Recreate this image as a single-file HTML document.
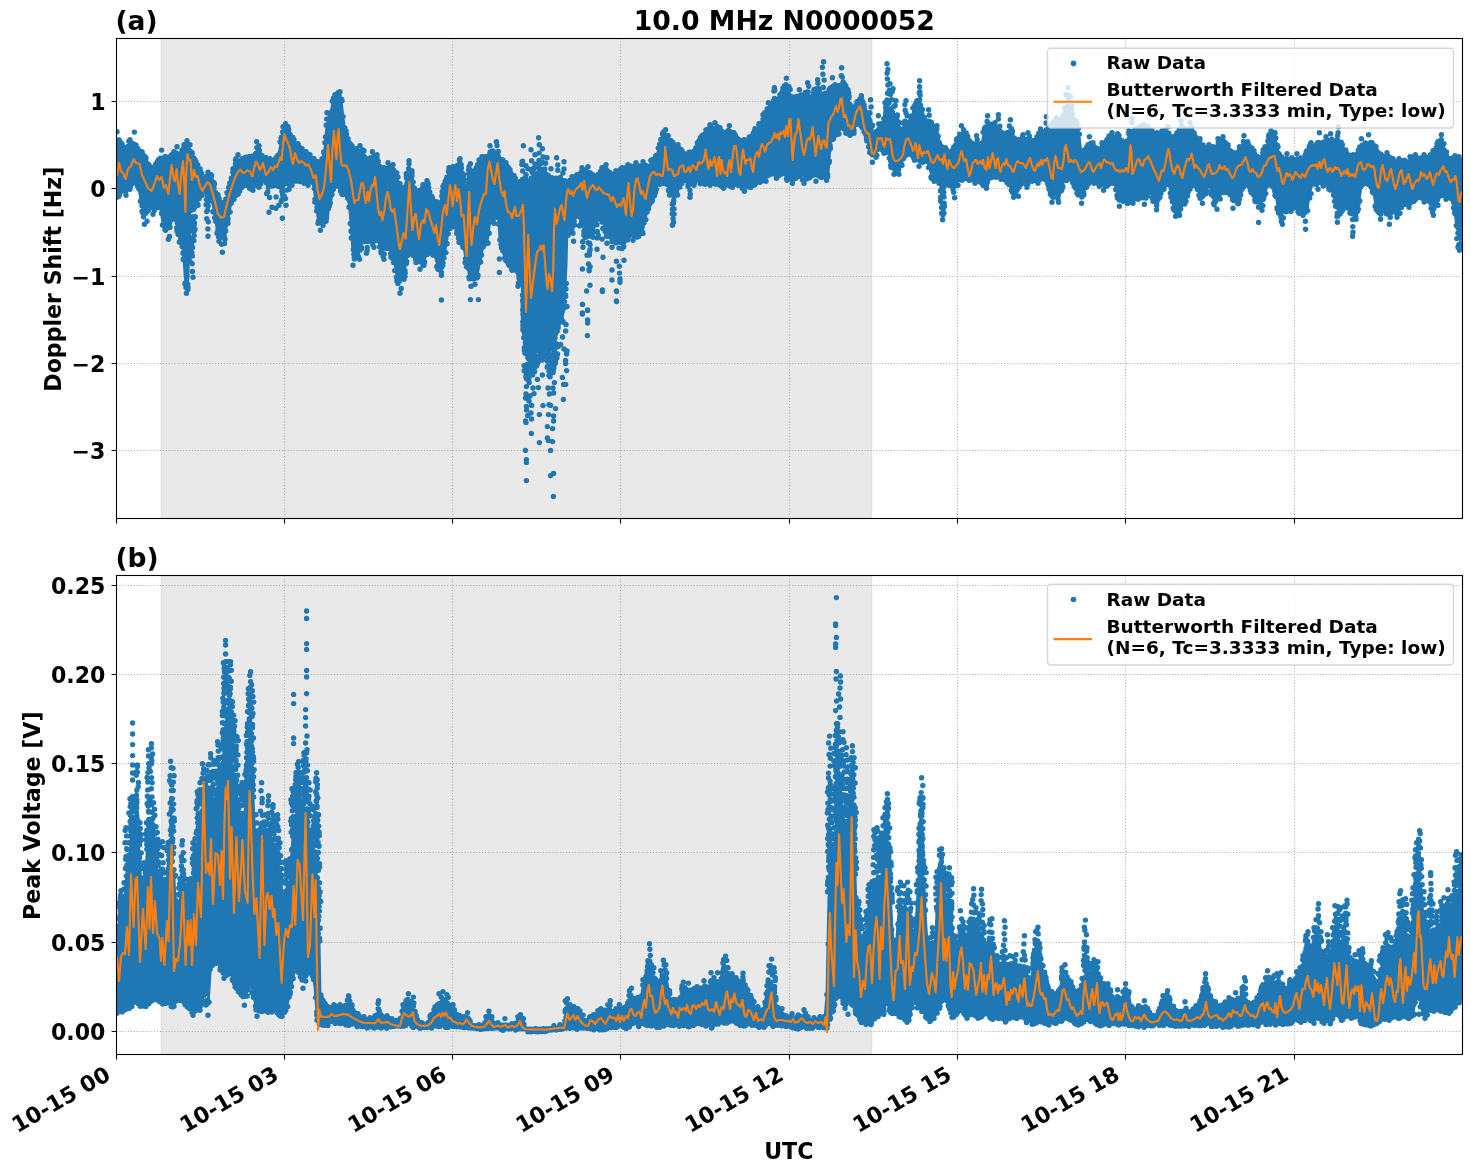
<!DOCTYPE html><html><head><meta charset="utf-8"><title>10.0 MHz N0000052</title>
<style>html,body{margin:0;padding:0;background:#fff}svg{display:block}text{font-family:"DejaVu Sans","Liberation Sans",sans-serif;font-weight:bold;fill:#000}</style></head><body>
<svg width="1471" height="1172" viewBox="0 0 1471 1172">
<rect width="1471" height="1172" fill="#fff"/>
<defs><clipPath id="ca"><rect x="116.5" y="38.5" width="1346" height="480"/></clipPath><clipPath id="cb"><rect x="116.5" y="575.5" width="1346" height="479"/></clipPath></defs>
<rect x="161.3" y="38.5" width="710.2" height="480.0" fill="#d3d3d3" fill-opacity="0.5"/>
<path d="M161.3 38.5V518.5M871.5 38.5V518.5" stroke="#d3d3d3" stroke-opacity="0.5" stroke-width="1.4" fill="none"/>
<path d="M284.50 38.5V518.5M452.50 38.5V518.5M620.50 38.5V518.5M789.50 38.5V518.5M957.50 38.5V518.5M1125.50 38.5V518.5M1294.50 38.5V518.5M116.5 101.50H1462.5M116.5 188.50H1462.5M116.5 276.50H1462.5M116.5 363.50H1462.5M116.5 450.50H1462.5" stroke="#b0b0b0" stroke-width="1.1" stroke-dasharray="1.1 1.8" fill="none"/>
<g clip-path="url(#ca)">
<path d="M116.5 141.9 117.5 141.9 118.5 141.9 119.5 141.9 120.5 143.9 121.5 145.2 122.5 146.8 123.5 148.5 124.5 149.2 125.5 149.0 126.5 148.5 127.5 147.7 128.5 146.0 129.5 143.3 130.5 143.3 131.5 143.3 132.5 143.3 133.5 143.3 134.5 143.3 135.5 143.3 136.5 145.3 137.5 149.1 138.5 151.8 139.5 153.5 140.5 154.2 141.5 154.2 142.5 155.1 143.5 157.6 144.5 159.1 145.5 159.6 146.5 161.5 147.5 164.7 148.5 167.0 149.5 168.3 150.5 169.3 151.5 170.0 152.5 169.7 153.5 168.5 154.5 167.6 155.5 167.1 156.5 165.6 157.5 163.1 158.5 161.1 159.5 159.3 160.5 159.3 161.5 159.3 162.5 159.3 163.5 159.3 164.5 159.3 165.5 159.3 166.5 160.2 167.5 160.4 168.5 159.8 169.5 158.5 170.5 157.9 171.5 157.9 172.5 156.9 173.5 154.9 174.5 154.4 175.5 154.4 176.5 154.4 177.5 154.4 178.5 154.4 179.5 154.4 180.5 154.4 181.5 153.4 182.5 151.4 183.5 148.4 184.5 148.4 185.5 148.4 186.5 148.4 187.5 148.4 188.5 148.4 189.5 148.4 190.5 149.0 191.5 153.0 192.5 155.7 193.5 158.5 194.5 161.5 195.5 163.2 196.5 165.3 197.5 168.0 198.5 169.7 199.5 170.5 200.5 172.3 201.5 175.0 202.5 176.7 203.5 177.5 204.5 178.0 205.5 178.1 206.5 178.1 207.5 178.1 208.5 178.1 209.5 178.1 210.5 178.1 211.5 178.7 212.5 182.0 213.5 184.0 214.5 186.9 215.5 190.9 216.5 193.9 217.5 195.9 218.5 198.9 219.5 202.5 220.5 204.9 221.5 206.0 222.5 206.0 223.5 204.7 224.5 202.9 225.5 200.5 226.5 196.9 227.5 193.0 228.5 189.0 229.5 183.7 230.5 179.7 231.5 177.0 232.5 173.0 233.5 169.7 234.5 167.0 235.5 163.0 236.5 161.3 237.5 161.3 238.5 161.3 239.5 161.3 240.5 161.3 241.5 161.3 242.5 161.3 243.5 162.0 244.5 161.7 245.5 161.0 246.5 161.0 247.5 161.0 248.5 160.7 249.5 159.5 250.5 158.9 251.5 158.9 252.5 157.9 253.5 155.9 254.5 154.0 255.5 154.0 256.5 154.0 257.5 154.0 258.5 154.0 259.5 154.0 260.5 154.0 261.5 156.7 262.5 158.6 263.5 160.1 264.5 160.6 265.5 160.6 266.5 160.6 267.5 161.7 268.5 162.0 269.5 162.0 270.5 162.0 271.5 162.4 272.5 162.4 273.5 161.4 274.5 160.6 275.5 160.1 276.5 158.6 277.5 156.1 278.5 153.0 279.5 149.0 280.5 143.7 281.5 138.3 282.5 132.3 283.5 132.3 284.5 132.3 285.5 132.3 286.5 132.3 287.5 132.3 288.5 132.3 289.5 134.0 290.5 136.0 291.5 138.2 292.5 140.5 293.5 141.5 294.5 142.9 295.5 144.9 296.5 145.9 297.5 145.9 298.5 147.0 299.5 149.2 300.5 150.5 301.5 150.8 302.5 151.8 303.5 153.5 304.5 154.2 305.5 154.2 306.5 154.8 307.5 156.5 308.5 157.2 309.5 157.2 310.5 157.9 311.5 159.9 312.5 160.9 313.5 160.9 314.5 161.8 315.5 163.5 316.5 164.2 317.5 164.2 318.5 164.3 319.5 165.0 320.5 164.7 321.5 163.5 322.5 160.4 323.5 155.0 324.5 148.4 325.5 137.8 326.5 125.5 327.5 122.2 328.5 115.8 329.5 114.5 330.5 112.1 331.5 107.8 332.5 102.6 333.5 101.3 334.5 98.5 335.5 98.5 336.5 98.5 337.5 98.5 338.5 98.5 339.5 98.5 340.5 98.5 341.5 101.1 342.5 109.2 343.5 118.4 344.5 125.0 345.5 130.4 346.5 135.3 347.5 139.3 348.5 142.3 349.5 145.0 350.5 146.7 351.5 147.5 352.5 148.8 353.5 150.5 354.5 151.2 355.5 151.2 356.5 151.2 357.5 151.2 358.5 151.2 359.5 151.2 360.5 151.2 361.5 151.2 362.5 152.5 363.5 152.8 364.5 154.1 365.5 156.6 366.5 158.1 367.5 158.6 368.5 158.8 369.5 158.7 370.5 157.8 371.5 157.8 372.5 157.8 373.5 157.8 374.5 157.8 375.5 157.8 376.5 157.8 377.5 159.4 378.5 164.0 379.5 167.4 380.5 169.4 381.5 170.4 382.5 170.4 383.5 169.4 384.5 168.9 385.5 168.9 386.5 167.9 387.5 167.9 388.5 167.9 389.5 167.9 390.5 167.9 391.5 167.9 392.5 167.9 393.5 168.4 394.5 171.4 395.5 173.4 396.5 174.4 397.5 177.2 398.5 181.5 399.5 184.5 400.5 188.5 401.5 193.5 402.5 197.2 403.5 196.0 404.5 190.0 405.5 182.7 406.5 178.0 407.5 178.0 408.5 178.0 409.5 178.0 410.5 178.0 411.5 178.0 412.5 178.0 413.5 184.0 414.5 188.7 415.5 191.6 416.5 193.1 417.5 193.6 418.5 193.1 419.5 192.6 420.5 192.1 421.5 190.6 422.5 188.9 423.5 188.9 424.5 188.9 425.5 188.9 426.5 188.9 427.5 188.9 428.5 188.9 429.5 191.9 430.5 193.9 431.5 196.4 432.5 199.4 433.5 201.4 434.5 202.4 435.5 203.4 436.5 204.5 437.5 204.9 438.5 204.5 439.5 203.4 440.5 201.0 441.5 197.0 442.5 191.7 443.5 188.0 444.5 186.0 445.5 182.7 446.5 179.5 447.5 176.5 448.5 172.2 449.5 171.0 450.5 171.0 451.5 170.7 452.5 170.0 453.5 170.0 454.5 170.0 455.5 169.7 456.5 169.7 457.5 169.7 458.5 169.7 459.5 169.7 460.5 169.7 461.5 169.7 462.5 173.0 463.5 178.0 464.5 184.0 465.5 188.7 466.5 187.7 467.5 181.0 468.5 179.6 469.5 179.5 470.5 177.1 471.5 173.2 472.5 172.4 473.5 173.6 474.5 174.9 475.5 172.4 476.5 168.1 477.5 164.6 478.5 162.9 479.5 162.9 480.5 161.9 481.5 160.0 482.5 160.0 483.5 160.0 484.5 159.7 485.5 158.5 486.5 157.1 487.5 155.6 488.5 153.1 489.5 152.5 490.5 152.5 491.5 152.5 492.5 152.5 493.5 152.5 494.5 152.5 495.5 152.5 496.5 152.5 497.5 152.5 498.5 152.5 499.5 154.9 500.5 158.5 501.5 160.9 502.5 162.8 503.5 164.5 504.5 165.2 505.5 165.2 506.5 166.3 507.5 169.0 508.5 170.7 509.5 171.5 510.5 173.0 511.5 175.3 512.5 176.9 513.5 177.7 514.5 177.8 515.5 179.3 516.5 182.0 517.5 183.7 518.5 184.5 519.5 181.2 520.5 184.6 521.5 184.3 522.5 184.1 523.5 183.8 524.5 183.6 525.5 183.3 526.5 183.1 527.5 182.8 528.5 182.2 529.5 181.2 530.5 180.2 531.5 179.2 532.5 178.2 533.5 177.2 534.5 176.2 535.5 175.2 536.5 174.7 537.5 174.7 538.5 174.7 539.5 174.7 540.5 174.7 541.5 174.7 542.5 174.7 543.5 174.7 544.5 174.9 545.5 175.4 546.5 175.9 547.5 176.4 548.5 176.9 549.5 177.4 550.5 177.9 551.5 178.4 552.5 178.8 553.5 179.1 554.5 179.3 555.5 179.6 556.5 179.8 557.5 180.1 558.5 180.3 559.5 180.6 560.5 180.9 561.5 181.2 562.5 181.5 563.5 181.9 564.5 182.2 565.5 182.5 566.5 180.2 567.5 183.0 568.5 183.3 569.5 182.9 570.5 181.7 571.5 179.9 572.5 179.9 573.5 179.9 574.5 179.9 575.5 179.1 576.5 177.6 577.5 176.7 578.5 176.4 579.5 175.4 580.5 173.6 581.5 171.9 582.5 171.9 583.5 171.9 584.5 171.9 585.5 171.9 586.5 171.9 587.5 171.9 588.5 171.9 589.5 172.9 590.5 174.9 591.5 176.1 592.5 176.6 593.5 177.2 594.5 177.9 595.5 177.9 596.5 177.1 597.5 175.6 598.5 174.8 599.5 174.5 600.5 173.2 601.5 171.4 602.5 171.4 603.5 171.4 604.5 171.4 605.5 171.4 606.5 171.4 607.5 171.4 608.5 173.4 609.5 174.4 610.5 175.2 611.5 176.1 612.5 176.5 613.5 176.1 614.5 175.1 615.5 174.1 616.5 174.1 617.5 174.1 618.5 174.1 619.5 173.6 620.5 172.4 621.5 171.1 622.5 171.1 623.5 171.1 624.5 171.1 625.5 170.6 626.5 169.4 627.5 169.3 628.5 169.3 629.5 169.3 630.5 169.3 631.5 169.3 632.5 169.0 633.5 168.2 634.5 167.3 635.5 167.3 636.5 167.3 637.5 167.3 638.5 167.3 639.5 167.3 640.5 167.3 641.5 167.3 642.5 167.3 643.5 167.3 644.5 167.3 645.5 168.4 646.5 169.0 647.5 168.9 648.5 168.4 649.5 167.4 650.5 165.4 651.5 162.4 652.5 160.6 653.5 160.1 654.5 158.6 655.5 156.1 656.5 154.0 657.5 152.2 658.5 149.5 659.5 145.8 660.5 142.9 661.5 140.5 662.5 137.5 663.5 137.5 664.5 137.5 665.5 137.5 666.5 137.5 667.5 137.5 668.5 137.5 669.5 139.0 670.5 141.2 671.5 142.5 672.5 142.8 673.5 143.8 674.5 145.7 675.5 146.9 676.5 147.3 677.5 147.3 678.5 148.1 679.5 150.6 680.5 152.1 681.5 152.6 682.5 153.7 683.5 155.6 684.5 157.0 685.5 157.6 686.5 157.6 687.5 157.1 688.5 156.6 689.5 155.1 690.5 153.8 691.5 153.5 692.5 152.2 693.5 150.0 694.5 148.6 695.5 148.1 696.5 146.6 697.5 144.1 698.5 142.6 699.5 142.1 700.5 140.6 701.5 138.1 702.5 136.8 703.5 136.5 704.5 135.2 705.5 133.0 706.5 131.8 707.5 131.5 708.5 130.2 709.5 128.0 710.5 128.0 711.5 128.0 712.5 128.0 713.5 128.0 714.5 128.0 715.5 128.0 716.5 128.0 717.5 129.4 718.5 130.0 719.5 130.0 720.5 130.7 721.5 132.4 722.5 133.4 723.5 133.6 724.5 133.1 725.5 132.9 726.5 132.9 727.5 132.9 728.5 132.9 729.5 132.9 730.5 132.9 731.5 132.9 732.5 134.2 733.5 134.6 734.5 136.0 735.5 138.3 736.5 139.9 737.5 140.7 738.5 140.8 739.5 141.5 740.5 142.8 741.5 143.4 742.5 143.2 743.5 143.1 744.5 143.1 745.5 143.1 746.5 143.1 747.5 142.6 748.5 141.4 749.5 139.6 750.5 138.6 751.5 138.1 752.5 136.9 753.5 134.9 754.5 132.2 755.5 130.8 756.5 130.5 757.5 129.2 758.5 127.0 759.5 125.3 760.5 124.0 761.5 121.7 762.5 118.5 763.5 116.4 764.5 115.0 765.5 112.4 766.5 110.1 767.5 108.6 768.5 108.6 769.5 108.6 770.5 108.6 771.5 106.6 772.5 101.8 773.5 100.3 774.5 100.3 775.5 100.3 776.5 100.3 777.5 100.3 778.5 100.3 779.5 99.0 780.5 96.7 781.5 93.5 782.5 91.1 783.5 91.1 784.5 91.1 785.5 91.1 786.5 91.1 787.5 91.1 788.5 91.1 789.5 91.2 790.5 95.5 791.5 98.5 792.5 100.3 793.5 101.0 794.5 100.7 795.5 99.5 796.5 99.5 797.5 99.5 798.5 99.5 799.5 99.5 800.5 99.5 801.5 99.5 802.5 101.0 803.5 100.5 804.5 97.9 805.5 97.9 806.5 97.9 807.5 97.9 808.5 97.9 809.5 97.9 810.5 97.9 811.5 98.2 812.5 96.5 813.5 94.4 814.5 94.4 815.5 94.4 816.5 94.4 817.5 94.4 818.5 94.4 819.5 94.4 820.5 99.4 821.5 95.1 822.5 95.1 823.5 95.1 824.5 95.1 825.5 95.1 826.5 95.1 827.5 95.1 828.5 95.5 829.5 92.6 830.5 89.0 831.5 89.0 832.5 89.0 833.5 89.0 834.5 89.0 835.5 89.0 836.5 89.0 837.5 89.0 838.5 88.3 839.5 88.3 840.5 88.3 841.5 88.3 842.5 88.3 843.5 88.3 844.5 88.3 845.5 89.0 846.5 91.0 847.5 92.1 848.5 96.1 849.5 103.6 850.5 108.0 851.5 110.0 852.5 110.7 853.5 110.5 854.5 109.7 855.5 108.0 856.5 105.3 857.5 105.3 858.5 105.3 859.5 105.3 860.5 105.3 861.5 105.3 862.5 105.3 863.5 105.6 864.5 109.7 865.5 115.0 866.5 119.0 867.5 119.0 868.5 119.0 869.5 119.0 870.5 120.3 871.5 122.3 872.5 127.2 873.5 139.1 874.5 142.3 875.5 137.2 876.5 131.3 877.5 129.6 878.5 129.6 879.5 129.6 880.5 129.6 881.5 129.6 882.5 127.0 883.5 119.0 884.5 109.7 885.5 107.9 886.5 108.4 887.5 109.0 888.5 110.0 889.5 110.2 890.5 110.3 891.5 112.2 892.5 113.7 893.5 115.9 894.5 118.2 895.5 118.5 896.5 113.6 897.5 114.0 898.5 120.0 899.5 125.4 900.5 130.0 901.5 133.4 902.5 131.4 903.5 124.4 904.5 122.9 905.5 122.9 906.5 122.9 907.5 122.9 908.5 122.9 909.5 122.9 910.5 122.9 911.5 118.9 912.5 113.9 913.5 107.9 914.5 105.0 915.5 105.0 916.5 105.0 917.5 105.0 918.5 105.0 919.5 105.8 920.5 107.0 921.5 107.9 922.5 107.6 923.5 113.7 924.5 119.0 925.5 123.0 926.5 123.0 927.5 123.0 928.5 123.0 929.5 123.0 930.5 123.0 931.5 125.2 932.5 127.5 933.5 128.8 934.5 129.4 935.5 129.4 936.5 129.4 937.5 130.5 938.5 135.7 939.5 140.0 940.5 143.3 941.5 146.0 942.5 148.3 943.5 149.9 944.5 150.7 945.5 150.8 946.5 151.4 947.5 152.6 948.5 153.3 949.5 153.3 950.5 152.6 951.5 151.4 952.5 150.4 953.5 149.5 954.5 147.9 955.5 145.5 956.5 142.4 957.5 139.9 958.5 138.0 959.5 135.2 960.5 134.8 961.5 134.8 962.5 134.8 963.5 134.8 964.5 134.8 965.5 134.8 966.5 134.8 967.5 136.4 968.5 139.5 969.5 141.9 970.5 143.5 971.5 144.4 972.5 144.6 973.5 144.6 974.5 144.6 975.5 144.6 976.5 144.6 977.5 144.6 978.5 145.4 979.5 147.8 980.5 147.1 981.5 143.6 982.5 139.1 983.5 133.6 984.5 129.6 985.5 127.1 986.5 127.1 987.5 127.1 988.5 127.1 989.5 127.1 990.5 127.1 991.5 127.1 992.5 127.6 993.5 127.1 994.5 127.1 995.5 127.1 996.5 127.1 997.5 127.1 998.5 127.1 999.5 127.1 1000.5 128.8 1001.5 132.9 1002.5 135.6 1003.5 137.1 1004.5 137.6 1005.5 137.1 1006.5 135.7 1007.5 135.7 1008.5 135.7 1009.5 135.7 1010.5 135.7 1011.5 135.7 1012.5 135.7 1013.5 138.7 1014.5 141.6 1015.5 143.1 1016.5 143.6 1017.5 143.1 1018.5 142.8 1019.5 142.7 1020.5 141.9 1021.5 140.3 1022.5 138.0 1023.5 138.0 1024.5 138.0 1025.5 138.0 1026.5 138.0 1027.5 138.0 1028.5 138.0 1029.5 138.9 1030.5 140.9 1031.5 142.1 1032.5 142.6 1033.5 142.9 1034.5 142.9 1035.5 141.9 1036.5 139.9 1037.5 138.4 1038.5 137.1 1039.5 134.7 1040.5 133.8 1041.5 133.8 1042.5 133.8 1043.5 133.2 1044.5 130.4 1045.5 128.7 1046.5 128.7 1047.5 128.7 1048.5 128.7 1049.5 128.7 1050.5 128.7 1051.5 128.0 1052.5 126.0 1053.5 124.7 1054.5 124.7 1055.5 124.7 1056.5 124.7 1057.5 124.7 1058.5 124.7 1059.5 124.7 1060.5 123.6 1061.5 121.1 1062.5 117.6 1063.5 113.1 1064.5 107.8 1065.5 107.8 1066.5 107.8 1067.5 107.8 1068.5 107.8 1069.5 107.8 1070.5 107.8 1071.5 108.3 1072.5 115.5 1073.5 120.0 1074.5 122.0 1075.5 122.7 1076.5 124.7 1077.5 128.0 1078.5 130.0 1079.5 135.7 1080.5 145.0 1081.5 153.0 1082.5 156.4 1083.5 155.4 1084.5 153.4 1085.5 150.4 1086.5 147.9 1087.5 146.1 1088.5 146.1 1089.5 146.1 1090.5 146.1 1091.5 146.1 1092.5 146.1 1093.5 146.1 1094.5 148.6 1095.5 150.1 1096.5 150.6 1097.5 150.8 1098.5 150.7 1099.5 149.9 1100.5 148.3 1101.5 146.0 1102.5 145.1 1103.5 145.1 1104.5 144.8 1105.5 143.8 1106.5 142.1 1107.5 139.9 1108.5 138.9 1109.5 138.9 1110.5 137.9 1111.5 137.7 1112.5 137.7 1113.5 137.7 1114.5 137.7 1115.5 137.7 1116.5 137.7 1117.5 137.7 1118.5 138.3 1119.5 140.7 1120.5 142.1 1121.5 142.6 1122.5 143.6 1123.5 145.1 1124.5 145.6 1125.5 145.1 1126.5 143.4 1127.5 140.0 1128.5 135.4 1129.5 131.4 1130.5 131.4 1131.5 131.4 1132.5 131.4 1133.5 131.4 1134.5 131.4 1135.5 131.4 1136.5 131.9 1137.5 131.9 1138.5 131.1 1139.5 129.6 1140.5 129.6 1141.5 129.6 1142.5 129.6 1143.5 129.6 1144.5 129.6 1145.5 129.6 1146.5 129.6 1147.5 129.6 1148.5 129.9 1149.5 131.9 1150.5 132.9 1151.5 132.9 1152.5 133.6 1153.5 135.1 1154.5 135.9 1155.5 135.9 1156.5 135.9 1157.5 135.9 1158.5 135.9 1159.5 135.9 1160.5 135.1 1161.5 133.6 1162.5 133.6 1163.5 133.6 1164.5 133.6 1165.5 133.6 1166.5 133.6 1167.5 133.6 1168.5 133.6 1169.5 134.1 1170.5 136.6 1171.5 138.1 1172.5 140.4 1173.5 143.0 1174.5 144.4 1175.5 142.8 1176.5 137.8 1177.5 133.9 1178.5 131.9 1179.5 130.8 1180.5 130.8 1181.5 130.8 1182.5 130.8 1183.5 130.8 1184.5 130.8 1185.5 130.8 1186.5 130.8 1187.5 130.8 1188.5 130.8 1189.5 130.8 1190.5 130.8 1191.5 130.8 1192.5 132.6 1193.5 134.1 1194.5 135.9 1195.5 138.1 1196.5 139.8 1197.5 140.8 1198.5 141.1 1199.5 141.1 1200.5 142.2 1201.5 144.9 1202.5 146.9 1203.5 148.1 1204.5 148.6 1205.5 149.1 1206.5 149.6 1207.5 149.6 1208.5 149.6 1209.5 149.6 1210.5 149.6 1211.5 149.6 1212.5 149.1 1213.5 148.6 1214.5 148.1 1215.5 146.9 1216.5 144.9 1217.5 142.2 1218.5 142.2 1219.5 142.2 1220.5 142.2 1221.5 142.2 1222.5 142.2 1223.5 142.2 1224.5 142.9 1225.5 144.9 1226.5 146.1 1227.5 146.6 1228.5 148.2 1229.5 150.9 1230.5 152.9 1231.5 154.1 1232.5 154.6 1233.5 154.8 1234.5 154.7 1235.5 153.9 1236.5 152.3 1237.5 150.0 1238.5 148.5 1239.5 147.9 1240.5 146.7 1241.5 144.9 1242.5 144.7 1243.5 144.7 1244.5 144.7 1245.5 144.7 1246.5 144.7 1247.5 144.7 1248.5 144.7 1249.5 146.2 1250.5 148.9 1251.5 150.9 1252.5 152.1 1253.5 152.6 1254.5 153.7 1255.5 155.6 1256.5 157.0 1257.5 157.6 1258.5 157.6 1259.5 157.1 1260.5 156.6 1261.5 156.1 1262.5 154.9 1263.5 152.9 1264.5 150.2 1265.5 147.9 1266.5 145.9 1267.5 142.9 1268.5 138.9 1269.5 137.7 1270.5 137.7 1271.5 137.7 1272.5 137.7 1273.5 137.7 1274.5 137.7 1275.5 137.7 1276.5 143.0 1277.5 147.0 1278.5 150.6 1279.5 154.1 1280.5 156.6 1281.5 158.1 1282.5 159.1 1283.5 159.6 1284.5 159.6 1285.5 159.6 1286.5 159.6 1287.5 159.6 1288.5 159.6 1289.5 159.9 1290.5 160.3 1291.5 160.3 1292.5 160.3 1293.5 160.3 1294.5 160.3 1295.5 160.3 1296.5 160.3 1297.5 160.3 1298.5 160.3 1299.5 160.4 1300.5 161.0 1301.5 160.9 1302.5 160.6 1303.5 160.1 1304.5 158.9 1305.5 156.9 1306.5 154.2 1307.5 152.4 1308.5 151.4 1309.5 149.4 1310.5 148.9 1311.5 148.9 1312.5 148.9 1313.5 148.9 1314.5 148.9 1315.5 147.8 1316.5 145.7 1317.5 144.4 1318.5 144.4 1319.5 144.4 1320.5 144.4 1321.5 144.4 1322.5 144.4 1323.5 144.4 1324.5 143.0 1325.5 140.4 1326.5 140.4 1327.5 140.4 1328.5 140.4 1329.5 140.4 1330.5 140.4 1331.5 140.4 1332.5 141.5 1333.5 143.4 1334.5 144.4 1335.5 143.2 1336.5 143.2 1337.5 143.2 1338.5 143.2 1339.5 143.2 1340.5 143.2 1341.5 143.2 1342.5 144.5 1343.5 147.5 1344.5 150.7 1345.5 153.0 1346.5 154.3 1347.5 155.6 1348.5 157.1 1349.5 158.1 1350.5 158.5 1351.5 158.1 1352.5 157.9 1353.5 157.9 1354.5 157.9 1355.5 157.9 1356.5 157.1 1357.5 155.6 1358.5 153.3 1359.5 150.0 1360.5 146.6 1361.5 146.6 1362.5 146.6 1363.5 146.6 1364.5 146.6 1365.5 146.0 1366.5 145.9 1367.5 145.9 1368.5 145.9 1369.5 145.9 1370.5 145.9 1371.5 145.9 1372.5 145.9 1373.5 147.9 1374.5 148.9 1375.5 148.9 1376.5 150.0 1377.5 152.3 1378.5 153.9 1379.5 154.7 1380.5 154.8 1381.5 155.4 1382.5 156.6 1383.5 157.3 1384.5 157.3 1385.5 157.3 1386.5 157.3 1387.5 157.3 1388.5 158.1 1389.5 159.8 1390.5 160.8 1391.5 161.1 1392.5 161.1 1393.5 161.4 1394.5 162.6 1395.5 163.3 1396.5 163.3 1397.5 163.3 1398.5 163.3 1399.5 163.3 1400.5 163.3 1401.5 164.1 1402.5 164.5 1403.5 164.1 1404.5 163.3 1405.5 163.3 1406.5 163.3 1407.5 162.9 1408.5 161.7 1409.5 160.2 1410.5 160.2 1411.5 160.2 1412.5 160.2 1413.5 160.2 1414.5 160.2 1415.5 160.2 1416.5 160.2 1417.5 160.6 1418.5 161.2 1419.5 161.0 1420.5 160.9 1421.5 160.9 1422.5 159.9 1423.5 159.9 1424.5 159.9 1425.5 159.9 1426.5 159.9 1427.5 159.9 1428.5 159.2 1429.5 158.6 1430.5 158.1 1431.5 156.6 1432.5 154.1 1433.5 152.5 1434.5 151.7 1435.5 150.0 1436.5 147.3 1437.5 145.4 1438.5 145.4 1439.5 145.4 1440.5 145.4 1441.5 145.4 1442.5 145.4 1443.5 145.4 1444.5 147.7 1445.5 150.6 1446.5 154.1 1447.5 156.6 1448.5 158.1 1449.5 159.3 1450.5 160.4 1451.5 160.9 1452.5 160.7 1453.5 160.2 1454.5 160.2 1455.5 160.2 1456.5 160.2 1457.5 160.2 1458.5 160.2 1459.5 160.2 1460.5 162.8 1461.5 164.2 1462.5 164.7 L1462.5 231.5 1461.5 231.1 1460.5 229.7 1459.5 227.7 1458.5 226.4 1457.5 226.4 1456.5 226.0 1455.5 220.2 1454.5 211.2 1453.5 205.1 1452.5 201.1 1451.5 198.1 1450.5 196.1 1449.5 194.9 1448.5 194.4 1447.5 194.4 1446.5 194.4 1445.5 194.4 1444.5 194.1 1443.5 193.1 1442.5 193.1 1441.5 193.9 1440.5 195.4 1439.5 197.9 1438.5 201.4 1437.5 203.7 1436.5 203.7 1435.5 203.7 1434.5 203.7 1433.5 203.7 1432.5 203.7 1431.5 203.7 1430.5 202.3 1429.5 200.2 1428.5 198.6 1427.5 197.6 1426.5 197.4 1425.5 197.4 1424.5 197.4 1423.5 197.1 1422.5 195.5 1421.5 194.6 1420.5 194.5 1419.5 194.7 1418.5 194.7 1417.5 194.7 1416.5 195.1 1415.5 196.3 1414.5 198.2 1413.5 199.2 1412.5 199.3 1411.5 200.1 1410.5 201.7 1409.5 201.8 1408.5 201.8 1407.5 201.8 1406.5 201.8 1405.5 201.8 1404.5 202.4 1403.5 203.4 1402.5 204.4 1401.5 206.4 1400.5 209.5 1399.5 209.5 1398.5 209.5 1397.5 209.5 1396.5 209.5 1395.5 209.5 1394.5 209.5 1393.5 209.4 1392.5 210.4 1391.5 210.4 1390.5 210.4 1389.5 210.4 1388.5 210.4 1387.5 210.4 1386.5 210.4 1385.5 208.3 1384.5 207.7 1383.5 209.0 1382.5 209.5 1381.5 209.5 1380.5 209.5 1379.5 209.5 1378.5 209.5 1377.5 209.5 1376.5 209.5 1375.5 205.9 1374.5 199.4 1373.5 193.9 1372.5 189.4 1371.5 186.0 1370.5 183.7 1369.5 182.1 1368.5 181.3 1367.5 181.2 1366.5 180.8 1365.5 180.1 1364.5 180.1 1363.5 180.9 1362.5 182.4 1361.5 186.3 1360.5 193.0 1359.5 201.0 1358.5 206.6 1357.5 210.0 1356.5 214.6 1355.5 214.6 1354.5 214.6 1353.5 214.6 1352.5 214.6 1351.5 214.6 1350.5 214.6 1349.5 211.4 1348.5 207.9 1347.5 205.4 1346.5 203.9 1345.5 203.4 1344.5 203.9 1343.5 205.4 1342.5 207.9 1341.5 207.9 1340.5 207.9 1339.5 207.9 1338.5 207.9 1337.5 207.9 1336.5 207.9 1335.5 204.8 1334.5 198.3 1333.5 193.8 1332.5 191.1 1331.5 189.1 1330.5 187.9 1329.5 187.4 1328.5 186.3 1327.5 184.4 1326.5 183.0 1325.5 182.4 1324.5 182.4 1323.5 182.7 1322.5 182.7 1321.5 182.7 1320.5 182.7 1319.5 182.7 1318.5 182.7 1317.5 182.7 1316.5 182.7 1315.5 182.7 1314.5 182.7 1313.5 183.0 1312.5 184.6 1311.5 187.6 1310.5 191.6 1309.5 196.6 1308.5 202.7 1307.5 210.1 1306.5 210.4 1305.5 210.4 1304.5 210.4 1303.5 210.4 1302.5 210.4 1301.5 210.4 1300.5 210.4 1299.5 210.4 1298.5 209.6 1297.5 206.6 1296.5 204.6 1295.5 203.6 1294.5 203.4 1293.5 203.9 1292.5 205.4 1291.5 207.1 1290.5 207.1 1289.5 207.1 1288.5 207.1 1287.5 207.5 1286.5 208.6 1285.5 210.4 1284.5 210.4 1283.5 210.4 1282.5 210.4 1281.5 210.4 1280.5 210.4 1279.5 210.4 1278.5 210.1 1277.5 206.0 1276.5 200.0 1275.5 195.3 1274.5 191.4 1273.5 187.9 1272.5 185.4 1271.5 183.9 1270.5 182.7 1269.5 182.7 1268.5 184.1 1267.5 186.1 1266.5 189.1 1265.5 193.1 1264.5 196.8 1263.5 200.5 1262.5 200.5 1261.5 200.5 1260.5 200.5 1259.5 200.5 1258.5 200.5 1257.5 200.5 1256.5 200.2 1255.5 199.4 1254.5 197.5 1253.5 194.3 1252.5 192.0 1251.5 190.7 1250.5 188.7 1249.5 186.0 1248.5 184.3 1247.5 183.5 1246.5 183.0 1245.5 182.7 1244.5 183.1 1243.5 184.3 1242.5 186.2 1241.5 188.7 1240.5 192.0 1239.5 196.5 1238.5 200.8 1237.5 200.8 1236.5 200.8 1235.5 200.8 1234.5 200.8 1233.5 200.8 1232.5 200.8 1231.5 198.5 1230.5 194.8 1229.5 192.1 1228.5 190.1 1227.5 189.1 1226.5 189.1 1225.5 189.2 1224.5 189.3 1223.5 190.1 1222.5 191.7 1221.5 194.0 1220.5 196.1 1219.5 198.1 1218.5 198.1 1217.5 198.1 1216.5 198.1 1215.5 198.1 1214.5 198.1 1213.5 198.1 1212.5 195.7 1211.5 191.6 1210.5 188.6 1209.5 187.1 1208.5 187.1 1207.5 188.1 1206.5 190.1 1205.5 192.0 1204.5 192.0 1203.5 192.0 1202.5 192.0 1201.5 192.0 1200.5 192.0 1199.5 192.0 1198.5 191.4 1197.5 187.9 1196.5 185.4 1195.5 183.9 1194.5 183.0 1193.5 182.7 1192.5 183.1 1191.5 184.3 1190.5 186.2 1189.5 188.1 1188.5 190.1 1187.5 193.1 1186.5 197.1 1185.5 199.6 1184.5 201.0 1183.5 203.6 1182.5 205.8 1181.5 207.3 1180.5 207.6 1179.5 207.8 1178.5 207.9 1177.5 207.5 1176.5 208.7 1175.5 208.7 1174.5 208.6 1173.5 206.7 1172.5 201.1 1171.5 196.9 1170.5 192.6 1169.5 188.0 1168.5 184.6 1167.5 183.1 1166.5 183.1 1165.5 184.1 1164.5 186.1 1163.5 187.6 1162.5 188.6 1161.5 190.6 1160.5 193.6 1159.5 196.4 1158.5 197.6 1157.5 197.6 1156.5 197.6 1155.5 197.6 1154.5 197.6 1153.5 197.6 1152.5 197.6 1151.5 194.6 1150.5 192.6 1149.5 191.6 1148.5 191.8 1147.5 193.1 1146.5 195.2 1145.5 196.5 1144.5 196.5 1143.5 196.5 1142.5 196.5 1141.5 196.5 1140.5 196.5 1139.5 196.5 1138.5 196.7 1137.5 196.7 1136.5 196.7 1135.5 197.1 1134.5 198.3 1133.5 199.1 1132.5 199.1 1131.5 199.1 1130.5 199.1 1129.5 199.1 1128.5 199.1 1127.5 199.1 1126.5 198.9 1125.5 198.1 1124.5 198.1 1123.5 198.1 1122.5 198.1 1121.5 198.1 1120.5 198.1 1119.5 198.1 1118.5 198.1 1117.5 194.9 1116.5 191.1 1115.5 187.1 1114.5 184.1 1113.5 182.1 1112.5 180.8 1111.5 180.1 1110.5 180.1 1109.5 180.9 1108.5 182.4 1107.5 183.2 1106.5 183.2 1105.5 183.2 1104.5 183.2 1103.5 183.2 1102.5 183.2 1101.5 183.2 1100.5 183.2 1099.5 183.2 1098.5 182.4 1097.5 180.9 1096.5 180.1 1095.5 180.1 1094.5 180.1 1093.5 180.1 1092.5 180.1 1091.5 180.1 1090.5 180.9 1089.5 182.4 1088.5 183.1 1087.5 183.1 1086.5 184.1 1085.5 186.1 1084.5 188.7 1083.5 191.7 1082.5 191.7 1081.5 191.7 1080.5 191.7 1079.5 191.7 1078.5 191.7 1077.5 191.7 1076.5 189.4 1075.5 185.9 1074.5 183.1 1073.5 181.1 1072.5 179.8 1071.5 178.6 1070.5 177.5 1069.5 177.1 1068.5 177.5 1067.5 178.6 1066.5 179.4 1065.5 179.9 1064.5 181.1 1063.5 183.1 1062.5 185.8 1061.5 188.5 1060.5 191.5 1059.5 193.4 1058.5 193.4 1057.5 193.4 1056.5 193.4 1055.5 193.4 1054.5 193.4 1053.5 193.4 1052.5 193.4 1051.5 193.4 1050.5 192.5 1049.5 188.8 1048.5 185.6 1047.5 182.5 1046.5 180.1 1045.5 178.5 1044.5 177.6 1043.5 176.9 1042.5 176.4 1041.5 176.4 1040.5 177.0 1039.5 177.5 1038.5 177.5 1037.5 177.5 1036.5 177.5 1035.5 177.5 1034.5 177.5 1033.5 177.9 1032.5 178.8 1031.5 179.2 1030.5 179.3 1029.5 179.3 1028.5 179.3 1027.5 179.3 1026.5 179.3 1025.5 179.3 1024.5 179.3 1023.5 179.3 1022.5 179.2 1021.5 180.7 1020.5 184.0 1019.5 187.1 1018.5 187.6 1017.5 188.5 1016.5 189.4 1015.5 190.0 1014.5 190.5 1013.5 190.9 1012.5 191.4 1011.5 189.1 1010.5 187.7 1009.5 185.7 1008.5 182.8 1007.5 180.8 1006.5 179.7 1005.5 179.1 1004.5 177.4 1003.5 176.3 1002.5 176.2 1001.5 176.2 1000.5 176.2 999.5 174.9 998.5 174.1 997.5 174.1 996.5 174.1 995.5 174.1 994.5 173.5 993.5 173.1 992.5 173.5 991.5 174.6 990.5 175.8 989.5 177.1 988.5 179.2 987.5 180.0 986.5 180.0 985.5 180.0 984.5 180.0 983.5 180.0 982.5 180.0 981.5 180.0 980.5 179.3 979.5 178.8 978.5 178.1 977.5 178.1 976.5 178.1 975.5 178.1 974.5 178.1 973.5 178.1 972.5 177.4 971.5 176.9 970.5 176.9 969.5 176.9 968.5 176.9 967.5 176.1 966.5 175.3 965.5 175.1 964.5 175.6 963.5 176.7 962.5 177.2 961.5 177.3 960.5 178.1 959.5 179.7 958.5 182.0 957.5 184.1 956.5 184.1 955.5 184.1 954.5 184.1 953.5 184.1 952.5 184.1 951.5 184.1 950.5 183.1 949.5 183.1 948.5 182.6 947.5 181.6 946.5 181.6 945.5 182.6 944.5 182.6 943.5 182.6 942.5 182.6 941.5 182.6 940.5 182.6 939.5 182.6 938.5 180.4 937.5 178.9 936.5 178.1 935.5 178.1 934.5 178.1 933.5 178.0 932.5 176.0 931.5 175.3 930.5 172.6 929.5 168.0 928.5 164.6 927.5 162.2 926.5 160.3 925.5 159.1 924.5 158.7 923.5 159.0 922.5 159.0 921.5 159.0 920.5 159.0 919.5 159.0 918.5 159.0 917.5 159.0 916.5 158.6 915.5 157.6 914.5 157.3 913.5 155.9 912.5 153.4 911.5 151.9 910.5 151.4 909.5 150.9 908.5 150.4 907.5 150.9 906.5 152.4 905.5 153.9 904.5 155.4 903.5 157.9 902.5 161.4 901.5 164.1 900.5 166.5 899.5 170.1 898.5 170.1 897.5 170.1 896.5 170.1 895.5 170.1 894.5 170.1 893.5 168.8 892.5 166.4 891.5 164.1 890.5 161.5 889.5 157.0 888.5 153.0 887.5 150.6 886.5 149.6 885.5 149.6 884.5 149.6 883.5 149.6 882.5 148.1 881.5 147.1 880.5 147.1 879.5 147.6 878.5 148.6 877.5 150.6 876.5 153.6 875.5 153.6 874.5 153.6 873.5 153.6 872.5 153.6 871.5 153.6 870.5 153.6 869.5 150.2 868.5 145.2 867.5 141.4 866.5 137.9 865.5 135.4 864.5 133.9 863.5 131.0 862.5 127.0 861.5 124.3 860.5 122.3 859.5 121.0 858.5 121.0 857.5 121.9 856.5 123.4 855.5 125.9 854.5 129.4 853.5 130.4 852.5 130.4 851.5 130.4 850.5 130.4 849.5 130.4 848.5 130.4 847.5 130.4 846.5 130.4 845.5 130.1 844.5 128.1 843.5 127.1 842.5 127.1 841.5 127.2 840.5 127.5 839.5 128.8 838.5 131.0 837.5 132.0 836.5 132.0 835.5 132.6 834.5 134.0 833.5 136.1 832.5 138.3 831.5 141.0 830.5 145.0 829.5 159.9 828.5 173.7 827.5 174.2 826.5 174.2 825.5 174.2 824.5 174.2 823.5 174.2 822.5 174.2 821.5 174.7 820.5 174.7 819.5 174.7 818.5 174.7 817.5 174.7 816.5 174.7 815.5 174.7 814.5 174.7 813.5 174.7 812.5 174.4 811.5 174.4 810.5 174.9 809.5 174.9 808.5 174.9 807.5 175.2 806.5 175.2 805.5 175.2 804.5 175.2 803.5 175.2 802.5 175.2 801.5 175.2 800.5 175.2 799.5 174.9 798.5 175.0 797.5 175.0 796.5 175.0 795.5 175.5 794.5 176.7 793.5 177.3 792.5 177.3 791.5 177.3 790.5 177.3 789.5 177.3 788.5 177.3 787.5 177.3 786.5 177.1 785.5 175.0 784.5 173.6 783.5 173.0 782.5 173.0 781.5 172.9 780.5 172.2 779.5 172.2 778.5 172.3 777.5 172.3 776.5 172.3 775.5 172.3 774.5 172.3 773.5 172.3 772.5 172.3 771.5 172.9 770.5 173.2 769.5 173.3 768.5 174.1 767.5 175.7 766.5 177.1 765.5 177.1 764.5 177.1 763.5 177.1 762.5 177.3 761.5 178.1 760.5 178.9 759.5 178.9 758.5 178.9 757.5 178.9 756.5 179.4 755.5 180.6 754.5 182.4 753.5 182.4 752.5 182.4 751.5 182.9 750.5 184.4 749.5 184.5 748.5 184.5 747.5 184.5 746.5 184.5 745.5 184.5 744.5 184.5 743.5 184.5 742.5 184.5 741.5 183.7 740.5 182.9 739.5 182.8 738.5 182.8 737.5 182.8 736.5 182.0 735.5 181.7 734.5 182.2 733.5 182.2 732.5 182.2 731.5 182.2 730.5 182.2 729.5 182.2 728.5 182.6 727.5 182.6 726.5 182.6 725.5 182.6 724.5 182.6 723.5 182.6 722.5 182.6 721.5 182.6 720.5 182.6 719.5 182.5 718.5 181.3 717.5 181.0 716.5 181.0 715.5 181.0 714.5 180.6 713.5 180.1 712.5 180.3 711.5 180.6 710.5 180.6 709.5 180.6 708.5 180.6 707.5 180.6 706.5 180.6 705.5 180.6 704.5 180.6 703.5 180.2 702.5 179.6 701.5 179.6 700.5 179.6 699.5 179.6 698.5 179.6 697.5 179.5 696.5 179.9 695.5 180.9 694.5 182.4 693.5 183.4 692.5 183.4 691.5 183.4 690.5 183.4 689.5 183.4 688.5 183.4 687.5 183.4 686.5 181.6 685.5 180.4 684.5 179.9 683.5 180.1 682.5 180.9 681.5 182.0 680.5 183.7 679.5 186.1 678.5 189.3 677.5 193.2 676.5 196.0 675.5 196.8 674.5 197.0 673.5 197.0 672.5 196.6 671.5 195.6 670.5 193.7 669.5 191.8 668.5 188.9 667.5 184.3 666.5 182.4 665.5 181.0 664.5 180.4 663.5 180.4 662.5 180.9 661.5 181.2 660.5 181.3 659.5 182.1 658.5 183.7 657.5 186.0 656.5 188.1 655.5 190.1 654.5 193.1 653.5 197.1 652.5 199.0 651.5 199.0 650.5 200.3 649.5 202.6 648.5 206.0 647.5 210.6 646.5 214.9 645.5 218.4 644.5 222.9 643.5 228.4 642.5 230.9 641.5 230.4 640.5 230.6 639.5 231.6 638.5 233.3 637.5 234.0 636.5 233.7 635.5 234.1 634.5 235.3 633.5 237.2 632.5 237.3 631.5 235.6 630.5 234.6 629.5 234.4 628.5 234.9 627.5 237.5 626.5 239.2 625.5 239.3 624.5 239.3 623.5 239.3 622.5 239.3 621.5 239.3 620.5 239.3 619.5 239.1 618.5 238.6 617.5 238.1 616.5 237.6 615.5 237.1 614.5 236.6 613.5 236.1 612.5 235.6 611.5 235.1 610.5 234.6 609.5 234.1 608.5 233.6 607.5 232.2 606.5 229.9 605.5 227.7 604.5 225.4 603.5 223.2 602.5 220.9 601.5 218.7 600.5 216.4 599.5 216.4 598.5 218.7 597.5 220.9 596.5 223.2 595.5 225.4 594.5 227.7 593.5 229.9 592.5 232.2 591.5 233.6 590.5 234.3 589.5 235.0 588.5 235.6 587.5 236.3 586.5 237.0 585.5 235.5 584.5 231.8 583.5 228.1 582.5 224.5 581.5 220.8 580.5 217.1 579.5 215.0 578.5 214.3 577.5 213.6 576.5 214.5 575.5 216.9 574.5 219.3 573.5 221.7 572.5 224.1 571.5 225.3 570.5 225.3 569.5 225.3 568.5 225.3 567.5 225.3 566.5 264.8 565.5 286.5 564.5 298.6 563.5 312.3 562.5 317.8 561.5 317.8 560.5 317.8 559.5 317.8 558.5 317.8 557.5 317.8 556.5 317.8 555.5 317.5 554.5 317.3 553.5 317.1 552.5 316.9 551.5 316.7 550.5 316.5 549.5 316.4 548.5 316.3 547.5 316.2 546.5 316.1 545.5 316.0 544.5 316.0 543.5 316.0 542.5 316.0 541.5 316.0 540.5 316.1 539.5 316.2 538.5 316.3 537.5 316.4 536.5 316.5 535.5 316.7 534.5 316.9 533.5 317.1 532.5 317.3 531.5 317.5 530.5 317.8 529.5 317.8 528.5 317.8 527.5 317.8 526.5 317.8 525.5 317.8 524.5 317.8 523.5 310.3 522.5 293.2 521.5 284.5 520.5 283.3 519.5 283.0 518.5 283.0 517.5 278.9 516.5 269.4 515.5 265.0 514.5 264.8 513.5 264.8 512.5 264.8 511.5 264.8 510.5 264.4 509.5 263.5 508.5 262.0 507.5 259.7 506.5 258.1 505.5 257.3 504.5 257.2 503.5 254.7 502.5 249.7 501.5 245.5 500.5 242.2 499.5 239.6 498.5 222.0 497.5 213.6 496.5 214.6 495.5 215.6 494.5 215.6 493.5 215.6 492.5 215.6 491.5 215.6 490.5 219.0 489.5 227.0 488.5 236.3 487.5 240.4 486.5 240.4 485.5 240.9 484.5 242.4 483.5 245.3 482.5 250.0 481.5 256.0 480.5 261.0 479.5 264.9 478.5 270.3 477.5 274.1 476.5 276.4 475.5 276.9 474.5 276.9 473.5 276.9 472.5 276.9 471.5 276.9 470.5 276.9 469.5 276.9 468.5 272.6 467.5 267.9 466.5 264.6 465.5 259.6 464.5 252.9 463.5 247.6 462.5 244.0 461.5 241.8 460.5 240.5 459.5 240.2 458.5 238.1 457.5 234.0 456.5 230.6 455.5 228.0 454.5 226.1 453.5 225.0 452.5 224.7 451.5 225.1 450.5 226.3 449.5 228.2 448.5 231.9 447.5 237.4 446.5 243.9 445.5 251.4 444.5 257.1 443.5 261.2 442.5 261.2 441.5 261.2 440.5 261.2 439.5 261.2 438.5 261.2 437.5 261.2 436.5 261.1 435.5 258.1 434.5 256.1 433.5 254.1 432.5 252.1 431.5 251.1 430.5 251.1 429.5 251.0 428.5 251.0 427.5 252.3 426.5 254.3 425.5 256.9 424.5 261.0 423.5 261.0 422.5 261.0 421.5 261.0 420.5 261.0 419.5 261.0 418.5 261.0 417.5 260.6 416.5 259.6 415.5 257.5 414.5 254.4 413.5 252.4 412.5 251.4 411.5 250.5 410.5 250.2 409.5 250.9 408.5 252.4 407.5 255.6 406.5 260.6 405.5 266.6 404.5 273.6 403.5 278.4 402.5 278.4 401.5 278.4 400.5 278.4 399.5 278.4 398.5 278.4 397.5 278.4 396.5 275.6 395.5 268.9 394.5 263.6 393.5 259.6 392.5 256.9 391.5 255.6 390.5 253.0 389.5 249.0 388.5 246.3 387.5 246.1 386.5 247.3 385.5 247.3 384.5 247.3 383.5 247.3 382.5 247.3 381.5 247.3 380.5 247.3 379.5 244.0 378.5 242.0 377.5 241.1 376.5 241.1 375.5 241.1 374.5 241.1 373.5 241.1 372.5 241.1 371.5 239.9 370.5 239.4 369.5 240.3 368.5 240.4 367.5 240.4 366.5 240.4 365.5 240.4 364.5 240.4 363.5 240.4 362.5 241.3 361.5 245.7 360.5 251.4 359.5 251.4 358.5 251.4 357.5 251.4 356.5 251.4 355.5 251.4 354.5 251.4 353.5 251.4 352.5 251.4 351.5 237.2 350.5 222.7 349.5 210.7 348.5 202.8 347.5 198.5 346.5 195.5 345.5 193.4 344.5 191.9 343.5 191.4 342.5 191.4 341.5 190.7 340.5 188.0 339.5 186.3 338.5 185.5 337.5 184.6 336.5 183.6 335.5 183.6 334.5 184.6 333.5 187.6 332.5 193.0 331.5 199.6 330.5 203.0 329.5 203.0 328.5 204.3 327.5 208.2 326.5 215.2 325.5 217.4 324.5 220.0 323.5 220.0 322.5 220.0 321.5 220.0 320.5 220.0 319.5 220.0 318.5 220.0 317.5 216.6 316.5 208.0 315.5 200.6 314.5 194.0 313.5 188.0 312.5 183.3 311.5 180.9 310.5 180.4 309.5 180.4 308.5 180.4 307.5 180.4 306.5 180.4 305.5 180.4 304.5 180.4 303.5 180.4 302.5 178.9 301.5 178.4 300.5 178.4 299.5 178.4 298.5 177.6 297.5 177.6 296.5 178.6 295.5 179.1 294.5 179.1 293.5 180.1 292.5 182.1 291.5 183.3 290.5 184.0 289.5 183.4 288.5 183.6 287.5 183.8 286.5 184.0 285.5 184.2 284.5 184.4 283.5 184.6 282.5 184.8 281.5 185.0 280.5 185.2 279.5 185.2 278.5 185.0 277.5 184.8 276.5 184.6 275.5 184.4 274.5 184.2 273.5 184.0 272.5 183.8 271.5 183.6 270.5 183.4 269.5 183.1 268.5 182.8 267.5 182.5 266.5 182.1 265.5 180.4 264.5 178.9 263.5 178.4 262.5 178.9 261.5 179.6 260.5 181.0 259.5 183.0 258.5 183.0 257.5 183.0 256.5 183.0 255.5 183.5 254.5 183.5 253.5 183.5 252.5 183.5 251.5 183.5 250.5 183.5 249.5 183.5 248.5 183.5 247.5 182.8 246.5 182.8 245.5 182.8 244.5 182.4 243.5 182.9 242.5 184.4 241.5 185.5 240.5 186.3 239.5 188.0 238.5 190.7 237.5 192.2 236.5 192.5 235.5 193.8 234.5 196.0 233.5 198.0 232.5 200.0 231.5 203.3 230.5 207.3 229.5 212.0 228.5 218.0 227.5 223.3 226.5 228.0 225.5 232.9 224.5 235.4 223.5 236.7 222.5 236.7 221.5 236.7 220.5 236.7 219.5 236.7 218.5 236.7 217.5 232.7 216.5 227.6 215.5 221.0 214.5 215.6 213.5 210.0 212.5 204.0 211.5 199.3 210.5 199.3 209.5 199.3 208.5 199.3 207.5 199.3 206.5 199.3 205.5 193.5 204.5 192.3 203.5 192.0 202.5 192.7 201.5 193.9 200.5 195.4 199.5 197.9 198.5 201.4 197.5 203.9 196.5 205.1 195.5 206.3 194.5 207.5 193.5 208.7 192.5 209.8 191.5 211.0 190.5 212.2 189.5 219.1 188.5 277.5 187.5 286.0 186.5 289.0 185.5 284.3 184.5 273.2 183.5 258.2 182.5 249.3 181.5 246.0 180.5 244.0 179.5 240.3 178.5 235.0 177.5 231.0 176.5 225.3 175.5 218.0 174.5 212.0 173.5 211.3 172.5 216.0 171.5 222.0 170.5 225.9 169.5 225.9 168.5 225.9 167.5 225.9 166.5 225.9 165.5 225.9 164.5 225.9 163.5 223.9 162.5 223.3 161.5 216.3 160.5 210.0 159.5 206.4 158.5 204.9 157.5 204.4 156.5 204.9 155.5 205.8 154.5 207.5 153.5 207.5 152.5 207.5 151.5 207.5 150.5 207.5 149.5 208.6 148.5 211.4 147.5 211.4 146.5 211.4 145.5 211.4 144.5 211.4 143.5 211.1 142.5 207.8 141.5 204.5 140.5 199.7 139.5 194.0 138.5 188.0 137.5 183.3 136.5 180.3 135.5 179.0 134.5 179.0 133.5 179.6 132.5 180.6 131.5 182.6 130.5 185.6 129.5 186.6 128.5 186.6 127.5 186.6 126.5 186.6 125.5 186.6 124.5 186.6 123.5 186.6 122.5 185.6 121.5 186.1 120.5 188.5 119.5 192.1 118.5 192.1 117.5 192.1 116.5 192.1Z" fill="#1f77b4" stroke="#1f77b4" stroke-width="2" stroke-linejoin="round"/>
<path d="M523.6 290.0 523.2 310.0 524.0 330.0 526.0 341.0 534.0 340.0 544.0 337.0 553.0 338.0 557.0 330.0 560.0 316.0 557.4 302.0 559.0 290.0Z" fill="#1f77b4" stroke="#1f77b4" stroke-width="5.4" stroke-linejoin="round"/>
<path d="M116.8 140.3h0M116.5 193.5h0M118.2 142.3h0M117.9 139.9h0M117.8 190.2h0M119.2 140.0h0M119.7 193.6h0M120.2 142.0h0M120.6 185.5h0M120.7 191.5h0M121.8 144.8h0M121.8 186.1h0M123.5 147.0h0M123.8 188.6h0M124.6 149.5h0M124.5 184.3h0M126.5 149.3h0M126.6 187.4h0M127.8 146.5h0M127.7 184.5h0M128.8 141.3h0M128.8 187.5h0M130.7 143.9h0M130.5 186.3h0M131.8 142.9h0M131.4 184.6h0M133.4 146.3h0M133.3 181.2h0M134.7 144.5h0M134.7 180.4h0M136.1 145.2h0M136.6 180.5h0M136.1 183.3h0M136.7 178.5h0M137.8 150.0h0M137.4 183.5h0M137.5 186.3h0M137.6 182.9h0M138.9 151.3h0M138.9 189.0h0M140.3 154.3h0M140.3 151.5h0M140.4 201.2h0M142.0 155.8h0M142.0 205.8h0M142.6 155.8h0M143.1 154.6h0M142.7 212.5h0M144.1 158.0h0M144.5 156.1h0M144.3 212.9h0M145.7 159.0h0M145.8 213.3h0M146.9 163.2h0M147.0 211.8h0M148.2 168.7h0M148.7 164.5h0M148.4 210.6h0M150.1 169.8h0M150.4 204.5h0M151.6 168.5h0M151.3 207.6h0M152.7 167.9h0M152.7 204.9h0M154.7 166.5h0M154.1 208.3h0M154.3 210.5h0M153.4 205.8h0M155.8 170.1h0M155.7 164.1h0M156.6 168.5h0M155.6 206.2h0M157.3 161.6h0M156.7 205.9h0M158.5 159.8h0M158.9 202.4h0M158.5 207.6h0M160.4 158.2h0M159.6 207.5h0M161.7 161.3h0M161.5 213.6h0M162.4 162.3h0M162.4 225.1h0M164.4 157.8h0M164.0 223.8h0M165.9 158.1h0M165.9 222.9h0M165.5 230.3h0M166.4 158.5h0M166.9 157.2h0M167.5 161.9h0M167.0 226.9h0M168.4 158.9h0M168.1 227.7h0M170.1 158.3h0M170.0 227.2h0M171.3 155.9h0M171.1 155.5h0M170.6 219.2h0M172.4 159.9h0M172.5 154.3h0M172.7 217.3h0M172.5 219.0h0M172.3 214.0h0M173.7 157.9h0M173.5 211.9h0M174.8 152.5h0M175.4 219.2h0M176.3 153.2h0M177.2 222.3h0M176.7 228.0h0M178.6 154.5h0M178.3 234.4h0M179.3 154.1h0M179.3 242.1h0M181.1 153.7h0M180.8 241.0h0M182.1 150.2h0M182.1 246.4h0M183.8 148.1h0M183.2 259.5h0M185.2 146.6h0M185.1 146.2h0M184.9 284.1h0M186.9 147.9h0M186.5 144.3h0M186.1 287.5h0M188.2 146.8h0M187.7 284.2h0M187.9 289.6h0M189.1 151.4h0M189.7 220.8h0M189.3 222.3h0M191.0 152.0h0M190.9 210.2h0M192.0 154.1h0M192.1 152.7h0M191.9 209.4h0M192.1 220.8h0M192.7 216.7h0M193.9 158.3h0M193.3 209.5h0M195.0 159.6h0M194.5 207.6h0M195.9 163.6h0M196.2 203.2h0M197.4 168.1h0M197.7 165.0h0M197.8 204.4h0M199.3 171.1h0M199.1 198.4h0M200.6 171.4h0M200.3 192.4h0M201.5 173.1h0M201.6 191.5h0M203.1 180.1h0M203.2 191.0h0M204.8 178.7h0M205.2 190.5h0M205.9 176.5h0M206.4 199.4h0M206.1 204.7h0M207.3 178.5h0M207.7 200.9h0M207.5 210.3h0M208.1 206.0h0M209.3 176.7h0M209.2 201.0h0M210.5 178.5h0M210.8 196.3h0M211.6 180.3h0M211.7 175.7h0M212.1 201.0h0M213.2 182.3h0M212.9 211.7h0M214.0 187.9h0M214.5 183.9h0M214.6 217.6h0M215.6 192.8h0M215.7 221.2h0M217.5 194.5h0M217.8 231.0h0M219.1 198.4h0M218.6 236.8h0M220.4 203.1h0M220.1 201.9h0M220.6 236.9h0M221.1 209.0h0M221.3 236.8h0M222.9 205.0h0M222.9 203.0h0M222.7 237.4h0M224.5 204.0h0M224.2 235.1h0M224.3 237.4h0M225.8 199.2h0M225.7 231.0h0M227.4 192.4h0M227.6 222.3h0M228.6 187.5h0M228.0 219.0h0M229.8 182.9h0M230.1 212.0h0M231.3 178.1h0M231.4 203.0h0M232.8 172.2h0M233.0 197.0h0M234.4 168.3h0M233.9 197.0h0M235.5 165.6h0M235.5 160.0h0M235.5 164.0h0M235.5 195.7h0M236.8 160.5h0M236.9 194.5h0M238.2 161.8h0M238.0 190.7h0M238.3 193.7h0M237.8 190.6h0M239.7 163.2h0M239.9 188.4h0M239.7 191.0h0M241.4 162.0h0M240.8 185.4h0M242.8 159.7h0M242.2 185.5h0M244.2 162.7h0M243.9 159.0h0M244.1 162.6h0M244.2 183.6h0M245.4 159.5h0M245.3 157.5h0M245.2 162.3h0M245.4 181.9h0M246.3 160.6h0M246.7 157.3h0M247.0 183.8h0M248.3 161.5h0M248.0 185.3h0M249.2 157.7h0M249.5 156.5h0M249.2 180.7h0M249.5 188.2h0M251.4 160.6h0M251.2 184.6h0M250.9 189.0h0M252.2 156.1h0M252.0 184.5h0M253.7 157.7h0M253.9 185.0h0M255.5 154.0h0M255.4 185.4h0M256.4 152.9h0M256.4 180.0h0M257.6 155.2h0M257.5 184.9h0M259.2 152.2h0M259.3 150.2h0M259.7 180.9h0M259.3 185.1h0M260.2 156.1h0M260.3 182.7h0M260.7 184.0h0M262.3 159.6h0M262.0 178.5h0M263.6 163.1h0M263.9 180.3h0M265.0 159.5h0M264.5 179.3h0M266.0 159.8h0M266.5 182.9h0M267.9 162.6h0M268.2 183.8h0M267.7 192.0h0M268.4 187.3h0M268.7 160.1h0M269.0 183.7h0M270.5 160.1h0M270.4 185.1h0M271.4 164.2h0M272.2 185.4h0M271.9 185.7h0M273.5 160.2h0M273.6 185.7h0M274.5 162.0h0M274.8 185.6h0M276.4 157.3h0M275.7 184.7h0M278.0 155.3h0M277.7 182.8h0M279.2 155.8h0M278.8 186.6h0M280.1 141.9h0M280.6 187.1h0M281.5 137.2h0M281.9 186.1h0M282.7 132.0h0M282.9 185.7h0M283.1 195.6h0M283.1 190.8h0M285.0 135.3h0M284.9 181.4h0M285.9 130.7h0M286.2 181.2h0M287.2 133.4h0M287.2 183.5h0M288.7 135.3h0M288.7 129.9h0M288.8 183.0h0M290.0 134.5h0M289.7 185.8h0M291.1 136.9h0M291.5 183.1h0M291.5 185.5h0M293.0 142.7h0M292.9 137.5h0M291.9 141.3h0M293.1 180.0h0M294.4 145.8h0M294.2 176.2h0M296.1 144.6h0M296.0 178.3h0M296.8 144.5h0M297.1 176.4h0M298.9 146.2h0M298.0 177.7h0M299.6 148.6h0M299.4 177.8h0M299.9 181.5h0M301.5 153.6h0M301.4 178.7h0M302.7 151.4h0M302.6 175.9h0M303.9 153.0h0M304.1 180.4h0M305.6 152.6h0M305.6 179.5h0M307.3 153.9h0M307.3 180.0h0M308.2 159.4h0M308.2 178.9h0M309.5 156.7h0M309.6 182.1h0M310.8 157.9h0M311.2 178.6h0M312.3 163.9h0M312.7 182.3h0M313.9 162.2h0M314.4 188.5h0M314.9 161.7h0M314.8 202.1h0M317.2 163.7h0M317.0 207.1h0M316.7 211.0h0M318.1 167.3h0M318.5 221.0h0M319.6 163.2h0M319.1 219.5h0M320.9 163.5h0M321.2 217.7h0M322.2 158.6h0M322.3 221.2h0M324.1 153.3h0M323.7 152.0h0M323.4 217.0h0M325.5 137.0h0M325.1 218.6h0M326.2 125.2h0M326.5 216.3h0M326.5 218.2h0M326.8 213.3h0M327.7 125.2h0M328.2 208.9h0M329.1 113.1h0M328.9 203.8h0M329.3 206.0h0M331.2 112.1h0M330.3 202.9h0M332.3 101.3h0M332.0 194.4h0M333.6 100.2h0M333.5 98.3h0M333.9 102.4h0M333.3 189.5h0M335.2 98.8h0M334.9 185.8h0M335.9 96.8h0M336.3 185.4h0M337.9 98.3h0M337.8 186.1h0M338.6 97.7h0M339.1 95.4h0M338.7 186.2h0M341.0 99.0h0M340.5 188.0h0M340.5 191.0h0M341.7 99.4h0M341.4 190.2h0M341.9 193.7h0M343.1 116.6h0M342.8 193.3h0M343.3 194.4h0M344.8 128.0h0M344.5 191.4h0M346.5 134.2h0M346.2 193.9h0M347.9 139.4h0M347.6 198.0h0M348.9 142.1h0M349.0 199.8h0M350.3 144.9h0M350.3 144.0h0M350.3 223.4h0M351.7 146.2h0M351.3 238.0h0M353.1 150.8h0M353.3 249.4h0M354.3 149.3h0M354.9 253.1h0M354.5 258.9h0M353.9 254.3h0M355.7 153.4h0M356.2 253.1h0M356.9 150.5h0M357.5 252.8h0M358.2 151.3h0M358.8 248.4h0M360.5 151.1h0M360.2 250.1h0M361.4 154.2h0M361.5 247.6h0M361.5 248.7h0M362.4 150.5h0M362.9 150.0h0M362.8 241.7h0M364.7 157.1h0M364.6 238.8h0M365.4 158.2h0M365.4 241.4h0M366.9 161.6h0M367.3 241.4h0M368.1 160.1h0M368.3 241.3h0M370.1 158.0h0M369.5 240.7h0M371.0 160.7h0M371.1 240.4h0M372.2 160.8h0M373.0 242.0h0M372.7 244.4h0M373.9 156.0h0M374.4 240.8h0M375.5 157.2h0M375.2 240.3h0M377.0 157.5h0M376.5 239.1h0M377.8 162.3h0M378.3 161.4h0M378.5 240.8h0M379.4 166.1h0M380.1 242.1h0M379.7 247.0h0M381.3 170.6h0M381.0 247.6h0M381.1 253.0h0M382.1 248.1h0M382.3 170.8h0M382.9 246.0h0M384.0 167.8h0M384.2 248.1h0M385.5 169.7h0M385.3 247.0h0M386.3 169.3h0M386.8 248.2h0M388.6 167.4h0M388.6 248.3h0M389.4 166.7h0M389.7 246.0h0M390.8 167.6h0M390.6 253.8h0M392.0 167.0h0M392.0 258.0h0M394.0 170.5h0M393.5 258.7h0M393.7 262.5h0M394.9 172.3h0M394.7 270.6h0M396.8 172.9h0M396.4 277.1h0M398.0 177.1h0M398.0 279.9h0M397.9 283.6h0M397.0 279.1h0M399.5 183.6h0M399.3 280.1h0M399.3 281.2h0M400.5 187.6h0M400.6 275.4h0M402.3 195.8h0M401.7 278.7h0M403.5 194.6h0M403.6 276.7h0M404.7 191.1h0M404.9 187.0h0M404.5 191.7h0M405.0 270.6h0M404.9 276.6h0M405.2 273.1h0M406.3 176.6h0M406.3 173.7h0M406.7 178.3h0M406.7 261.6h0M406.3 263.6h0M407.2 176.7h0M407.7 175.4h0M407.6 254.4h0M408.9 178.1h0M409.5 250.4h0M411.0 180.3h0M410.3 251.0h0M410.5 253.2h0M409.8 249.1h0M411.4 177.4h0M411.9 170.8h0M412.0 175.7h0M411.5 247.5h0M413.2 182.1h0M413.4 249.4h0M413.3 255.4h0M414.4 188.3h0M415.2 251.8h0M416.5 191.3h0M415.8 257.7h0M416.1 262.6h0M415.7 259.5h0M418.0 193.1h0M418.0 261.5h0M419.0 195.2h0M418.9 258.0h0M420.7 191.9h0M420.4 261.7h0M421.8 189.0h0M422.1 262.2h0M423.0 190.2h0M423.2 259.5h0M423.1 265.5h0M424.9 186.9h0M424.6 261.9h0M425.9 188.8h0M425.8 254.8h0M426.8 190.5h0M427.3 185.7h0M427.7 253.8h0M427.3 254.6h0M428.7 187.7h0M429.1 248.0h0M429.7 192.0h0M429.9 249.3h0M431.6 196.1h0M431.2 253.0h0M432.5 198.0h0M432.7 251.3h0M432.9 255.1h0M434.5 201.8h0M434.8 253.6h0M435.5 201.6h0M435.3 255.8h0M437.3 203.9h0M437.1 201.9h0M437.5 260.2h0M437.1 265.9h0M438.9 204.9h0M438.2 258.2h0M438.5 263.7h0M439.5 203.3h0M439.5 262.8h0M441.8 195.9h0M441.7 262.7h0M441.3 272.2h0M440.4 268.7h0M442.2 191.5h0M443.0 263.0h0M442.7 265.5h0M443.9 184.6h0M444.0 258.1h0M445.2 181.2h0M445.9 252.6h0M446.4 179.0h0M446.9 177.2h0M447.1 243.7h0M448.5 171.5h0M448.2 233.7h0M450.2 172.6h0M449.8 228.4h0M451.3 170.2h0M451.1 222.8h0M452.7 171.9h0M452.8 224.9h0M453.7 168.6h0M453.9 226.9h0M455.2 168.3h0M455.5 225.0h0M456.6 168.8h0M457.0 231.6h0M456.7 233.6h0M457.9 170.7h0M458.1 166.5h0M458.4 238.1h0M459.1 168.3h0M459.5 159.5h0M459.8 162.8h0M460.0 239.7h0M461.4 168.3h0M461.2 242.1h0M462.2 172.9h0M462.3 244.8h0M463.3 180.5h0M463.7 175.0h0M463.9 179.3h0M463.4 247.4h0M464.8 187.2h0M465.5 258.6h0M465.1 262.6h0M466.5 186.5h0M466.4 266.6h0M467.9 183.6h0M468.0 267.9h0M469.1 179.2h0M469.3 176.3h0M469.3 278.7h0M470.9 179.6h0M470.5 273.9h0M471.7 171.0h0M471.7 277.3h0M473.1 176.6h0M473.5 171.4h0M473.9 276.0h0M473.5 278.9h0M474.7 174.6h0M474.9 172.9h0M474.6 278.4h0M476.1 167.9h0M476.7 277.9h0M477.7 164.4h0M477.2 275.0h0M477.7 277.1h0M478.8 164.0h0M479.1 159.9h0M478.3 164.5h0M478.7 262.3h0M480.0 160.2h0M480.6 262.0h0M482.1 161.5h0M481.9 157.3h0M481.5 254.9h0M483.0 161.7h0M483.2 246.7h0M484.5 157.8h0M484.7 156.7h0M485.1 243.0h0M486.5 157.2h0M485.8 241.2h0M487.9 158.2h0M487.1 242.1h0M488.9 155.9h0M489.2 233.3h0M490.2 151.9h0M489.8 219.6h0M490.3 221.5h0M492.1 152.4h0M491.7 217.3h0M492.7 150.9h0M493.2 217.0h0M493.1 222.6h0M492.7 218.8h0M494.9 152.3h0M494.7 213.5h0M494.5 218.2h0M496.4 152.2h0M495.8 217.2h0M497.7 152.1h0M497.4 212.3h0M498.3 151.5h0M498.5 223.9h0M499.8 161.5h0M499.9 240.0h0M501.0 159.9h0M501.0 244.8h0M501.5 247.9h0M503.3 161.8h0M502.9 160.0h0M502.9 250.8h0M504.7 164.9h0M504.7 258.0h0M505.7 164.7h0M505.3 258.0h0M505.7 260.3h0M506.8 167.3h0M507.1 166.0h0M507.0 261.6h0M508.9 171.2h0M508.5 167.7h0M508.3 263.5h0M510.1 173.5h0M509.7 265.4h0M510.9 173.4h0M510.9 265.0h0M511.3 267.9h0M512.8 177.9h0M513.1 264.7h0M514.0 177.2h0M514.1 175.6h0M514.5 264.4h0M514.1 267.4h0M515.3 178.1h0M515.3 266.3h0M516.7 185.0h0M516.8 271.3h0M518.2 183.1h0M518.4 283.2h0M519.5 181.7h0M519.7 283.9h0M521.0 186.9h0M521.6 282.6h0M522.2 185.0h0M522.5 295.1h0M524.3 184.5h0M523.9 310.5h0M523.9 313.3h0M525.5 183.1h0M525.3 178.7h0M525.5 319.6h0M526.9 182.3h0M526.3 319.0h0M527.8 181.2h0M528.6 315.8h0M529.2 184.2h0M529.2 319.7h0M531.1 178.3h0M531.4 314.8h0M530.9 320.7h0M532.1 181.2h0M532.3 168.9h0M532.5 172.5h0M532.2 317.5h0M533.4 177.0h0M533.8 314.1h0M534.8 173.9h0M535.1 164.2h0M534.3 168.0h0M535.3 316.4h0M536.8 174.0h0M536.1 314.6h0M537.8 172.9h0M537.8 318.0h0M539.0 172.8h0M539.2 316.9h0M540.4 176.0h0M541.0 317.7h0M541.7 176.2h0M542.4 317.4h0M543.1 177.5h0M543.5 170.8h0M543.5 313.0h0M544.9 173.3h0M545.1 313.2h0M545.9 174.3h0M546.0 316.0h0M547.7 175.0h0M547.3 317.9h0M547.7 318.7h0M548.9 176.5h0M549.1 318.4h0M550.3 178.9h0M550.8 317.7h0M550.5 319.5h0M551.9 177.7h0M551.7 317.0h0M553.4 182.1h0M553.1 316.2h0M554.7 178.7h0M554.4 317.6h0M556.2 178.3h0M556.5 316.4h0M557.9 179.0h0M557.6 318.8h0M559.2 179.5h0M558.6 319.0h0M560.5 181.5h0M560.3 177.4h0M560.8 314.8h0M562.0 182.5h0M561.8 319.6h0M562.9 182.6h0M562.7 310.6h0M564.5 180.6h0M564.8 295.6h0M564.5 301.6h0M566.0 182.3h0M566.3 283.5h0M565.9 289.0h0M567.0 186.0h0M567.4 227.0h0M567.3 227.7h0M569.0 182.2h0M568.3 226.5h0M569.8 180.1h0M570.5 225.8h0M570.1 229.6h0M571.1 179.8h0M571.9 227.0h0M572.9 178.1h0M573.1 221.3h0M572.9 233.3h0M571.9 228.9h0M574.6 178.0h0M574.3 176.9h0M574.9 181.5h0M574.2 221.0h0M574.3 225.1h0M575.7 182.1h0M575.3 216.5h0M577.4 175.6h0M577.1 214.6h0M577.1 215.8h0M578.0 175.0h0M578.6 215.0h0M580.2 173.6h0M579.8 216.9h0M581.7 171.1h0M581.7 220.4h0M582.2 171.8h0M582.7 223.9h0M584.4 170.8h0M584.0 231.6h0M584.1 233.9h0M585.3 170.2h0M585.1 237.4h0M586.8 174.9h0M586.5 236.9h0M588.7 172.4h0M588.2 235.9h0M589.7 172.6h0M589.3 235.7h0M591.0 178.5h0M591.1 173.8h0M590.7 230.6h0M592.5 174.8h0M592.3 233.6h0M594.0 177.1h0M594.0 231.8h0M595.2 178.1h0M595.1 222.4h0M596.7 176.5h0M596.9 224.8h0M597.8 174.7h0M598.4 218.3h0M599.7 173.7h0M599.6 217.0h0M600.5 171.4h0M601.2 213.5h0M602.6 173.4h0M601.9 222.1h0M604.1 174.4h0M604.1 222.3h0M605.6 169.7h0M605.2 226.4h0M605.1 231.5h0M606.3 169.4h0M606.6 229.3h0M606.5 235.4h0M608.0 171.4h0M607.8 229.2h0M609.4 174.0h0M608.9 235.6h0M609.3 236.2h0M610.5 175.0h0M610.4 236.2h0M612.0 174.7h0M611.9 235.7h0M612.1 240.1h0M613.9 174.8h0M613.0 233.1h0M614.9 173.8h0M614.6 234.9h0M616.4 172.1h0M616.6 238.3h0M618.1 173.0h0M617.4 236.6h0M619.5 172.6h0M618.9 240.5h0M620.5 175.4h0M620.5 169.4h0M620.8 236.3h0M620.5 242.4h0M622.1 172.4h0M622.2 236.3h0M622.8 170.1h0M623.7 240.0h0M623.3 247.1h0M623.6 242.4h0M624.6 171.7h0M624.4 241.1h0M626.0 167.8h0M626.5 239.2h0M627.4 169.0h0M627.9 237.3h0M627.5 239.9h0M629.0 168.0h0M628.7 236.4h0M630.6 167.9h0M630.3 166.0h0M629.6 170.4h0M630.7 233.2h0M631.9 167.3h0M631.7 234.3h0M633.4 167.0h0M632.6 234.2h0M634.8 165.7h0M634.8 235.8h0M636.2 165.4h0M636.1 235.9h0M637.4 165.5h0M636.9 235.9h0M637.3 237.0h0M638.7 166.2h0M639.1 231.1h0M638.7 236.3h0M639.8 170.0h0M640.2 227.6h0M642.0 166.2h0M641.3 231.5h0M641.5 233.4h0M643.2 169.9h0M642.9 164.5h0M642.7 232.5h0M642.9 233.4h0M644.7 167.1h0M644.1 222.8h0M645.2 167.0h0M645.7 165.4h0M646.1 169.1h0M645.8 219.8h0M647.0 170.4h0M647.1 166.7h0M647.1 212.0h0M648.0 168.2h0M648.5 206.6h0M648.5 208.8h0M650.0 165.9h0M649.7 204.0h0M650.8 160.5h0M650.8 196.0h0M651.3 202.0h0M652.4 159.4h0M652.4 200.5h0M654.3 158.8h0M654.6 195.1h0M654.1 195.9h0M655.8 155.6h0M655.1 192.1h0M655.5 192.6h0M656.5 157.0h0M656.4 189.6h0M658.3 148.1h0M658.3 184.0h0M659.7 144.2h0M659.4 179.6h0M659.7 184.2h0M660.8 139.4h0M661.3 178.5h0M662.9 139.4h0M662.5 133.9h0M662.4 182.6h0M663.4 136.2h0M663.9 131.8h0M664.3 177.4h0M663.9 183.4h0M665.3 136.0h0M664.9 182.6h0M667.0 135.6h0M667.0 184.4h0M668.2 135.6h0M668.4 190.5h0M669.9 140.7h0M669.9 191.4h0M669.5 195.1h0M670.9 140.7h0M671.0 192.0h0M672.7 142.1h0M672.4 193.6h0M673.3 143.9h0M674.0 197.0h0M673.7 200.7h0M674.7 146.9h0M675.2 193.8h0M676.5 150.3h0M676.7 193.2h0M678.2 147.3h0M677.6 194.9h0M679.5 151.4h0M679.8 187.0h0M680.2 150.9h0M680.7 149.1h0M680.4 183.3h0M682.0 152.1h0M682.1 179.5h0M683.7 155.0h0M683.6 180.3h0M684.4 155.1h0M684.9 154.0h0M685.0 180.2h0M686.7 155.6h0M686.1 178.6h0M687.2 157.8h0M688.2 184.3h0M688.8 154.2h0M689.1 152.1h0M688.8 183.2h0M690.9 152.3h0M690.4 180.4h0M692.1 153.5h0M691.7 183.8h0M692.9 153.0h0M693.0 182.3h0M694.7 150.6h0M694.4 182.9h0M695.9 147.6h0M696.5 179.2h0M697.4 142.9h0M697.7 176.7h0M699.1 140.7h0M698.6 176.9h0M700.1 142.2h0M700.3 137.6h0M699.5 140.9h0M700.0 180.5h0M700.3 183.7h0M702.0 138.5h0M701.7 136.0h0M701.9 180.1h0M701.7 182.8h0M703.5 134.7h0M703.0 177.2h0M703.1 183.2h0M703.0 179.5h0M704.7 134.5h0M704.3 181.3h0M704.5 182.7h0M706.4 136.0h0M705.9 130.0h0M706.0 177.6h0M707.5 129.8h0M707.0 182.3h0M708.8 128.8h0M709.0 179.8h0M709.7 130.2h0M710.3 181.1h0M710.1 182.8h0M711.2 127.0h0M711.6 181.3h0M713.3 130.3h0M713.0 182.1h0M714.4 131.0h0M713.8 182.2h0M714.3 183.6h0M715.6 128.8h0M716.2 182.3h0M717.0 128.1h0M717.1 126.5h0M717.3 182.4h0M718.0 130.6h0M718.3 181.0h0M720.3 132.4h0M720.0 183.2h0M721.7 131.3h0M721.6 182.0h0M721.3 186.0h0M721.2 181.6h0M722.6 133.8h0M723.2 180.3h0M722.7 187.1h0M723.3 182.9h0M723.9 134.3h0M724.5 184.5h0M725.6 132.5h0M725.6 184.2h0M727.4 132.9h0M727.2 182.1h0M728.2 135.9h0M728.3 130.4h0M728.8 183.5h0M729.9 135.9h0M729.8 182.0h0M731.0 132.0h0M731.3 180.7h0M731.1 186.7h0M732.3 132.9h0M732.1 184.2h0M733.5 136.1h0M734.2 182.9h0M733.9 184.5h0M734.9 140.0h0M735.3 135.3h0M735.2 183.6h0M737.0 138.2h0M736.8 179.0h0M738.2 139.2h0M737.8 180.4h0M739.5 140.6h0M739.3 182.3h0M741.2 145.8h0M740.9 140.8h0M740.5 183.0h0M740.9 185.9h0M740.0 182.4h0M742.7 142.0h0M742.3 183.1h0M742.3 188.2h0M741.7 183.9h0M743.7 144.4h0M743.6 181.5h0M745.0 141.3h0M745.0 185.8h0M746.9 141.6h0M746.5 140.3h0M746.2 184.4h0M747.5 141.5h0M748.0 185.3h0M747.9 186.7h0M749.3 138.4h0M749.3 136.9h0M749.0 182.5h0M751.2 141.1h0M751.0 186.0h0M750.7 187.4h0M750.3 183.9h0M751.7 136.2h0M752.3 180.6h0M753.3 133.3h0M753.7 183.5h0M754.6 130.6h0M755.0 179.4h0M754.9 184.4h0M756.6 133.5h0M756.7 180.8h0M756.3 182.4h0M757.6 129.8h0M758.2 180.5h0M758.9 124.2h0M759.2 180.0h0M760.8 127.0h0M760.1 180.0h0M761.6 123.8h0M761.7 179.2h0M761.9 181.1h0M763.0 119.4h0M763.3 175.8h0M764.8 114.3h0M764.7 112.6h0M765.0 177.2h0M766.1 113.1h0M766.5 175.7h0M767.2 109.0h0M767.0 175.9h0M768.7 110.0h0M768.5 175.3h0M770.1 107.4h0M770.4 170.2h0M771.5 105.3h0M771.3 174.0h0M773.5 100.7h0M772.8 172.8h0M774.6 98.4h0M774.5 173.4h0M775.5 99.4h0M775.5 171.6h0M775.9 175.1h0M777.2 99.2h0M776.8 172.7h0M777.3 176.0h0M779.0 98.7h0M778.8 170.7h0M778.7 175.8h0M778.3 172.5h0M780.0 94.8h0M780.3 171.7h0M781.9 92.8h0M781.6 174.0h0M782.9 89.6h0M782.9 88.1h0M782.7 92.4h0M782.6 171.6h0M784.3 94.1h0M784.3 86.0h0M784.0 173.1h0M785.5 89.8h0M785.7 86.2h0M785.9 173.9h0M786.7 89.9h0M787.1 88.2h0M786.6 178.8h0M788.5 89.1h0M788.5 87.7h0M788.2 179.0h0M790.2 89.4h0M789.9 177.0h0M791.2 97.1h0M791.3 96.5h0M791.4 178.1h0M792.3 102.3h0M792.6 178.2h0M792.7 179.6h0M794.1 100.1h0M793.8 176.3h0M795.2 101.3h0M796.0 176.8h0M795.5 178.5h0M797.1 98.5h0M797.3 176.5h0M798.0 97.6h0M798.3 96.3h0M798.4 176.6h0M799.5 98.6h0M800.0 175.9h0M801.5 100.3h0M801.0 173.0h0M802.3 101.1h0M802.5 172.9h0M802.5 179.8h0M803.5 98.9h0M803.6 173.9h0M805.1 96.0h0M805.3 92.4h0M805.6 175.1h0M806.6 100.9h0M806.7 175.1h0M806.7 178.9h0M808.5 97.0h0M808.1 92.0h0M808.5 174.2h0M809.1 98.6h0M809.6 176.8h0M809.5 177.7h0M810.8 98.5h0M810.5 176.3h0M812.6 96.1h0M812.7 175.3h0M813.7 92.8h0M813.3 173.5h0M814.6 94.2h0M814.7 172.8h0M816.1 94.9h0M816.3 174.7h0M817.6 92.5h0M817.6 174.7h0M819.0 96.5h0M819.3 91.4h0M819.5 176.2h0M820.8 97.9h0M821.2 174.9h0M822.2 96.1h0M822.1 176.0h0M822.1 177.2h0M823.6 94.3h0M823.9 174.3h0M825.3 93.3h0M824.8 175.1h0M826.5 94.2h0M826.7 176.0h0M827.7 97.4h0M827.6 174.8h0M827.7 176.8h0M828.9 92.1h0M829.1 89.6h0M829.4 161.1h0M829.1 162.6h0M830.2 88.2h0M830.1 145.5h0M830.5 148.0h0M831.7 87.8h0M831.9 86.9h0M831.7 139.8h0M833.3 87.2h0M833.7 133.1h0M833.3 139.1h0M834.7 88.4h0M834.8 131.0h0M836.1 92.0h0M836.1 85.7h0M836.3 129.0h0M836.1 135.0h0M835.2 130.3h0M837.8 87.3h0M837.5 86.5h0M837.5 133.3h0M838.5 87.8h0M838.8 129.0h0M838.9 134.0h0M840.8 91.3h0M840.3 85.6h0M840.1 124.5h0M842.0 91.3h0M842.0 127.1h0M842.8 91.3h0M843.1 81.9h0M843.4 124.1h0M844.5 86.5h0M844.5 83.9h0M844.1 129.0h0M846.1 90.5h0M845.9 86.0h0M846.8 89.8h0M845.6 127.1h0M846.9 94.1h0M847.0 132.4h0M848.8 98.0h0M848.7 93.1h0M849.2 96.7h0M848.9 132.0h0M849.9 106.6h0M849.7 128.6h0M850.1 132.8h0M852.0 109.4h0M851.5 107.0h0M851.6 111.8h0M851.7 128.5h0M852.4 113.7h0M852.7 131.4h0M854.2 109.3h0M854.0 130.2h0M855.5 107.2h0M855.7 105.5h0M855.9 124.6h0M857.5 103.6h0M857.6 122.9h0M858.6 106.7h0M858.1 122.6h0M858.5 124.0h0M859.6 107.5h0M859.9 99.2h0M860.7 102.5h0M859.7 122.9h0M860.9 103.3h0M861.3 126.2h0M862.5 106.0h0M862.7 101.6h0M862.6 128.0h0M864.6 109.1h0M864.1 106.9h0M864.1 131.7h0M866.0 113.2h0M865.5 112.0h0M865.0 116.5h0M865.7 134.2h0M867.3 117.6h0M866.6 139.5h0M866.9 140.9h0M866.6 137.2h0M868.6 117.3h0M868.6 146.7h0M869.9 120.5h0M870.1 151.2h0M869.7 152.5h0M871.3 124.6h0M871.6 153.7h0M872.7 125.4h0M872.4 154.7h0M874.0 138.5h0M873.9 136.1h0M873.6 140.5h0M873.5 154.9h0M875.1 135.8h0M875.0 153.6h0M876.4 131.4h0M876.9 155.5h0M878.5 129.5h0M878.2 149.3h0M879.1 129.0h0M879.5 145.8h0M881.0 132.6h0M880.9 123.8h0M880.9 127.7h0M881.1 149.0h0M882.0 126.7h0M882.1 149.7h0M883.8 118.7h0M883.4 151.3h0M885.6 107.5h0M884.7 147.5h0M885.1 152.6h0M886.3 106.9h0M886.9 151.4h0M887.4 109.0h0M887.9 103.6h0M888.0 152.5h0M889.8 109.0h0M889.2 158.1h0M891.2 108.6h0M890.6 160.8h0M890.7 165.3h0M892.5 112.3h0M891.8 163.4h0M893.5 118.2h0M893.2 168.0h0M894.4 116.4h0M895.0 169.2h0M894.9 173.1h0M896.8 116.6h0M896.2 167.1h0M897.4 114.9h0M897.5 172.0h0M899.0 128.4h0M899.1 122.4h0M898.7 169.6h0M900.4 129.1h0M901.0 164.5h0M901.8 132.4h0M901.9 131.2h0M901.6 164.5h0M903.3 122.9h0M903.7 158.6h0M904.9 121.2h0M904.8 155.2h0M905.8 121.9h0M906.1 153.9h0M908.0 124.6h0M907.9 152.2h0M907.5 153.9h0M907.4 149.5h0M908.9 125.8h0M908.9 148.8h0M910.0 121.5h0M910.2 150.0h0M910.3 154.4h0M911.3 117.4h0M911.7 115.9h0M912.0 153.0h0M912.9 107.9h0M913.3 157.5h0M914.7 105.5h0M914.7 157.0h0M914.5 160.3h0M916.2 104.7h0M915.9 102.9h0M915.7 157.4h0M917.3 103.9h0M917.0 159.2h0M919.1 103.8h0M919.0 160.1h0M920.6 105.1h0M920.4 160.2h0M920.1 161.1h0M921.0 110.9h0M921.4 159.5h0M922.4 109.4h0M922.8 157.4h0M922.9 162.2h0M924.2 117.1h0M924.4 160.3h0M925.7 122.4h0M925.7 121.0h0M925.5 160.0h0M927.1 121.3h0M926.7 161.2h0M928.9 121.4h0M928.9 161.9h0M928.5 167.6h0M929.7 123.0h0M929.6 165.5h0M931.1 127.7h0M931.3 122.2h0M931.4 176.5h0M931.3 178.3h0M932.6 129.2h0M932.7 174.7h0M934.3 127.9h0M933.9 180.0h0M935.9 127.8h0M935.5 126.6h0M935.1 178.7h0M936.8 129.0h0M936.9 177.0h0M938.2 136.3h0M938.5 182.1h0M939.5 143.0h0M939.4 183.3h0M941.3 146.2h0M940.8 184.0h0M942.9 148.8h0M942.8 183.7h0M943.5 150.8h0M944.1 183.5h0M943.9 184.6h0M944.9 148.9h0M945.3 147.8h0M945.4 150.9h0M945.2 179.6h0M946.6 151.8h0M946.6 178.6h0M948.4 152.5h0M947.6 184.4h0M949.8 151.7h0M949.1 184.6h0M951.4 151.0h0M951.2 184.3h0M952.6 150.8h0M952.0 186.0h0M953.2 149.7h0M953.7 147.2h0M953.9 185.5h0M955.1 145.4h0M955.5 185.8h0M956.8 141.0h0M956.5 139.4h0M956.1 184.8h0M957.8 138.4h0M957.5 185.4h0M959.6 134.3h0M958.9 176.7h0M961.2 137.8h0M961.0 179.8h0M961.7 135.0h0M962.6 178.1h0M962.1 180.2h0M963.4 134.2h0M963.5 129.7h0M963.6 134.5h0M963.8 177.1h0M965.1 133.1h0M964.9 174.9h0M964.9 178.6h0M965.8 175.5h0M966.2 132.9h0M966.6 176.0h0M967.8 136.4h0M967.4 177.1h0M969.4 140.6h0M969.4 176.0h0M970.3 145.5h0M970.6 174.5h0M970.5 180.1h0M971.1 176.4h0M972.2 143.2h0M972.3 177.9h0M973.6 145.1h0M973.6 179.2h0M974.5 147.3h0M975.0 177.4h0M976.4 144.0h0M976.2 175.1h0M976.1 180.9h0M977.1 143.1h0M978.0 178.1h0M977.5 181.1h0M977.6 176.4h0M978.8 147.2h0M978.7 177.1h0M979.8 149.8h0M980.8 180.2h0M980.3 182.3h0M980.3 178.7h0M982.0 143.1h0M982.1 180.6h0M983.1 132.2h0M982.8 181.5h0M983.1 182.5h0M984.3 128.8h0M984.2 181.7h0M985.6 127.0h0M985.7 181.9h0M985.9 183.5h0M987.7 126.5h0M987.8 177.0h0M987.3 182.3h0M988.5 128.8h0M988.6 178.9h0M989.9 125.2h0M990.1 124.2h0M989.6 172.8h0M991.7 125.7h0M991.5 124.1h0M992.0 175.0h0M991.5 177.6h0M992.9 130.6h0M993.2 170.5h0M994.1 126.3h0M993.9 170.5h0M994.3 176.5h0M996.2 129.8h0M995.6 171.7h0M996.8 128.3h0M996.6 174.8h0M998.8 128.1h0M998.4 173.3h0M999.8 126.2h0M1000.1 172.1h0M999.9 177.3h0M1001.4 132.3h0M1001.4 177.0h0M1003.0 134.4h0M1002.3 177.9h0M1004.4 137.0h0M1004.4 178.8h0M1006.0 137.0h0M1005.5 134.1h0M1005.3 180.0h0M1006.9 137.9h0M1006.9 132.8h0M1006.9 179.0h0M1006.9 182.6h0M1008.1 135.3h0M1008.3 132.2h0M1008.7 184.6h0M1009.7 135.1h0M1009.4 182.7h0M1010.7 134.1h0M1011.3 190.2h0M1012.1 133.8h0M1012.5 131.3h0M1012.3 192.2h0M1014.3 138.0h0M1014.1 189.1h0M1013.9 194.3h0M1015.0 144.9h0M1015.6 191.8h0M1017.2 142.3h0M1016.7 140.6h0M1016.3 144.2h0M1016.3 191.0h0M1017.9 142.1h0M1018.1 139.8h0M1018.8 144.1h0M1017.7 189.3h0M1019.3 141.1h0M1019.5 139.7h0M1019.2 186.7h0M1021.2 142.0h0M1020.9 184.6h0M1022.7 136.2h0M1021.9 181.1h0M1023.7 138.8h0M1023.3 176.3h0M1025.1 140.7h0M1025.2 181.1h0M1026.1 140.0h0M1026.9 177.6h0M1026.5 181.7h0M1027.8 141.0h0M1027.6 178.4h0M1027.9 183.7h0M1029.7 139.0h0M1029.3 135.9h0M1029.4 181.0h0M1030.6 140.1h0M1031.0 177.5h0M1032.0 143.6h0M1032.2 178.6h0M1033.9 142.3h0M1033.1 177.7h0M1035.2 141.0h0M1034.9 139.9h0M1034.7 179.5h0M1034.9 180.5h0M1035.8 140.0h0M1036.7 178.4h0M1037.4 136.4h0M1037.6 178.1h0M1038.7 133.4h0M1038.7 179.2h0M1039.1 180.3h0M1040.2 136.8h0M1040.5 128.9h0M1040.5 133.8h0M1040.5 175.6h0M1041.8 131.8h0M1042.3 177.3h0M1043.6 136.2h0M1043.3 178.7h0M1045.0 131.7h0M1044.7 179.3h0M1046.0 129.9h0M1046.3 177.4h0M1047.1 131.7h0M1047.4 183.2h0M1048.8 128.0h0M1048.9 126.6h0M1048.7 186.1h0M1049.9 126.8h0M1050.3 125.7h0M1050.3 193.9h0M1051.8 126.2h0M1052.2 190.4h0M1051.7 195.5h0M1053.1 125.0h0M1053.4 193.4h0M1053.1 197.3h0M1054.2 123.2h0M1054.5 121.0h0M1054.3 125.6h0M1054.8 192.1h0M1055.9 125.9h0M1056.3 192.8h0M1057.2 123.7h0M1057.3 119.6h0M1057.5 122.9h0M1057.7 193.2h0M1058.5 127.7h0M1058.3 195.3h0M1059.6 123.8h0M1060.5 191.2h0M1061.9 120.7h0M1061.5 118.9h0M1061.2 190.2h0M1061.5 190.6h0M1062.8 116.0h0M1062.9 186.5h0M1064.8 107.7h0M1064.3 178.1h0M1065.7 107.2h0M1065.9 176.9h0M1067.2 106.2h0M1066.6 180.6h0M1068.3 106.3h0M1068.5 105.7h0M1068.7 178.9h0M1070.3 108.7h0M1069.6 177.1h0M1071.6 109.3h0M1071.3 105.7h0M1071.2 179.2h0M1072.4 117.9h0M1072.7 113.2h0M1072.6 181.0h0M1072.7 182.8h0M1072.4 179.3h0M1074.5 120.8h0M1073.7 181.4h0M1074.1 186.1h0M1075.1 122.1h0M1075.5 120.5h0M1075.2 187.7h0M1077.0 123.5h0M1076.9 189.5h0M1078.5 128.3h0M1078.2 191.3h0M1078.3 194.9h0M1079.5 134.1h0M1079.8 193.2h0M1080.9 152.2h0M1081.1 150.6h0M1081.1 188.7h0M1082.7 154.5h0M1082.5 153.4h0M1082.8 190.6h0M1083.6 154.0h0M1083.9 152.4h0M1083.6 192.8h0M1083.9 195.0h0M1084.9 149.6h0M1085.2 187.9h0M1086.8 147.0h0M1086.9 184.1h0M1086.7 187.1h0M1086.7 182.6h0M1088.1 144.6h0M1088.2 184.3h0M1089.5 145.8h0M1089.3 179.4h0M1090.8 147.1h0M1090.9 143.2h0M1091.1 181.7h0M1091.9 144.3h0M1092.7 181.9h0M1093.9 146.2h0M1093.9 178.1h0M1094.8 153.1h0M1095.3 179.0h0M1096.0 153.6h0M1096.5 148.2h0M1096.9 181.1h0M1097.8 152.0h0M1097.9 182.0h0M1099.5 148.9h0M1099.6 184.2h0M1099.3 186.2h0M1099.2 182.4h0M1100.3 151.3h0M1100.6 180.2h0M1102.3 144.5h0M1102.5 180.2h0M1103.4 144.8h0M1103.5 184.2h0M1104.4 144.4h0M1105.2 182.0h0M1104.9 186.1h0M1106.4 140.7h0M1106.6 184.2h0M1106.3 186.3h0M1107.6 139.0h0M1108.1 181.1h0M1109.1 138.4h0M1109.1 135.9h0M1109.5 179.9h0M1109.1 183.9h0M1110.2 139.4h0M1110.7 180.9h0M1112.0 136.4h0M1112.2 177.1h0M1113.3 138.3h0M1113.8 183.1h0M1114.2 137.4h0M1114.3 181.8h0M1115.7 136.9h0M1115.6 189.6h0M1117.4 138.2h0M1117.5 194.9h0M1117.5 197.9h0M1118.2 193.9h0M1119.0 141.3h0M1118.9 135.3h0M1119.2 138.6h0M1119.2 200.0h0M1120.5 140.4h0M1120.4 196.2h0M1122.2 141.5h0M1122.2 199.9h0M1123.4 143.8h0M1123.5 197.9h0M1124.6 147.3h0M1124.1 195.1h0M1125.5 147.2h0M1126.0 198.4h0M1126.9 141.3h0M1127.3 200.0h0M1127.3 203.4h0M1128.8 133.4h0M1128.5 200.7h0M1130.6 133.3h0M1130.0 197.7h0M1132.0 134.4h0M1131.2 200.9h0M1132.7 131.4h0M1132.5 197.9h0M1132.9 201.8h0M1134.0 131.7h0M1134.3 198.6h0M1135.8 129.5h0M1135.5 196.3h0M1137.4 131.2h0M1137.1 128.9h0M1136.8 193.7h0M1137.1 198.7h0M1138.8 130.1h0M1138.5 128.1h0M1138.2 195.1h0M1139.8 129.6h0M1140.2 198.1h0M1140.9 128.1h0M1141.3 126.6h0M1141.7 197.6h0M1143.1 128.0h0M1142.7 193.5h0M1143.8 132.6h0M1143.9 197.8h0M1145.7 130.3h0M1146.0 198.0h0M1147.2 128.3h0M1147.3 196.0h0M1148.7 128.6h0M1148.3 190.4h0M1149.7 130.4h0M1149.4 192.8h0M1151.1 132.1h0M1151.1 191.6h0M1152.2 131.8h0M1152.2 197.9h0M1154.1 136.1h0M1154.2 197.6h0M1155.4 134.2h0M1155.6 198.8h0M1157.1 138.2h0M1156.4 196.1h0M1156.7 205.4h0M1155.9 201.0h0M1158.1 136.9h0M1158.0 199.5h0M1159.2 135.3h0M1159.1 197.9h0M1161.3 137.7h0M1161.0 193.1h0M1162.5 133.0h0M1162.0 189.8h0M1163.2 134.6h0M1163.9 186.1h0M1165.0 132.0h0M1165.1 130.0h0M1165.0 184.8h0M1166.9 132.8h0M1166.4 184.6h0M1167.5 133.2h0M1167.5 180.1h0M1168.9 133.2h0M1169.5 185.0h0M1171.0 138.7h0M1170.3 193.2h0M1172.6 143.4h0M1172.4 201.7h0M1173.2 145.2h0M1173.5 140.4h0M1173.2 208.0h0M1174.9 145.4h0M1174.4 210.2h0M1176.0 138.4h0M1176.3 134.8h0M1176.1 205.7h0M1176.3 211.8h0M1178.0 133.5h0M1177.6 205.1h0M1177.7 210.1h0M1179.2 128.9h0M1179.0 208.8h0M1179.1 211.3h0M1180.2 129.2h0M1180.7 209.1h0M1182.4 129.7h0M1181.6 204.3h0M1183.6 129.4h0M1183.3 128.0h0M1183.3 200.6h0M1185.2 129.7h0M1184.7 201.5h0M1184.7 204.0h0M1186.2 129.3h0M1186.3 194.6h0M1187.2 131.4h0M1187.4 194.2h0M1187.5 196.1h0M1188.4 191.3h0M1188.5 129.2h0M1189.0 187.9h0M1189.8 128.9h0M1190.3 186.8h0M1191.6 130.0h0M1191.7 127.8h0M1191.3 185.7h0M1193.5 134.5h0M1192.9 181.2h0M1194.3 134.2h0M1195.0 183.1h0M1194.5 185.7h0M1196.1 137.5h0M1195.4 185.3h0M1197.2 139.1h0M1197.5 189.6h0M1198.5 140.1h0M1198.3 189.0h0M1199.8 140.6h0M1200.1 191.9h0M1200.1 198.3h0M1200.6 194.1h0M1202.0 147.9h0M1201.6 192.7h0M1203.1 145.0h0M1202.5 192.0h0M1202.9 196.3h0M1204.6 147.4h0M1204.7 192.1h0M1205.5 148.1h0M1205.6 193.9h0M1207.0 152.6h0M1207.4 185.1h0M1207.1 191.0h0M1208.8 148.4h0M1208.7 184.1h0M1210.1 151.7h0M1209.6 184.1h0M1211.1 149.2h0M1211.5 193.0h0M1211.3 194.6h0M1213.2 149.3h0M1212.8 195.0h0M1214.6 148.5h0M1213.7 197.0h0M1214.1 204.7h0M1214.9 201.4h0M1215.0 149.0h0M1215.9 199.5h0M1215.5 201.5h0M1217.0 147.0h0M1216.5 198.5h0M1218.3 142.4h0M1218.2 198.3h0M1219.5 141.2h0M1220.2 199.0h0M1221.0 144.3h0M1221.3 191.0h0M1222.9 140.5h0M1222.9 190.4h0M1223.5 141.2h0M1224.0 191.7h0M1223.9 192.5h0M1225.1 145.9h0M1225.3 142.5h0M1225.8 190.6h0M1225.3 191.7h0M1226.6 144.6h0M1226.7 189.1h0M1228.2 149.1h0M1228.1 145.7h0M1228.1 189.8h0M1228.1 193.1h0M1228.3 189.1h0M1229.9 150.5h0M1229.7 191.2h0M1231.0 152.3h0M1230.5 195.0h0M1232.0 155.9h0M1232.3 152.0h0M1232.6 199.8h0M1234.0 155.0h0M1233.7 200.6h0M1234.8 156.9h0M1234.7 200.6h0M1237.0 152.8h0M1236.8 200.6h0M1237.6 153.0h0M1238.3 202.7h0M1237.9 203.8h0M1238.3 199.8h0M1239.5 146.7h0M1239.1 196.2h0M1239.3 199.5h0M1240.4 147.4h0M1240.2 191.9h0M1240.7 195.0h0M1241.6 147.7h0M1242.1 185.9h0M1244.0 144.5h0M1243.5 141.4h0M1243.1 186.1h0M1243.5 187.3h0M1244.6 144.6h0M1244.9 180.1h0M1246.7 147.0h0M1246.7 184.8h0M1248.1 143.1h0M1247.7 141.6h0M1247.8 180.5h0M1249.2 145.9h0M1249.4 186.7h0M1250.5 150.3h0M1250.3 189.9h0M1252.4 152.8h0M1251.9 147.9h0M1252.3 151.9h0M1252.2 187.7h0M1253.5 153.4h0M1253.2 194.4h0M1254.3 153.4h0M1254.9 198.8h0M1256.5 155.9h0M1256.6 201.9h0M1257.1 156.8h0M1257.4 197.5h0M1259.2 157.5h0M1258.5 199.3h0M1259.8 159.6h0M1260.2 202.3h0M1261.5 157.9h0M1262.2 199.8h0M1262.8 153.1h0M1263.1 149.9h0M1263.3 199.2h0M1264.7 148.6h0M1264.1 196.7h0M1265.9 147.7h0M1265.8 193.6h0M1267.8 141.1h0M1267.2 185.4h0M1268.7 137.1h0M1268.7 135.9h0M1268.5 181.1h0M1269.6 136.5h0M1270.0 182.1h0M1271.4 137.2h0M1271.7 185.2h0M1272.5 137.6h0M1272.9 134.3h0M1272.7 187.1h0M1274.1 135.9h0M1274.7 190.9h0M1275.8 138.0h0M1275.9 196.6h0M1277.3 145.1h0M1277.0 207.8h0M1277.1 209.0h0M1279.0 153.6h0M1278.4 210.9h0M1278.5 213.1h0M1279.9 155.4h0M1279.6 209.1h0M1279.9 213.8h0M1281.7 156.9h0M1281.2 210.7h0M1281.3 221.4h0M1280.9 217.1h0M1282.2 159.0h0M1282.7 211.7h0M1284.4 160.6h0M1284.3 211.4h0M1285.8 161.3h0M1285.9 211.7h0M1286.6 158.5h0M1286.5 206.6h0M1286.9 211.6h0M1288.8 159.6h0M1288.3 208.0h0M1289.8 159.6h0M1289.6 207.9h0M1291.5 158.3h0M1290.9 207.2h0M1292.9 163.0h0M1292.4 206.8h0M1292.5 208.4h0M1293.7 161.1h0M1294.2 204.5h0M1295.7 163.0h0M1294.9 205.0h0M1296.9 159.2h0M1297.0 206.1h0M1296.7 207.6h0M1295.8 203.9h0M1298.2 162.7h0M1298.0 211.5h0M1299.2 161.5h0M1299.7 208.7h0M1300.7 161.8h0M1300.9 158.0h0M1301.1 210.7h0M1302.2 161.7h0M1302.2 207.4h0M1303.9 159.1h0M1303.9 209.9h0M1305.2 155.0h0M1305.0 210.8h0M1305.1 212.4h0M1306.2 152.2h0M1306.5 151.2h0M1306.4 210.8h0M1307.9 152.4h0M1307.6 210.7h0M1309.4 152.4h0M1309.3 146.4h0M1308.6 149.8h0M1309.7 197.9h0M1310.8 147.0h0M1310.7 143.4h0M1311.1 193.6h0M1312.0 147.4h0M1312.1 145.6h0M1311.7 184.5h0M1313.3 149.0h0M1313.2 182.2h0M1315.3 148.3h0M1314.9 146.2h0M1314.5 182.7h0M1316.7 144.3h0M1316.4 183.1h0M1316.3 184.8h0M1317.6 142.6h0M1317.7 181.0h0M1318.8 142.5h0M1319.0 182.3h0M1320.8 143.1h0M1320.5 181.3h0M1321.9 143.0h0M1322.1 182.9h0M1323.4 144.1h0M1323.3 181.4h0M1323.3 185.9h0M1324.3 141.6h0M1325.1 182.2h0M1326.4 140.1h0M1325.8 182.5h0M1327.6 140.7h0M1327.0 181.8h0M1328.8 140.8h0M1328.7 186.7h0M1330.4 141.6h0M1330.2 188.8h0M1330.3 190.1h0M1331.9 139.3h0M1331.2 189.7h0M1332.9 141.8h0M1333.5 195.0h0M1334.7 143.0h0M1334.5 141.4h0M1334.7 145.7h0M1334.4 195.8h0M1334.5 201.3h0M1335.8 142.4h0M1335.6 206.3h0M1337.3 143.3h0M1337.3 139.6h0M1337.6 205.4h0M1337.3 213.3h0M1339.1 143.0h0M1338.7 207.9h0M1339.8 143.1h0M1339.9 207.8h0M1340.1 214.1h0M1340.7 210.7h0M1341.2 142.1h0M1341.1 209.1h0M1342.4 144.8h0M1343.0 209.5h0M1343.9 150.5h0M1344.4 205.4h0M1345.8 153.8h0M1345.7 150.0h0M1346.2 204.9h0M1347.2 153.8h0M1346.6 206.7h0M1348.9 157.9h0M1348.4 208.2h0M1350.3 156.5h0M1349.9 213.0h0M1351.2 156.3h0M1351.3 155.5h0M1351.7 211.6h0M1352.5 158.9h0M1352.9 214.0h0M1354.1 159.0h0M1354.0 212.8h0M1355.9 157.6h0M1355.7 216.0h0M1357.2 157.5h0M1356.9 154.1h0M1357.3 211.6h0M1358.5 151.5h0M1358.3 150.3h0M1357.4 154.0h0M1358.0 204.4h0M1358.3 209.2h0M1359.8 151.7h0M1359.7 147.0h0M1359.8 200.9h0M1361.1 147.1h0M1360.8 186.6h0M1362.1 145.2h0M1362.9 184.0h0M1363.8 145.6h0M1363.8 182.0h0M1365.0 146.8h0M1365.3 143.0h0M1365.4 181.2h0M1365.3 182.6h0M1367.0 144.4h0M1366.4 181.4h0M1366.7 183.8h0M1368.1 144.3h0M1367.6 178.4h0M1368.1 184.3h0M1369.7 144.1h0M1369.8 179.2h0M1370.7 147.7h0M1370.9 142.4h0M1371.0 184.8h0M1370.9 186.7h0M1371.9 182.3h0M1372.4 146.2h0M1372.3 190.6h0M1372.3 191.9h0M1373.8 150.9h0M1373.8 193.3h0M1375.6 150.4h0M1375.1 145.9h0M1375.1 206.1h0M1376.7 151.0h0M1376.2 209.6h0M1378.3 153.0h0M1377.5 206.5h0M1377.9 211.6h0M1379.2 154.5h0M1379.7 211.2h0M1379.3 212.7h0M1381.0 154.1h0M1380.7 211.2h0M1380.7 214.2h0M1381.7 159.6h0M1381.7 209.9h0M1383.2 160.3h0M1383.6 209.4h0M1385.2 156.9h0M1384.9 206.7h0M1384.9 210.7h0M1384.3 207.6h0M1385.8 156.0h0M1386.5 211.1h0M1386.3 213.7h0M1385.9 210.5h0M1387.7 159.1h0M1387.4 212.0h0M1387.7 214.1h0M1389.4 158.4h0M1389.1 156.8h0M1388.9 207.4h0M1390.8 163.8h0M1390.6 211.8h0M1390.5 213.2h0M1391.8 161.6h0M1391.9 159.0h0M1392.0 209.9h0M1393.5 160.7h0M1393.2 211.0h0M1394.8 163.7h0M1394.8 206.5h0M1395.9 162.8h0M1395.7 209.9h0M1396.1 212.9h0M1397.5 161.6h0M1397.1 208.8h0M1398.7 162.2h0M1398.9 206.5h0M1400.2 161.5h0M1400.2 207.6h0M1401.7 163.5h0M1401.7 161.1h0M1401.4 207.4h0M1402.7 162.2h0M1403.4 204.4h0M1404.8 165.6h0M1404.5 160.2h0M1404.0 165.2h0M1404.7 204.4h0M1405.7 162.0h0M1406.1 203.6h0M1407.7 162.2h0M1407.6 200.0h0M1409.0 161.8h0M1408.4 201.1h0M1410.6 163.2h0M1410.2 203.2h0M1411.7 159.4h0M1411.5 157.0h0M1411.8 200.7h0M1413.3 162.4h0M1412.5 198.5h0M1412.9 201.5h0M1414.0 160.1h0M1414.0 199.1h0M1416.1 158.9h0M1416.1 198.0h0M1415.7 199.3h0M1415.4 195.1h0M1417.5 160.5h0M1417.0 196.5h0M1418.5 160.8h0M1418.3 195.1h0M1419.5 159.8h0M1419.9 158.0h0M1419.6 196.3h0M1421.7 160.1h0M1421.4 194.4h0M1423.1 160.2h0M1422.8 197.3h0M1422.7 198.5h0M1422.3 194.5h0M1423.7 160.2h0M1424.6 198.4h0M1424.1 202.1h0M1424.4 197.6h0M1425.5 161.6h0M1425.4 197.6h0M1425.5 199.7h0M1427.1 159.5h0M1426.9 157.8h0M1426.5 196.5h0M1426.9 200.4h0M1428.4 162.2h0M1428.5 200.0h0M1429.8 157.8h0M1429.9 201.8h0M1430.6 154.7h0M1431.1 203.3h0M1431.1 208.3h0M1432.4 155.6h0M1432.0 202.5h0M1434.0 151.0h0M1434.0 205.4h0M1433.9 208.4h0M1435.6 149.4h0M1435.4 201.1h0M1436.3 147.8h0M1436.6 204.8h0M1438.3 146.6h0M1438.1 141.4h0M1438.6 145.5h0M1437.6 199.3h0M1439.9 146.4h0M1439.6 194.9h0M1441.3 145.1h0M1441.3 195.8h0M1442.3 145.1h0M1442.2 194.2h0M1444.0 143.6h0M1443.9 194.6h0M1444.7 150.6h0M1445.5 195.8h0M1446.4 155.5h0M1446.5 152.0h0M1446.9 193.2h0M1447.7 157.7h0M1448.1 194.5h0M1447.9 197.9h0M1447.6 194.0h0M1449.2 160.2h0M1449.7 191.9h0M1449.3 197.9h0M1451.1 163.4h0M1450.3 197.7h0M1452.2 161.7h0M1452.1 158.1h0M1451.7 198.9h0M1453.4 158.9h0M1453.5 202.3h0M1453.5 207.8h0M1454.8 158.3h0M1454.6 211.9h0M1454.9 213.5h0M1456.2 160.8h0M1456.3 225.5h0M1457.5 158.2h0M1458.2 228.3h0M1459.3 159.2h0M1459.3 228.3h0M1460.7 161.0h0M1460.2 227.0h0M1462.1 163.4h0M1461.5 233.0h0M117.0 131.7h0M122.0 143.7h0M130.0 139.7h0M134.4 132.1h0M138.0 148.7h0M142.0 151.7h0M146.0 157.7h0M150.0 166.7h0M161.6 150.1h0M165.0 156.7h0M174.0 151.7h0M177.0 146.7h0M184.0 144.7h0M187.0 140.7h0M190.0 144.7h0M196.0 161.7h0M200.0 168.7h0M208.0 172.3h0M211.0 174.7h0M214.0 182.7h0M218.0 194.7h0M227.0 192.7h0M233.0 168.7h0M236.0 158.7h0M238.0 154.7h0M242.0 158.7h0M246.0 157.7h0M256.6 141.7h0M256.7 147.6h0M259.0 145.7h0M262.0 155.7h0M266.0 157.7h0M270.0 158.7h0M281.0 138.7h0M283.0 126.7h0M285.6 123.7h0M288.0 126.7h0M294.0 139.7h0M298.0 143.7h0M302.0 148.7h0M306.0 151.7h0M310.0 154.7h0M314.0 158.7h0M318.0 161.7h0M325.0 142.7h0M327.0 112.7h0M326.7 119.1h0M335.0 94.7h0M338.0 92.7h0M340.0 91.7h0M342.0 100.7h0M346.0 130.7h0M348.0 138.7h0M352.0 145.7h0M356.0 148.7h0M360.0 145.7h0M364.0 150.7h0M372.4 151.7h0M377.0 154.7h0M380.0 166.7h0M388.0 162.7h0M393.0 164.7h0M400.0 183.7h0M409.0 160.7h0M409.0 163.8h0M408.7 168.4h0M412.0 172.7h0M419.0 190.7h0M423.0 184.7h0M427.0 180.7h0M428.2 183.7h0M443.0 186.7h0M449.0 167.7h0M453.0 166.7h0M457.0 165.7h0M460.0 158.7h0M461.2 164.7h0M469.0 166.7h0M468.7 169.6h0M468.7 173.3h0M470.4 163.7h0M469.6 169.7h0M474.0 170.7h0M482.0 156.7h0M490.0 145.7h0M496.4 141.7h0M497.0 145.6h0M502.0 159.7h0M506.0 162.7h0M510.0 169.7h0M523.4 145.7h0M522.1 161.7h0M528.0 168.7h0M531.0 149.7h0M531.7 160.7h0M532.1 171.4h0M535.0 154.7h0M538.6 137.7h0M539.3 144.8h0M539.1 153.1h0M539.0 160.4h0M542.4 148.7h0M542.7 162.8h0M547.0 157.7h0M551.0 168.7h0M556.6 157.7h0M557.8 165.0h0M564.0 161.7h0M564.0 168.9h0M572.0 176.7h0M577.0 174.7h0M582.0 167.7h0M588.0 166.7h0M602.0 167.7h0M606.0 164.7h0M610.0 172.7h0M616.0 170.7h0M622.0 167.7h0M628.0 164.7h0M636.0 162.7h0M643.0 161.7h0M663.0 132.7h0M665.6 129.7h0M678.0 144.7h0M682.0 150.7h0M710.0 124.7h0M715.0 122.7h0M720.0 127.7h0M729.4 125.7h0M734.0 132.7h0M744.0 139.7h0M755.0 128.7h0M759.0 123.7h0M763.0 114.7h0M768.4 102.7h0M774.4 87.7h0M773.9 91.1h0M786.4 78.3h0M785.9 84.6h0M789.0 86.7h0M792.0 97.7h0M796.0 96.7h0M799.4 89.7h0M807.6 82.7h0M808.7 86.2h0M807.6 93.0h0M814.0 89.7h0M817.6 79.7h0M817.9 83.3h0M818.5 88.3h0M823.6 61.7h0M822.4 67.3h0M822.9 74.3h0M824.1 80.1h0M823.4 87.5h0M832.4 77.7h0M835.0 84.7h0M839.0 85.7h0M841.6 67.7h0M841.3 75.7h0M842.7 83.5h0M845.0 85.7h0M848.0 89.7h0M850.0 104.7h0M857.0 101.7h0M861.4 95.7h0M861.3 98.3h0M864.0 104.7h0M870.6 99.7h0M871.1 107.0h0M869.4 112.8h0M878.4 115.7h0M878.8 123.9h0M885.0 102.7h0M887.0 63.7h0M887.9 69.5h0M887.1 73.3h0M887.4 78.9h0M887.9 85.0h0M887.5 93.3h0M887.0 100.0h0M890.0 83.7h0M889.3 90.5h0M890.4 94.5h0M889.1 102.4h0M893.0 88.7h0M892.2 91.7h0M891.9 99.8h0M893.7 106.8h0M896.0 100.7h0M895.1 105.4h0M906.0 100.7h0M904.9 104.6h0M905.2 110.3h0M906.1 113.2h0M907.3 115.9h0M917.0 100.7h0M919.6 80.7h0M919.5 86.7h0M919.8 91.7h0M920.1 94.9h0M928.6 109.7h0M929.2 115.2h0M932.0 124.7h0M937.0 125.7h0M946.0 148.7h0M957.0 138.7h0M961.4 125.7h0M976.6 135.7h0M977.2 139.8h0M987.6 115.7h0M991.0 124.7h0M995.0 122.7h0M998.4 114.7h0M998.4 119.0h0M1002.0 132.7h0M1010.4 119.7h0M1009.4 125.9h0M1011.4 128.8h0M1014.0 138.7h0M1023.0 134.7h0M1028.0 132.7h0M1037.0 136.7h0M1040.4 129.7h0M1046.4 116.7h0M1046.1 123.0h0M1053.0 122.7h0M1056.4 117.7h0M1066.0 94.7h0M1068.0 87.7h0M1069.0 95.4h0M1070.4 96.7h0M1076.0 120.7h0M1089.4 136.7h0M1093.0 142.7h0M1102.0 142.7h0M1112.0 132.7h0M1117.6 133.7h0M1122.0 140.7h0M1129.0 130.7h0M1132.0 118.7h0M1131.8 122.7h0M1135.0 128.7h0M1140.0 126.7h0M1144.0 124.7h0M1148.0 126.7h0M1152.0 130.7h0M1157.0 132.7h0M1162.0 130.7h0M1168.0 126.7h0M1172.0 136.7h0M1177.0 132.7h0M1181.0 120.7h0M1181.6 125.8h0M1190.0 122.7h0M1194.0 132.7h0M1200.0 138.7h0M1209.0 144.7h0M1213.0 146.7h0M1218.0 138.7h0M1223.0 136.7h0M1228.0 144.7h0M1244.0 135.7h0M1254.0 150.7h0M1265.0 146.7h0M1269.0 134.7h0M1271.0 130.7h0M1275.0 132.7h0M1278.0 146.7h0M1287.0 153.7h0M1292.0 157.7h0M1297.0 153.7h0M1307.0 150.7h0M1311.0 142.7h0M1319.4 132.7h0M1326.0 136.7h0M1330.6 133.7h0M1338.6 126.7h0M1338.1 132.6h0M1337.6 135.7h0M1353.0 154.7h0M1361.4 138.7h0M1368.6 134.7h0M1372.0 142.7h0M1376.0 146.7h0M1387.0 152.7h0M1393.0 158.7h0M1399.0 158.7h0M1405.0 160.7h0M1410.0 156.7h0M1415.4 154.7h0M1424.0 154.7h0M1429.0 156.7h0M1433.0 150.7h0M1437.0 143.7h0M1441.4 134.7h0M1455.0 155.7h0M1459.0 156.7h0M117.0 197.3h0M119.0 196.3h0M126.0 195.3h0M130.0 189.3h0M137.0 183.3h0M142.0 211.3h0M144.4 224.3h0M143.5 216.8h0M147.0 221.3h0M153.0 214.3h0M156.0 207.3h0M165.0 229.3h0M168.4 239.3h0M169.5 236.4h0M177.0 231.3h0M183.0 253.3h0M185.0 283.3h0M186.4 293.3h0M188.0 287.3h0M190.0 261.3h0M190.5 256.2h0M189.1 252.1h0M190.9 247.2h0M189.3 243.6h0M190.3 238.3h0M190.3 230.2h0M189.5 226.0h0M191.1 219.5h0M193.0 277.3h0M192.4 271.4h0M192.2 263.8h0M192.4 255.9h0M191.8 252.5h0M192.6 247.4h0M193.9 240.6h0M194.1 235.6h0M192.6 227.1h0M191.9 223.5h0M192.6 219.5h0M195.0 229.3h0M194.1 225.0h0M195.3 216.8h0M198.0 205.3h0M202.0 195.3h0M208.0 236.3h0M207.9 228.9h0M208.3 221.8h0M206.7 218.8h0M206.7 211.6h0M207.7 204.5h0M217.0 233.3h0M219.0 241.3h0M222.4 252.3h0M221.6 244.3h0M225.0 239.3h0M228.0 223.3h0M234.0 199.3h0M238.0 194.3h0M242.0 187.3h0M246.0 185.3h0M250.0 188.3h0M253.0 190.3h0M259.0 187.3h0M262.0 181.3h0M269.0 212.3h0M269.6 197.5h0M272.0 207.3h0M276.0 208.3h0M276.1 196.9h0M279.0 205.3h0M282.4 218.3h0M281.2 201.5h0M286.0 205.3h0M285.5 198.6h0M289.0 189.3h0M292.0 185.3h0M296.0 181.3h0M300.0 181.3h0M304.0 183.3h0M308.0 185.3h0M315.0 199.3h0M318.0 223.3h0M320.4 230.3h0M323.0 225.3h0M326.0 221.3h0M328.0 207.3h0M334.0 187.3h0M342.0 194.3h0M349.0 207.3h0M351.0 231.3h0M353.0 265.3h0M354.3 257.8h0M359.6 259.3h0M358.4 256.4h0M366.4 253.3h0M367.1 250.8h0M367.2 247.5h0M374.0 247.3h0M381.0 251.3h0M384.0 259.3h0M383.1 256.4h0M384.2 253.9h0M391.0 257.3h0M397.0 281.3h0M400.0 293.3h0M401.2 288.5h0M404.0 279.3h0M408.0 255.3h0M420.0 269.3h0M424.0 265.3h0M438.0 269.3h0M436.8 266.8h0M441.4 275.3h0M441.8 266.9h0M459.0 242.3h0M463.0 247.3h0M469.0 277.3h0M471.0 286.3h0M475.0 284.3h0M478.0 275.3h0M484.0 245.3h0M488.0 243.3h0M494.0 223.3h0M509.0 265.3h0M512.0 270.3h0M518.0 286.3h0M524.0 321.5h0M563.0 321.5h0M568.0 235.3h0M571.0 231.3h0M573.6 241.3h0M580.0 225.3h0M583.0 247.3h0M584.1 230.8h0M587.0 255.3h0M588.2 242.6h0M590.0 285.3h0M589.1 269.5h0M589.4 252.0h0M590.1 244.6h0M593.0 237.3h0M597.0 249.3h0M600.0 219.3h0M603.0 257.3h0M602.1 239.1h0M607.0 243.3h0M612.0 247.3h0M616.4 261.3h0M615.9 242.9h0M620.0 282.3h0M619.5 273.1h0M619.3 266.2h0M618.9 248.1h0M624.0 260.3h0M633.0 240.3h0M638.0 236.3h0M650.0 203.3h0M672.4 225.3h0M673.5 222.2h0M673.1 218.4h0M672.3 213.7h0M672.5 209.3h0M672.2 204.1h0M682.0 183.3h0M688.0 186.3h0M690.0 197.3h0M690.3 194.1h0M689.9 190.1h0M694.0 185.3h0M700.0 183.3h0M705.0 184.3h0M710.0 185.3h0M716.0 184.3h0M720.0 185.3h0M723.6 188.3h0M728.0 185.3h0M732.4 187.3h0M738.0 185.3h0M744.4 191.3h0M750.0 187.3h0M754.0 185.3h0M760.0 182.3h0M766.0 181.3h0M776.4 178.3h0M787.0 180.3h0M792.4 183.3h0M804.0 183.3h0M810.0 177.3h0M816.0 181.3h0M821.0 177.3h0M826.6 180.3h0M830.0 149.3h0M838.0 134.3h0M846.0 133.3h0M850.0 135.3h0M854.0 133.3h0M861.0 125.3h0M872.4 162.3h0M876.0 157.3h0M884.0 153.3h0M891.0 167.3h0M894.0 174.3h0M899.0 174.3h0M902.0 165.3h0M906.0 155.3h0M919.0 166.3h0M931.0 177.3h0M934.0 181.3h0M939.0 183.3h0M940.6 197.3h0M940.5 190.9h0M941.6 213.3h0M941.5 207.6h0M940.5 200.8h0M942.7 194.0h0M941.6 188.9h0M942.6 219.7h0M942.9 214.9h0M943.2 208.9h0M941.6 202.6h0M942.7 195.5h0M943.7 192.1h0M943.2 188.3h0M944.0 213.3h0M944.4 206.4h0M944.2 203.3h0M944.0 196.9h0M942.8 188.8h0M945.0 185.3h0M949.0 185.3h0M953.0 189.3h0M954.6 197.7h0M953.7 192.2h0M958.0 185.3h0M969.0 180.3h0M975.0 183.3h0M983.0 185.3h0M986.4 188.3h0M986.6 184.7h0M996.0 177.3h0M1001.0 179.3h0M1013.6 197.3h0M1018.4 196.3h0M1027.0 187.3h0M1026.1 184.1h0M1032.0 181.3h0M1038.0 183.3h0M1049.0 189.3h0M1052.0 202.3h0M1058.6 202.3h0M1062.0 189.3h0M1077.0 193.3h0M1081.6 203.3h0M1081.8 197.0h0M1094.0 183.3h0M1099.0 185.3h0M1103.6 190.3h0M1108.0 185.3h0M1113.0 183.3h0M1117.0 195.3h0M1119.4 206.3h0M1123.0 201.3h0M1128.0 203.3h0M1133.0 203.3h0M1138.0 199.3h0M1144.4 204.3h0M1153.0 201.3h0M1156.6 209.7h0M1156.7 202.8h0M1160.0 197.3h0M1164.0 189.3h0M1171.0 197.3h0M1173.6 209.3h0M1175.6 216.3h0M1179.6 215.3h0M1186.0 201.3h0M1190.0 189.3h0M1199.0 195.3h0M1202.4 203.3h0M1201.5 197.2h0M1206.0 193.3h0M1213.6 203.3h0M1217.0 209.3h0M1233.0 208.3h0M1238.6 203.3h0M1242.0 189.3h0M1251.0 192.3h0M1255.0 201.3h0M1258.6 207.3h0M1262.0 210.3h0M1262.9 205.6h0M1271.0 185.3h0M1275.0 195.3h0M1282.4 224.3h0M1283.4 217.8h0M1286.0 211.3h0M1291.0 211.3h0M1299.0 213.3h0M1303.0 215.3h0M1305.6 229.3h0M1305.4 221.2h0M1318.0 189.3h0M1323.0 185.3h0M1329.0 189.3h0M1337.4 222.3h0M1337.7 216.3h0M1342.0 211.3h0M1352.6 236.3h0M1353.0 232.2h0M1352.8 226.6h0M1352.6 219.6h0M1356.0 219.3h0M1362.0 185.3h0M1367.0 183.3h0M1380.6 219.3h0M1389.4 224.3h0M1390.3 217.3h0M1397.0 217.3h0M1400.0 213.3h0M1409.0 207.3h0M1414.0 201.3h0M1419.0 197.3h0M1424.6 201.3h0M1429.0 201.3h0M1433.4 215.3h0M1432.5 212.0h0M1438.0 205.3h0M1446.0 199.3h0M1458.0 247.3h0M1459.1 244.5h0M1456.8 238.6h0M1457.9 233.1h0M1459.4 250.3h0M1458.8 244.8h0M1459.3 238.0h0M1461.0 247.3h0M1461.3 242.9h0M1462.2 235.3h0M1462.6 237.3h0M125.7 191.8h0M189.0 223.8h0M188.0 227.2h0M188.5 235.5h0M190.0 243.2h0M189.5 250.5h0M191.7 222.3h0M191.9 231.1h0M191.3 240.5h0M191.5 244.5h0M194.3 217.6h0M194.4 222.8h0M194.2 231.1h0M224.5 243.6h0M258.5 149.1h0M266.6 193.6h0M281.9 191.4h0M282.6 194.4h0M281.9 199.6h0M284.1 195.7h0M286.9 190.1h0M408.9 169.5h0M522.3 179.4h0M522.7 171.0h0M521.9 164.4h0M522.6 161.3h0M525.4 177.4h0M526.0 174.8h0M525.9 165.8h0M531.6 170.5h0M534.1 168.4h0M536.5 165.4h0M539.5 168.6h0M540.7 163.5h0M542.9 169.1h0M542.8 162.4h0M543.2 157.0h0M544.8 168.9h0M545.6 163.3h0M557.8 170.3h0M562.9 173.1h0M574.8 225.1h0M581.5 222.9h0M579.7 225.9h0M583.9 235.2h0M582.7 241.8h0M589.5 243.2h0M590.1 249.4h0M589.4 255.0h0M588.5 263.9h0M590.1 266.8h0M589.2 270.7h0M597.3 231.4h0M598.2 235.2h0M597.2 237.9h0M602.8 228.5h0M606.6 236.2h0M612.2 241.4h0M622.1 248.5h0M623.7 246.8h0M673.4 203.5h0M674.0 209.0h0M674.1 214.1h0M774.7 90.6h0M801.5 95.0h0M807.4 92.0h0M815.3 88.9h0M817.9 89.4h0M842.3 77.1h0M870.0 113.0h0M888.3 103.4h0M888.5 100.4h0M919.7 99.7h0M919.3 92.7h0M943.8 192.8h0M943.1 196.2h0M987.1 121.4h0M985.9 186.2h0M1058.0 199.3h0M1068.5 98.5h0M1082.0 196.6h0M1282.7 217.5h0M1281.5 221.5h0M1337.0 216.6h0M1441.3 139.8h0M1458.8 237.4h0M523.7 326.8h0M526.6 369.7h0M554.4 330.5h0M524.8 307.1h0M530.7 307.5h0M552.7 310.7h0M549.2 323.4h0M553.4 314.1h0M553.2 371.2h0M539.0 297.9h0M559.5 312.2h0M553.7 305.7h0M523.5 313.9h0M526.4 374.3h0M540.3 311.1h0M552.5 368.7h0M539.8 350.2h0M537.7 299.8h0M552.0 323.2h0M547.2 367.3h0M530.4 359.1h0M525.9 309.7h0M532.2 356.9h0M543.8 304.6h0M531.2 319.4h0M551.1 302.1h0M536.6 294.0h0M550.4 332.8h0M543.4 328.0h0M532.2 297.5h0M552.6 319.7h0M524.5 349.9h0M530.7 330.3h0M533.3 290.5h0M538.0 318.3h0M553.1 310.5h0M547.7 366.1h0M546.4 292.2h0M551.2 325.1h0M549.7 296.1h0M525.9 376.8h0M525.9 302.1h0M532.7 337.9h0M533.2 300.9h0M541.2 340.5h0M530.1 358.2h0M558.3 309.0h0M536.4 341.3h0M551.1 305.0h0M530.2 342.6h0M551.6 302.2h0M526.1 326.6h0M551.2 346.8h0M542.1 317.9h0M549.9 344.4h0M554.5 299.8h0M554.0 292.2h0M529.1 376.3h0M534.3 346.1h0M524.3 312.0h0M531.4 303.3h0M528.1 373.5h0M552.5 355.3h0M545.8 352.4h0M551.2 325.1h0M526.3 321.5h0M529.6 354.0h0M545.2 293.7h0M534.5 335.4h0M549.5 318.0h0M533.1 337.1h0M531.8 369.2h0M534.3 343.7h0M532.5 346.3h0M536.8 341.7h0M534.7 367.0h0M536.1 340.8h0M551.8 345.1h0M529.7 333.2h0M554.9 319.7h0M531.3 329.3h0M542.1 301.7h0M527.8 291.2h0M553.8 316.1h0M557.1 331.2h0M541.3 333.6h0M546.8 343.8h0M535.5 332.9h0M537.4 327.1h0M527.7 351.2h0M558.1 328.0h0M535.8 339.7h0M526.8 347.8h0M522.9 310.0h0M525.4 343.6h0M526.9 347.7h0M540.2 335.5h0M523.1 301.6h0M555.3 329.3h0M547.0 315.6h0M533.3 317.3h0M544.0 341.4h0M541.1 341.6h0M529.5 343.4h0M551.1 308.4h0M531.0 350.7h0M544.2 325.6h0M529.2 326.1h0M557.9 300.8h0M543.3 352.4h0M531.3 296.2h0M524.7 301.8h0M555.4 362.3h0M528.8 308.4h0M532.7 325.8h0M555.8 309.9h0M531.6 357.4h0M540.6 315.1h0M551.0 316.0h0M536.9 296.8h0M539.1 290.1h0M530.0 301.6h0M547.8 348.0h0M536.9 294.3h0M543.3 304.5h0M539.7 313.1h0M528.9 377.9h0M529.8 373.0h0M539.3 297.0h0M528.4 368.7h0M529.7 326.7h0M551.6 344.4h0M529.7 294.1h0M532.1 336.7h0M554.1 364.2h0M525.6 307.2h0M538.7 293.9h0M530.2 305.7h0M555.6 326.5h0M549.4 347.6h0M557.5 353.9h0M532.6 295.4h0M530.7 348.7h0M523.8 318.9h0M528.0 304.8h0M524.2 370.8h0M530.0 292.9h0M531.2 303.7h0M543.6 330.9h0M536.6 317.4h0M552.9 339.3h0M546.6 300.5h0M524.1 365.6h0M531.5 301.7h0M549.4 294.4h0M558.4 293.0h0M529.3 293.7h0M539.8 315.4h0M552.9 342.8h0M531.0 361.8h0M550.0 331.2h0M537.6 303.9h0M529.2 319.9h0M549.2 299.2h0M557.7 292.8h0M527.4 347.9h0M550.6 370.2h0M538.4 331.5h0M536.4 362.8h0M536.1 323.4h0M528.8 344.2h0M529.1 339.6h0M531.8 349.4h0M548.2 319.6h0M536.6 290.4h0M525.6 344.1h0M526.4 306.9h0M556.5 310.7h0M538.4 341.5h0M549.6 360.8h0M544.5 326.3h0M556.9 300.0h0M541.0 333.2h0M554.2 325.2h0M537.8 338.7h0M542.7 297.2h0M557.7 291.4h0M529.1 321.1h0M548.4 332.0h0M534.5 320.3h0M552.3 342.4h0M555.9 319.8h0M529.2 382.6h0M553.4 291.6h0M543.1 332.6h0M535.3 299.8h0M547.0 330.7h0M522.7 300.8h0M533.7 330.8h0M539.4 331.0h0M545.2 317.9h0M525.0 353.3h0M548.6 358.2h0M542.6 291.6h0M542.5 298.6h0M530.7 324.6h0M528.8 381.0h0M532.4 294.4h0M541.0 331.8h0M540.4 324.0h0M530.0 366.4h0M555.3 328.6h0M548.6 352.7h0M531.1 359.4h0M527.7 342.7h0M536.0 316.6h0M530.7 294.4h0M535.3 307.3h0M545.9 325.7h0M549.4 323.6h0M532.3 331.7h0M552.3 309.3h0M553.2 342.4h0M537.4 362.2h0M525.0 293.2h0M554.4 317.9h0M532.3 351.6h0M537.4 293.3h0M533.1 293.6h0M548.7 321.9h0M537.1 299.0h0M523.0 330.0h0M559.7 320.0h0M553.5 361.9h0M552.3 357.1h0M545.1 353.4h0M555.5 321.0h0M527.1 301.1h0M546.4 303.2h0M555.2 363.4h0M536.8 341.4h0M525.5 342.5h0M527.4 335.7h0M535.9 295.7h0M530.3 294.8h0M533.7 339.5h0M559.0 294.0h0M550.0 345.8h0M546.3 322.6h0M536.6 366.1h0M525.0 295.1h0M545.0 312.9h0M539.8 331.3h0M552.2 363.7h0M549.0 371.1h0M531.0 291.0h0M525.0 330.9h0M527.0 336.7h0M557.2 306.4h0M555.7 314.7h0M557.5 354.3h0M558.8 316.6h0M537.9 341.3h0M554.2 342.2h0M554.3 308.3h0M552.8 297.0h0M532.5 309.7h0M540.0 295.9h0M530.5 334.6h0M557.4 295.1h0M527.5 364.2h0M554.5 344.9h0M530.1 326.6h0M536.1 356.2h0M540.7 314.4h0M556.4 323.9h0M530.7 343.2h0M535.9 290.8h0M549.9 342.0h0M535.3 331.9h0M540.0 355.8h0M547.2 361.1h0M526.2 365.5h0M555.8 303.6h0M555.4 325.6h0M548.3 345.3h0M530.8 295.8h0M550.7 345.3h0M524.6 329.1h0M533.1 306.4h0M555.5 301.7h0M551.1 306.5h0M525.4 325.0h0M543.5 329.5h0M556.4 355.3h0M549.9 341.1h0M552.7 327.8h0M547.5 329.8h0M528.9 343.7h0M532.0 348.0h0M556.5 331.5h0M529.7 309.6h0M557.6 291.4h0M548.2 338.9h0M556.9 357.8h0M534.8 314.3h0M555.5 305.6h0M555.3 317.4h0M522.8 322.0h0M551.1 319.5h0M541.5 338.8h0M527.9 295.0h0M536.8 363.8h0M532.2 358.8h0M541.6 321.1h0M538.4 316.1h0M544.0 298.2h0M536.3 297.9h0M541.3 336.5h0M538.8 324.0h0M531.6 338.6h0M555.3 333.8h0M558.3 294.4h0M524.0 310.0h0M544.9 308.8h0M527.9 326.7h0M532.6 366.7h0M528.0 312.9h0M536.0 346.4h0M527.9 322.8h0M540.1 337.9h0M531.1 294.6h0M532.6 374.9h0M544.7 299.0h0M530.2 366.5h0M530.6 369.9h0M526.1 313.4h0M557.5 322.6h0M529.1 334.4h0M533.7 313.7h0M545.4 311.5h0M546.6 332.2h0M551.8 300.1h0M546.1 294.9h0M530.7 332.4h0M539.1 307.8h0M544.9 303.6h0M547.6 359.6h0M535.4 308.0h0M538.9 295.2h0M555.3 316.6h0M533.0 326.6h0M554.7 299.3h0M534.5 310.5h0M544.2 295.8h0M559.1 321.9h0M553.0 372.5h0M536.0 361.4h0M539.1 358.7h0M549.1 355.8h0M555.3 314.6h0M532.3 295.7h0M542.8 323.5h0M524.8 348.7h0M528.1 292.6h0M525.5 291.1h0M554.0 338.4h0M528.7 313.2h0M541.8 304.3h0M525.6 316.9h0M555.0 306.6h0M557.3 325.6h0M550.5 304.8h0M551.4 348.6h0M534.3 290.4h0M532.9 364.3h0M538.1 335.6h0M539.3 295.6h0M539.1 350.9h0M535.3 350.3h0M544.6 294.5h0M553.3 297.4h0M542.6 326.2h0M525.3 294.6h0M524.2 317.7h0M525.4 350.2h0M557.1 321.3h0M530.5 305.6h0M525.8 370.6h0M530.5 373.9h0M548.1 338.4h0M540.8 342.7h0M551.1 323.8h0M529.7 344.4h0M536.6 317.8h0M531.9 363.6h0M530.1 353.3h0M554.2 351.2h0M531.7 334.2h0M554.7 334.9h0M525.1 299.9h0M523.7 337.8h0M526.5 318.4h0M528.3 296.8h0M552.5 298.3h0M537.2 360.3h0M523.1 327.0h0M537.2 343.6h0M556.9 290.2h0M550.8 295.6h0M526.1 321.2h0M543.4 308.1h0M548.1 325.5h0M526.0 350.6h0M550.0 328.3h0M531.5 308.8h0M553.8 367.5h0M533.9 292.2h0M555.2 318.4h0M553.6 324.5h0M532.7 302.0h0M554.4 323.9h0M547.7 366.6h0M530.5 366.4h0M525.9 328.2h0M543.9 352.7h0M556.2 343.7h0M558.8 318.4h0M536.8 322.6h0M534.7 347.7h0M537.8 362.6h0M536.0 348.9h0M537.1 325.2h0M529.5 297.7h0M543.1 327.5h0M530.8 291.5h0M548.0 294.7h0M536.9 364.9h0M552.7 343.1h0M560.3 315.1h0M523.0 328.2h0M544.8 291.8h0M531.6 337.2h0M523.7 302.3h0M541.1 349.3h0M543.6 293.3h0M532.8 296.3h0M558.6 308.8h0M554.2 352.3h0M528.6 327.1h0M533.9 346.1h0M557.7 313.9h0M529.5 306.5h0M551.2 305.8h0M547.9 292.2h0M543.0 351.4h0M536.0 360.4h0M523.3 296.1h0M544.6 290.8h0M539.0 346.7h0M529.2 290.9h0M525.6 295.1h0M532.3 343.7h0M529.8 374.7h0M541.5 337.7h0M553.0 325.8h0M528.9 353.7h0M556.1 293.0h0M534.1 332.9h0M554.4 357.1h0M530.2 316.1h0M529.8 342.6h0M524.9 370.3h0M550.3 371.9h0M535.1 305.8h0M540.0 304.5h0M556.9 302.4h0M552.4 361.4h0M537.8 322.8h0M531.0 360.1h0M533.2 341.8h0M549.0 320.3h0M538.5 296.7h0M539.6 318.9h0M558.1 292.7h0M526.8 320.3h0M549.9 295.5h0M554.0 299.3h0M526.6 294.0h0M555.5 359.4h0M536.8 311.3h0M558.2 293.2h0M527.6 343.5h0M550.0 376.8h0M529.8 323.7h0M552.8 304.8h0M553.7 309.6h0M543.6 326.3h0M539.9 317.0h0M549.0 326.6h0M534.2 335.2h0M534.7 371.5h0M556.0 347.2h0M556.6 346.7h0M551.1 335.8h0M550.1 318.7h0M537.2 348.0h0M535.6 347.4h0M552.4 330.2h0M543.0 328.9h0M546.8 308.3h0M552.8 294.6h0M529.1 351.7h0M540.0 330.4h0M536.5 363.0h0M531.7 297.5h0M545.2 342.9h0M542.2 330.9h0M530.8 299.6h0M541.6 305.1h0M537.1 300.5h0M533.5 301.8h0M546.8 319.9h0M549.6 300.9h0M540.2 312.8h0M557.5 317.3h0M544.0 340.4h0M524.2 297.6h0M524.8 300.8h0M528.0 332.5h0M528.7 358.7h0M551.7 292.2h0M553.0 367.4h0M555.7 303.6h0M536.9 318.7h0M540.6 297.7h0M525.8 310.1h0M526.8 291.5h0M532.3 299.5h0M528.6 325.0h0M535.5 304.3h0M525.9 316.2h0M554.5 299.2h0M524.3 296.7h0M554.0 329.1h0M530.8 350.6h0M552.0 347.7h0M546.2 356.7h0M528.2 305.6h0M522.9 325.5h0M540.7 346.7h0M550.5 290.2h0M541.2 308.7h0M533.0 308.0h0M556.4 302.8h0M527.3 377.7h0M549.9 334.9h0M553.3 332.8h0M555.5 354.9h0M530.4 324.6h0M551.1 306.1h0M545.2 292.7h0M538.1 329.3h0M529.8 297.0h0M548.6 343.8h0M549.9 326.5h0M546.0 342.3h0M531.6 299.3h0M542.9 312.5h0M527.0 335.3h0M534.8 318.3h0M543.3 328.1h0M525.5 369.7h0M555.2 360.7h0M526.6 326.2h0M536.6 315.2h0M534.7 292.6h0M554.4 300.0h0M524.3 347.7h0M541.3 358.7h0M545.1 309.4h0M555.6 302.0h0M557.6 314.3h0M547.5 316.5h0M528.8 323.8h0M556.9 298.9h0M530.7 303.2h0M547.9 293.3h0M542.2 355.4h0M556.5 293.5h0M547.0 328.2h0M554.9 325.1h0M526.9 302.8h0M538.5 343.7h0M539.3 320.3h0M545.1 325.3h0M545.5 304.1h0M544.8 309.1h0M537.0 290.3h0M554.6 317.2h0M548.8 310.2h0M532.4 359.2h0M541.8 312.6h0M550.2 338.5h0M554.1 339.7h0M531.7 337.7h0M534.9 354.9h0M544.1 347.3h0M550.4 305.2h0M541.7 326.9h0M543.7 291.3h0M550.3 348.9h0M527.8 357.5h0M537.3 330.5h0M546.5 347.8h0M548.3 292.4h0M532.9 329.1h0M528.9 312.1h0M527.3 304.7h0M535.4 364.2h0M531.2 328.7h0M528.0 304.2h0M527.3 328.6h0M540.5 352.0h0M552.1 336.9h0M554.4 349.1h0M540.3 294.7h0M549.0 375.4h0M539.4 318.7h0M536.3 335.4h0M541.0 342.7h0M535.1 357.7h0M537.4 300.7h0M532.5 293.8h0M549.4 331.1h0M534.7 337.4h0M541.9 353.0h0M530.6 302.5h0M544.2 293.5h0M559.3 290.5h0M548.9 338.2h0M538.7 311.4h0M539.2 313.7h0M553.3 357.6h0M526.5 378.8h0M542.5 357.3h0M526.3 340.7h0M552.1 342.0h0M534.0 334.5h0M540.3 314.7h0M542.6 342.3h0M526.8 294.3h0M535.3 326.2h0M541.3 296.2h0M526.7 304.6h0M523.4 298.9h0M532.5 291.6h0M554.0 337.0h0M540.2 307.4h0M548.6 296.5h0M523.7 307.8h0M529.2 342.8h0M528.1 377.6h0M533.6 353.4h0M529.1 331.8h0M542.3 310.5h0M540.4 299.7h0M542.5 293.1h0M548.5 346.7h0M530.1 353.9h0M547.4 324.4h0M554.6 333.6h0M526.9 342.1h0M523.2 314.3h0M547.1 298.2h0M558.3 346.6h0M533.8 349.2h0M523.6 318.3h0M547.0 312.2h0M548.9 321.7h0M524.5 350.7h0M531.2 345.1h0M531.9 338.6h0M555.0 338.0h0M527.3 342.4h0M539.0 300.3h0M539.0 290.3h0M533.3 320.1h0M553.4 369.4h0M552.4 304.0h0M441.4 300.0h0M470.4 299.6h0M478.4 299.6h0M499.4 259.0h0M499.4 272.4h0M582.4 269.0h0M582.4 304.4h0M582.4 313.0h0M587.6 310.0h0M587.6 320.0h0M602.4 290.0h0M612.0 270.0h0M612.0 280.0h0M616.4 291.0h0M616.4 301.0h0M620.0 279.0h0M566.0 307.0h0M565.6 295.0h0M526.4 386.6h0M533.0 388.0h0M538.4 387.6h0M526.0 394.0h0M530.0 396.0h0M534.0 393.6h0M525.6 398.0h0M529.0 401.0h0M531.6 405.4h0M526.4 406.4h0M526.6 410.0h0M531.0 413.0h0M527.6 415.6h0M531.6 419.0h0M526.0 422.4h0M525.6 421.0h0M531.4 433.4h0M525.4 450.4h0M526.4 459.6h0M526.4 462.4h0M526.4 480.6h0M537.4 379.4h0M542.4 375.0h0M542.0 360.0h0M543.0 405.6h0M539.4 414.6h0M539.4 442.6h0M548.0 388.0h0M553.0 388.0h0M554.4 382.6h0M549.4 394.0h0M553.6 393.0h0M549.0 404.6h0M550.6 405.4h0M555.6 408.6h0M548.6 414.6h0M553.6 416.0h0M553.6 421.0h0M547.4 426.6h0M552.6 428.6h0M547.4 438.0h0M548.4 440.4h0M552.6 441.6h0M550.6 450.4h0M553.6 473.4h0M550.6 475.6h0M553.4 496.4h0M565.6 296.4h0M567.0 306.4h0M564.0 307.6h0M563.0 322.0h0M566.0 324.4h0M565.6 331.0h0M562.6 337.0h0M560.6 344.4h0M564.0 349.0h0M567.0 351.0h0M566.6 354.0h0M565.6 360.4h0M565.6 363.6h0M566.6 370.6h0M562.4 377.4h0M563.6 384.4h0M565.6 384.4h0M563.4 399.4h0M582.6 304.4h0M587.6 310.4h0M582.4 314.0h0M587.6 320.0h0M587.6 323.0h0M587.4 335.6h0M586.6 291.0h0M602.4 291.6h0M616.6 291.6h0M616.6 301.6h0M1258.6 222.4h0" stroke="#1f77b4" stroke-width="5.4" stroke-linecap="round" fill="none"/>
<path d="M117.0 176.0 119.0 163.0 121.0 171.0 123.0 173.0 125.6 179.0 128.0 169.0 131.0 166.0 133.6 159.0 136.0 163.0 139.6 164.0 142.0 175.0 144.4 180.0 148.0 188.0 151.6 191.0 154.4 184.0 157.0 176.0 159.0 180.0 161.6 177.0 164.0 188.0 166.0 185.0 168.4 194.0 170.0 178.0 171.6 165.0 173.6 178.0 175.0 181.0 176.6 169.0 178.0 184.0 179.6 194.0 181.2 176.0 183.0 161.0 184.4 186.0 185.4 212.0 186.2 174.0 187.4 154.0 189.0 160.0 190.4 160.0 192.0 180.0 194.0 170.0 195.6 177.0 197.6 176.0 200.0 186.0 202.4 191.0 205.0 186.0 207.4 182.4 210.0 184.4 212.4 192.0 215.0 202.0 218.0 214.0 221.0 217.6 224.0 217.0 226.4 206.0 229.0 196.0 232.0 186.0 235.0 178.0 238.0 172.0 240.4 169.6 243.0 173.0 245.0 172.4 247.6 170.0 250.0 171.6 252.4 176.4 254.4 167.0 256.0 161.6 258.0 165.0 260.0 170.0 261.6 167.0 263.0 163.0 264.4 169.0 266.0 175.0 268.4 172.0 271.0 167.0 273.0 170.0 275.0 166.0 277.0 167.0 279.0 161.0 280.4 157.0 281.6 160.0 283.0 145.0 284.4 134.4 286.0 139.0 288.0 143.0 290.0 149.0 291.6 158.0 293.0 164.0 295.0 153.0 297.0 159.0 299.0 163.0 301.6 161.0 304.0 163.0 306.0 165.6 308.4 164.4 311.0 170.0 313.6 178.0 315.6 175.0 317.6 190.0 319.6 199.0 322.0 194.0 324.0 188.0 326.0 170.0 328.0 145.0 329.6 164.0 331.0 182.0 332.4 150.0 334.0 131.0 335.6 150.0 336.4 159.0 337.6 136.0 338.6 129.0 340.0 150.0 341.6 165.0 344.0 166.0 346.0 165.0 348.4 170.0 351.0 180.0 353.0 194.0 354.4 203.0 356.4 200.0 358.4 200.0 360.0 190.0 361.6 183.0 363.2 184.0 364.8 198.0 366.0 203.0 367.6 192.0 369.0 201.0 370.6 190.0 372.0 185.0 373.6 186.0 375.0 177.0 376.4 190.0 378.0 208.0 379.4 215.0 380.8 212.0 382.4 220.0 384.4 210.0 386.0 198.0 387.6 192.0 389.2 199.0 391.0 210.0 392.4 212.0 394.0 209.0 396.0 222.0 397.6 234.0 399.0 246.0 400.0 249.0 401.6 242.0 403.6 233.0 405.6 239.0 407.6 210.0 409.4 182.0 411.0 210.0 412.4 230.0 414.0 218.0 415.6 214.0 417.4 228.0 419.0 239.0 421.0 224.0 423.0 220.0 424.4 223.0 426.4 209.0 428.4 212.0 431.0 222.0 433.0 228.0 434.4 233.0 436.0 225.0 437.6 238.0 439.2 245.0 441.0 230.0 443.0 212.0 445.0 205.0 446.6 215.0 448.0 202.0 450.0 185.0 451.6 196.0 452.6 206.0 454.0 194.0 455.4 185.0 457.0 201.0 458.6 189.0 460.0 198.0 461.6 216.0 463.6 215.0 465.0 234.0 466.6 256.0 468.0 218.0 469.2 192.0 470.4 230.0 471.6 245.0 473.2 228.0 475.0 217.0 477.0 224.0 479.0 210.0 481.6 201.0 484.0 194.0 486.0 194.0 487.6 170.0 489.4 161.6 491.0 170.0 492.6 178.0 494.4 184.0 496.0 174.0 497.6 163.0 499.2 178.0 501.0 190.0 503.0 196.0 504.6 191.0 506.0 204.0 508.0 212.0 510.4 213.0 512.0 218.0 513.6 212.0 515.0 207.0 516.4 216.0 519.0 215.6 521.6 210.0 523.0 204.6 524.0 230.0 525.0 270.0 526.0 312.0 527.2 270.0 528.2 235.0 529.6 270.0 531.0 298.0 533.0 282.0 535.0 266.0 537.0 252.0 539.0 250.0 540.6 246.0 542.0 250.0 543.6 245.0 545.0 262.0 546.4 280.0 547.6 289.0 549.0 274.0 550.4 278.0 552.0 291.0 553.2 270.0 554.0 230.0 555.0 209.0 556.4 224.0 558.0 218.0 559.6 210.0 561.6 205.0 563.0 212.0 564.4 220.0 565.6 206.0 567.0 192.0 568.4 189.0 570.0 194.0 571.6 191.0 573.2 196.0 575.0 191.0 577.0 188.0 579.0 187.0 581.0 183.0 582.4 190.0 584.0 181.0 585.6 190.0 587.0 198.0 589.0 191.0 591.0 187.0 593.0 185.0 595.0 189.0 597.0 190.0 599.0 187.0 601.0 190.0 603.6 193.0 606.0 194.0 609.0 195.0 611.0 201.0 613.0 197.0 615.0 202.0 617.0 207.0 619.0 204.0 621.0 206.0 623.6 198.0 626.0 215.0 627.6 190.0 628.6 183.0 630.0 202.0 631.6 216.0 633.0 210.0 634.4 190.0 636.0 180.0 637.6 178.0 639.4 186.0 641.0 194.0 642.6 191.0 644.0 196.0 645.6 199.0 647.6 188.0 650.0 176.0 652.4 173.0 654.0 171.6 656.0 175.0 658.0 174.0 660.0 175.0 662.4 176.0 664.0 168.0 665.2 147.0 666.6 159.0 668.0 170.0 670.0 169.0 672.0 170.0 674.0 176.0 676.0 175.0 678.0 174.0 679.6 167.0 681.6 166.0 683.0 165.6 684.6 172.0 686.6 171.0 688.6 167.0 690.0 172.0 692.4 165.0 694.4 167.0 696.4 170.0 698.4 162.0 700.4 164.0 702.4 162.0 704.0 160.0 705.6 149.6 707.0 160.0 708.4 169.0 710.0 160.0 711.6 166.0 713.0 162.0 714.6 157.0 716.0 168.0 717.0 175.6 718.0 160.0 719.2 157.0 720.4 174.0 721.6 160.0 723.0 170.0 724.4 173.0 726.0 172.0 727.2 176.0 728.4 164.0 729.6 160.0 731.0 172.0 732.4 160.0 734.0 146.0 736.0 146.0 737.6 160.0 739.0 172.0 740.4 175.0 741.6 160.0 743.0 149.6 744.4 158.0 745.6 164.0 747.0 160.0 749.0 159.6 750.4 158.0 752.0 168.0 753.2 172.0 754.4 160.0 756.0 154.0 757.6 152.0 759.0 157.0 760.4 149.0 762.0 144.0 763.6 147.0 765.2 151.6 767.0 145.0 769.0 143.0 771.0 142.0 773.0 138.0 774.4 133.0 776.0 138.0 777.6 134.0 779.0 140.0 780.4 132.0 782.0 134.0 783.6 131.0 785.0 137.0 786.4 126.0 788.0 136.0 789.2 119.0 790.4 119.0 791.6 140.0 792.6 160.0 794.0 144.0 795.4 134.0 797.0 132.0 798.4 119.0 799.6 128.0 801.0 138.0 802.4 148.0 804.0 155.0 805.6 148.0 807.0 140.0 808.6 138.0 810.0 140.0 811.4 134.0 812.6 127.0 814.0 140.0 815.6 155.6 817.0 146.0 818.4 136.0 820.0 144.0 821.2 149.0 822.6 142.0 824.0 140.0 825.6 146.0 826.6 148.0 827.6 136.0 828.6 122.0 830.0 120.0 831.6 116.0 833.0 115.0 834.4 111.0 836.0 106.0 837.6 112.0 839.0 108.0 840.4 99.0 841.6 98.0 842.8 108.0 844.0 117.0 845.6 115.0 847.0 120.0 848.0 126.0 849.6 125.0 851.2 129.0 852.8 128.0 854.4 120.0 856.0 113.0 858.0 109.0 860.0 106.0 861.6 112.0 863.2 122.0 865.0 130.0 867.0 133.0 869.0 134.0 870.6 144.0 872.0 153.0 874.0 154.0 876.0 149.0 877.6 138.0 879.6 139.0 881.6 138.0 883.0 144.0 884.4 147.0 886.0 138.0 888.0 140.0 890.0 139.0 891.6 148.0 893.0 158.0 895.0 161.0 897.0 161.0 899.0 160.0 901.0 158.0 903.0 155.0 904.4 146.0 906.0 140.0 908.0 138.0 910.0 142.0 911.6 146.0 913.0 151.0 914.4 148.0 915.6 143.0 917.0 152.0 918.0 158.0 919.4 145.0 920.6 151.0 922.0 156.0 923.6 152.0 925.6 153.0 927.6 151.0 929.6 156.0 931.6 162.0 933.6 163.0 935.6 159.0 937.6 155.0 939.6 160.0 941.6 159.0 943.0 164.0 944.4 154.0 946.0 163.0 947.4 169.0 949.0 160.0 950.6 164.0 952.4 167.0 954.4 168.0 956.4 165.0 958.4 163.0 960.0 156.0 961.6 151.0 963.2 158.0 964.6 161.0 966.0 159.0 967.6 168.0 969.2 176.0 970.8 172.0 972.4 164.0 974.4 161.0 976.0 160.0 977.6 164.0 979.6 162.0 980.0 161.0 981.6 164.0 983.2 160.0 984.8 168.0 986.4 170.0 988.0 157.0 989.6 168.0 991.2 160.0 992.6 153.0 994.0 160.0 995.6 168.0 997.0 160.0 998.0 158.0 999.2 168.0 1000.4 172.0 1002.0 166.0 1003.6 163.0 1005.0 165.0 1006.4 159.0 1008.0 165.0 1010.0 166.0 1012.0 170.0 1013.6 172.0 1015.6 165.0 1017.6 161.0 1019.6 163.0 1022.0 163.0 1024.0 165.0 1026.0 168.0 1028.0 162.0 1030.0 158.0 1031.6 164.0 1033.2 169.0 1035.0 171.0 1036.6 166.0 1038.0 163.0 1039.2 166.0 1041.0 160.0 1042.4 165.0 1044.0 160.0 1045.6 161.0 1047.0 158.0 1048.4 162.0 1050.0 170.0 1051.6 178.0 1052.8 179.0 1054.0 164.0 1055.4 156.0 1056.6 160.0 1058.0 168.0 1060.0 168.0 1062.0 169.0 1063.6 160.0 1064.8 148.0 1066.0 145.0 1067.4 152.0 1069.0 162.0 1071.0 160.0 1073.0 162.4 1075.0 160.0 1077.0 162.0 1079.0 168.0 1081.0 172.0 1083.0 171.0 1085.0 169.0 1087.0 165.0 1089.0 162.0 1090.6 165.0 1092.0 170.0 1093.6 172.0 1095.6 168.0 1097.6 165.0 1099.6 163.0 1101.2 168.0 1102.8 162.0 1104.4 159.6 1106.4 162.0 1108.4 162.4 1110.4 164.0 1112.4 163.0 1114.4 168.0 1116.4 171.0 1118.4 170.0 1120.0 172.0 1122.0 170.0 1124.0 171.6 1126.0 168.0 1128.0 172.0 1129.4 160.0 1130.4 145.0 1131.4 152.0 1132.4 174.0 1134.0 170.0 1136.0 164.0 1138.0 159.0 1139.6 160.0 1141.0 165.0 1142.6 166.0 1144.4 160.0 1146.4 159.0 1148.0 156.0 1150.0 160.0 1152.0 165.0 1154.0 170.0 1156.0 174.0 1157.6 178.0 1159.0 181.0 1160.6 174.0 1162.0 170.0 1163.6 171.0 1165.2 164.0 1166.8 156.0 1168.4 149.0 1169.6 154.0 1171.0 164.0 1172.6 170.0 1174.4 174.0 1176.0 168.0 1177.6 165.0 1179.2 168.0 1180.8 174.0 1182.4 178.0 1184.0 170.0 1185.6 164.0 1187.2 159.0 1188.8 160.0 1190.4 158.0 1191.6 153.6 1193.0 160.0 1194.4 168.0 1196.0 165.0 1198.0 168.0 1200.0 170.0 1202.0 174.0 1204.0 177.0 1206.0 172.0 1207.6 166.0 1208.8 164.0 1210.4 170.0 1212.0 174.0 1214.0 173.6 1216.0 173.0 1218.0 170.0 1219.6 165.0 1221.0 168.0 1222.6 169.0 1224.4 166.0 1226.0 170.0 1227.6 169.0 1229.2 172.0 1231.0 176.0 1232.6 178.0 1234.4 175.0 1236.0 170.0 1238.0 166.0 1240.0 165.0 1242.0 164.0 1244.0 160.0 1245.6 157.0 1247.2 162.0 1249.0 170.0 1250.6 172.0 1252.4 169.0 1254.0 172.0 1256.0 173.0 1258.0 177.0 1260.0 176.0 1262.0 172.0 1264.0 166.0 1266.0 165.0 1268.0 160.0 1270.0 157.0 1271.0 158.0 1273.0 156.0 1274.6 156.0 1276.0 164.0 1277.6 171.0 1279.0 168.0 1280.6 174.0 1282.0 182.0 1283.4 184.0 1285.0 178.0 1286.6 173.0 1288.0 176.0 1289.6 174.0 1291.0 176.0 1292.6 180.0 1294.0 176.0 1295.4 172.0 1297.0 174.0 1299.0 176.0 1300.6 178.0 1302.0 174.0 1303.4 175.0 1305.0 177.0 1307.0 172.0 1309.0 168.0 1311.0 166.0 1313.0 165.0 1314.6 166.0 1316.2 164.0 1317.8 169.0 1319.4 162.0 1321.0 168.0 1322.6 162.0 1324.2 159.0 1325.8 166.0 1327.4 172.0 1329.0 169.0 1330.6 168.0 1332.0 172.0 1333.6 170.0 1335.0 167.0 1336.6 169.0 1338.2 168.0 1339.8 171.0 1341.4 176.0 1343.0 173.0 1344.6 171.0 1346.2 174.0 1347.6 169.0 1349.0 176.0 1350.6 174.0 1352.0 176.0 1353.4 174.0 1355.0 177.0 1356.6 172.0 1358.0 165.0 1359.4 163.0 1361.0 162.0 1362.6 169.0 1364.2 170.0 1366.0 168.0 1367.6 164.0 1369.4 165.0 1371.0 167.0 1372.6 166.0 1374.2 168.0 1375.6 178.0 1377.0 186.0 1378.6 188.0 1380.0 180.0 1381.4 169.0 1382.6 165.0 1384.0 172.0 1385.4 179.0 1387.0 181.0 1388.4 178.0 1389.8 172.0 1391.0 169.0 1392.4 176.0 1394.0 184.0 1395.4 189.0 1397.0 184.0 1398.6 178.0 1400.0 172.0 1401.4 170.0 1402.6 176.0 1404.0 184.0 1405.4 182.0 1407.0 178.0 1408.6 174.0 1410.0 180.0 1411.4 186.0 1412.6 189.0 1414.0 184.0 1415.4 182.0 1417.0 180.0 1418.4 181.0 1419.8 178.0 1421.0 172.0 1422.6 176.0 1424.0 174.0 1425.4 176.0 1427.0 179.0 1428.6 176.0 1430.0 172.0 1431.4 178.0 1433.0 185.0 1434.6 180.0 1436.0 175.0 1437.6 173.0 1439.0 175.0 1440.6 170.0 1442.0 169.0 1443.4 166.0 1445.0 172.0 1446.6 171.0 1448.0 175.0 1449.4 180.0 1451.0 182.0 1452.6 179.0 1454.0 180.0 1455.4 176.0 1456.6 182.0 1457.6 192.0 1458.6 200.0 1459.6 202.0 1461.0 194.0 1462.4 191.0" fill="none" stroke="#ff7f0e" stroke-width="2.1" stroke-linejoin="round"/>
</g>
<path d="M116.50 518.5v4.9M284.50 518.5v4.9M452.50 518.5v4.9M620.50 518.5v4.9M789.50 518.5v4.9M957.50 518.5v4.9M1125.50 518.5v4.9M1294.50 518.5v4.9M116.5 101.50h-4.9M116.5 188.50h-4.9M116.5 276.50h-4.9M116.5 363.50h-4.9M116.5 450.50h-4.9" stroke="#000" stroke-width="1.1" fill="none"/>
<rect x="116.5" y="38.5" width="1346.0" height="480.0" fill="none" stroke="#000" stroke-width="1.1"/>
<text x="105.5" y="109.8" font-size="22.1" text-anchor="end">1</text>
<text x="105.5" y="196.8" font-size="22.1" text-anchor="end">0</text>
<text x="105.5" y="284.8" font-size="22.1" text-anchor="end">−1</text>
<text x="105.5" y="371.8" font-size="22.1" text-anchor="end">−2</text>
<text x="105.5" y="458.8" font-size="22.1" text-anchor="end">−3</text>
<text transform="translate(61.0 279.2) rotate(-90)" font-size="22.1" text-anchor="middle">Doppler Shift [Hz]</text>
<text x="115.5" y="30.0" font-size="26.5">(a)</text>
<rect x="1047.5" y="48.20" width="406.0" height="79.80" rx="3.5" fill="#fff" fill-opacity="0.8" stroke="#ccc" stroke-opacity="0.8" stroke-width="1.4"/>
<circle cx="1073.5" cy="63.40" r="2.8" fill="#1f77b4"/>
<path d="M1053.5 101.80H1092" stroke="#ff7f0e" stroke-width="2.1"/>
<text x="1106.5" y="69.00" font-size="18.5">Raw Data</text>
<text x="1106.5" y="96.30" font-size="18.5">Butterworth Filtered Data</text>
<text x="1106.5" y="116.80" font-size="18.5">(N=6, Tc=3.3333 min, Type: low)</text>
<rect x="161.3" y="575.5" width="710.2" height="479.0" fill="#d3d3d3" fill-opacity="0.5"/>
<path d="M161.3 575.5V1054.5M871.5 575.5V1054.5" stroke="#d3d3d3" stroke-opacity="0.5" stroke-width="1.4" fill="none"/>
<path d="M284.50 575.5V1054.5M452.50 575.5V1054.5M620.50 575.5V1054.5M789.50 575.5V1054.5M957.50 575.5V1054.5M1125.50 575.5V1054.5M1294.50 575.5V1054.5M116.5 585.50H1462.5M116.5 674.50H1462.5M116.5 763.50H1462.5M116.5 852.50H1462.5M116.5 942.50H1462.5M116.5 1031.50H1462.5" stroke="#b0b0b0" stroke-width="1.1" stroke-dasharray="1.1 1.8" fill="none"/>
<g clip-path="url(#cb)">
<path d="M116.5 932.0 117.5 929.4 118.5 924.4 119.5 920.0 120.5 916.3 121.5 913.5 122.5 910.9 123.5 907.1 124.5 897.4 125.5 880.9 126.5 876.7 127.5 873.2 128.5 870.7 129.5 854.4 130.5 844.6 131.5 841.7 132.5 838.5 133.5 835.7 134.5 834.9 135.5 837.6 136.5 841.1 137.5 842.6 138.5 842.3 139.5 850.9 140.5 869.0 141.5 891.5 142.5 892.3 143.5 887.5 144.5 878.7 145.5 868.3 146.5 855.6 147.5 843.8 148.5 843.9 149.5 843.6 150.5 841.6 151.5 840.8 152.5 842.1 153.5 843.8 154.5 851.2 155.5 858.6 156.5 866.2 157.5 871.5 158.5 875.1 159.5 878.0 160.5 880.9 161.5 882.0 162.5 881.7 163.5 887.9 164.5 894.2 165.5 892.0 166.5 882.8 167.5 872.3 168.5 869.2 169.5 868.3 170.5 869.4 171.5 871.0 172.5 872.6 173.5 873.8 174.5 880.1 175.5 900.8 176.5 907.8 177.5 910.9 178.5 907.5 179.5 900.0 180.5 897.1 181.5 897.2 182.5 896.5 183.5 894.8 184.5 894.3 185.5 894.4 186.5 894.6 187.5 897.0 188.5 899.3 189.5 899.0 190.5 896.4 191.5 890.9 192.5 881.3 193.5 873.9 194.5 870.4 195.5 863.4 196.5 850.9 197.5 839.9 198.5 831.8 199.5 822.9 200.5 814.0 201.5 809.1 202.5 807.7 203.5 806.6 204.5 804.8 205.5 803.0 206.5 798.8 207.5 796.7 208.5 799.2 209.5 801.3 210.5 802.1 211.5 801.3 212.5 800.7 213.5 800.2 214.5 799.6 215.5 800.9 216.5 801.9 217.5 800.1 218.5 799.5 219.5 801.3 220.5 797.4 221.5 784.0 222.5 767.9 223.5 750.3 224.5 742.0 225.5 739.5 226.5 740.6 227.5 734.6 228.5 733.0 229.5 740.6 230.5 752.2 231.5 758.9 232.5 764.7 233.5 772.3 234.5 777.1 235.5 782.5 236.5 789.3 237.5 798.3 238.5 809.4 239.5 814.2 240.5 814.6 241.5 816.2 242.5 816.7 243.5 816.2 244.5 812.2 245.5 805.9 246.5 793.3 247.5 792.5 248.5 793.0 249.5 793.6 250.5 794.6 251.5 795.0 252.5 794.9 253.5 798.6 254.5 820.8 255.5 840.8 256.5 852.3 257.5 855.1 258.5 855.9 259.5 851.8 260.5 848.5 261.5 849.5 262.5 848.4 263.5 846.2 264.5 843.3 265.5 843.1 266.5 842.8 267.5 843.6 268.5 843.9 269.5 842.5 270.5 842.1 271.5 843.4 272.5 845.4 273.5 846.9 274.5 849.6 275.5 852.9 276.5 857.1 277.5 861.1 278.5 870.2 279.5 878.4 280.5 886.7 281.5 895.3 282.5 896.0 283.5 895.9 284.5 894.3 285.5 891.0 286.5 887.9 287.5 885.8 288.5 883.8 289.5 880.5 290.5 869.5 291.5 849.6 292.5 837.6 293.5 833.8 294.5 827.7 295.5 820.8 296.5 815.8 297.5 814.8 298.5 816.0 299.5 815.6 300.5 812.7 301.5 809.0 302.5 809.2 303.5 812.5 304.5 816.9 305.5 820.4 306.5 822.1 307.5 821.5 308.5 823.3 309.5 835.3 310.5 853.3 311.5 858.2 312.5 853.8 313.5 855.9 314.5 859.7 315.5 863.7 316.5 869.4 317.5 886.7 318.5 904.1 319.5 941.0 320.5 998.0 321.5 1000.3 322.5 1001.6 323.5 1001.7 324.5 1004.3 325.5 1006.7 326.5 1008.1 327.5 1008.6 328.5 1009.2 329.5 1010.1 330.5 1010.5 331.5 1010.1 332.5 1009.3 333.5 1009.3 334.5 1009.3 335.5 1009.3 336.5 1009.3 337.5 1009.3 338.5 1009.3 339.5 1009.3 340.5 1009.3 341.5 1009.3 342.5 1009.5 343.5 1009.2 344.5 1008.3 345.5 1007.0 346.5 1007.0 347.5 1007.0 348.5 1007.0 349.5 1007.0 350.5 1007.0 351.5 1007.0 352.5 1009.1 353.5 1011.6 354.5 1013.6 355.5 1015.0 356.5 1015.6 357.5 1015.7 358.5 1016.6 359.5 1018.4 360.5 1019.6 361.5 1020.1 362.5 1020.1 363.5 1020.1 364.5 1020.1 365.5 1020.9 366.5 1021.7 367.5 1021.9 368.5 1021.4 369.5 1021.0 370.5 1021.0 371.5 1021.0 372.5 1021.0 373.5 1020.1 374.5 1018.6 375.5 1017.0 376.5 1017.0 377.5 1017.0 378.5 1017.0 379.5 1017.0 380.5 1017.0 381.5 1017.0 382.5 1019.3 383.5 1020.2 384.5 1020.5 385.5 1020.5 386.5 1020.5 387.5 1020.5 388.5 1020.5 389.5 1021.5 390.5 1021.6 391.5 1021.6 392.5 1021.6 393.5 1022.9 394.5 1023.7 395.5 1023.9 396.5 1023.4 397.5 1022.3 398.5 1022.1 399.5 1021.5 400.5 1019.0 401.5 1015.0 402.5 1011.9 403.5 1010.8 404.5 1010.0 405.5 1009.2 406.5 1008.8 407.5 1008.6 408.5 1008.4 409.5 1008.4 410.5 1009.1 411.5 1009.9 412.5 1010.7 413.5 1011.0 414.5 1010.5 415.5 1012.2 416.5 1017.4 417.5 1021.2 418.5 1023.6 419.5 1025.1 420.5 1025.6 421.5 1025.6 422.5 1025.6 423.5 1026.2 424.5 1026.5 425.5 1026.5 426.5 1026.1 427.5 1025.3 428.5 1024.0 429.5 1021.9 430.5 1018.6 431.5 1016.3 432.5 1015.3 433.5 1013.3 434.5 1010.3 435.5 1007.7 436.5 1005.4 437.5 1003.8 438.5 1003.5 439.5 1003.2 440.5 1003.0 441.5 1002.7 442.5 1002.5 443.5 1002.8 444.5 1003.2 445.5 1003.3 446.5 1003.6 447.5 1004.4 448.5 1005.0 449.5 1005.7 450.5 1007.4 451.5 1008.0 452.5 1008.3 453.5 1009.1 454.5 1013.1 455.5 1015.7 456.5 1017.5 457.5 1018.7 458.5 1018.9 459.5 1018.9 460.5 1018.9 461.5 1019.7 462.5 1019.9 463.5 1019.9 464.5 1019.9 465.5 1019.9 466.5 1019.9 467.5 1019.9 468.5 1019.9 469.5 1020.7 470.5 1022.2 471.5 1024.1 472.5 1026.3 473.5 1027.0 474.5 1027.2 475.5 1027.5 476.5 1027.9 477.5 1028.0 478.5 1028.0 479.5 1028.0 480.5 1028.0 481.5 1028.0 482.5 1027.6 483.5 1026.7 484.5 1024.3 485.5 1022.3 486.5 1021.9 487.5 1021.8 488.5 1021.6 489.5 1021.6 490.5 1021.8 491.5 1022.0 492.5 1022.3 493.5 1024.8 494.5 1026.8 495.5 1027.2 496.5 1027.2 497.5 1027.3 498.5 1027.3 499.5 1027.3 500.5 1027.4 501.5 1027.0 502.5 1027.0 503.5 1027.0 504.5 1027.0 505.5 1027.0 506.5 1027.0 507.5 1027.0 508.5 1027.3 509.5 1027.6 510.5 1027.4 511.5 1026.8 512.5 1026.8 513.5 1026.8 514.5 1026.2 515.5 1024.7 516.5 1023.2 517.5 1022.8 518.5 1022.9 519.5 1023.0 520.5 1023.3 521.5 1023.7 522.5 1024.2 523.5 1024.8 524.5 1026.4 525.5 1029.1 526.5 1029.6 527.5 1030.1 528.5 1030.3 529.5 1030.4 530.5 1030.4 531.5 1030.4 532.5 1030.4 533.5 1030.4 534.5 1030.4 535.5 1030.4 536.5 1030.4 537.5 1030.4 538.5 1030.4 539.5 1030.4 540.5 1030.4 541.5 1030.4 542.5 1030.4 543.5 1030.4 544.5 1030.4 545.5 1030.4 546.5 1030.3 547.5 1030.0 548.5 1029.7 549.5 1029.4 550.5 1029.4 551.5 1029.4 552.5 1029.0 553.5 1028.7 554.5 1028.7 555.5 1028.7 556.5 1028.7 557.5 1028.5 558.5 1028.0 559.5 1028.0 560.5 1027.9 561.5 1027.9 562.5 1027.9 563.5 1027.5 564.5 1022.1 565.5 1017.2 566.5 1015.9 567.5 1014.1 568.5 1012.6 569.5 1010.1 570.5 1009.3 571.5 1009.3 572.5 1009.7 573.5 1009.6 574.5 1009.8 575.5 1011.2 576.5 1011.6 577.5 1011.6 578.5 1012.1 579.5 1014.0 580.5 1014.9 581.5 1014.9 582.5 1016.7 583.5 1019.6 584.5 1021.5 585.5 1022.4 586.5 1022.9 587.5 1022.7 588.5 1021.6 589.5 1019.6 590.5 1019.6 591.5 1019.6 592.5 1018.9 593.5 1017.4 594.5 1016.9 595.5 1016.7 596.5 1015.6 597.5 1014.7 598.5 1014.7 599.5 1014.7 600.5 1014.7 601.5 1014.7 602.5 1014.7 603.5 1014.7 604.5 1014.2 605.5 1013.1 606.5 1011.7 607.5 1011.7 608.5 1011.7 609.5 1011.7 610.5 1011.7 611.5 1011.7 612.5 1011.7 613.5 1013.1 614.5 1012.9 615.5 1011.4 616.5 1010.8 617.5 1010.8 618.5 1010.8 619.5 1010.8 620.5 1010.8 621.5 1010.8 622.5 1010.8 623.5 1011.0 624.5 1011.1 625.5 1010.3 626.5 1008.4 627.5 1004.8 628.5 1001.4 629.5 1001.4 630.5 1001.4 631.5 1001.4 632.5 1001.4 633.5 1001.4 634.5 1001.4 635.5 1002.1 636.5 1001.9 637.5 1000.8 638.5 1000.3 639.5 1000.3 640.5 999.3 641.5 993.9 642.5 986.6 643.5 983.6 644.5 982.1 645.5 979.8 646.5 975.8 647.5 972.7 648.5 972.4 649.5 972.6 650.5 972.8 651.5 973.4 652.5 974.5 653.5 976.8 654.5 979.8 655.5 984.3 656.5 986.4 657.5 987.1 658.5 986.9 659.5 982.8 660.5 978.0 661.5 977.6 662.5 977.1 663.5 976.8 664.5 976.7 665.5 977.3 666.5 978.3 667.5 983.3 668.5 988.6 669.5 993.7 670.5 997.5 671.5 1000.0 672.5 1001.6 673.5 1002.5 674.5 1002.5 675.5 1002.5 676.5 1002.5 677.5 1003.0 678.5 1002.5 679.5 1001.2 680.5 998.1 681.5 992.8 682.5 990.2 683.5 990.2 684.5 990.2 685.5 990.2 686.5 990.2 687.5 990.2 688.5 990.2 689.5 990.2 690.5 992.1 691.5 993.1 692.5 993.0 693.5 991.9 694.5 991.9 695.5 991.9 696.5 991.9 697.5 991.9 698.5 991.9 699.5 991.9 700.5 991.3 701.5 990.0 702.5 987.8 703.5 987.8 704.5 987.8 705.5 987.8 706.5 987.8 707.5 987.8 708.5 986.5 709.5 984.8 710.5 983.7 711.5 983.8 712.5 983.6 713.5 983.5 714.5 983.5 715.5 983.7 716.5 983.8 717.5 983.7 718.5 983.6 719.5 985.0 720.5 986.3 721.5 984.3 722.5 978.8 723.5 978.0 724.5 977.2 725.5 977.0 726.5 976.9 727.5 976.5 728.5 976.1 729.5 976.2 730.5 976.8 731.5 977.4 732.5 978.5 733.5 979.8 734.5 980.3 735.5 980.3 736.5 981.2 737.5 982.9 738.5 983.9 739.5 983.9 740.5 984.6 741.5 985.3 742.5 985.9 743.5 986.2 744.5 986.5 745.5 988.9 746.5 991.0 747.5 993.1 748.5 993.7 749.5 995.4 750.5 998.4 751.5 1000.4 752.5 1001.4 753.5 1003.2 754.5 1005.9 755.5 1008.0 756.5 1009.1 757.5 1009.6 758.5 1010.6 759.5 1012.1 760.5 1013.0 761.5 1012.9 762.5 1012.2 763.5 1009.4 764.5 1004.4 765.5 998.4 766.5 992.7 767.5 990.0 768.5 988.9 769.5 989.2 770.5 990.5 771.5 991.5 772.5 993.9 773.5 995.8 774.5 998.1 775.5 1001.5 776.5 1004.6 777.5 1009.1 778.5 1012.4 779.5 1013.9 780.5 1013.9 781.5 1013.9 782.5 1013.9 783.5 1015.0 784.5 1016.7 785.5 1017.5 786.5 1018.2 787.5 1019.1 788.5 1019.5 789.5 1019.5 790.5 1019.5 791.5 1019.5 792.5 1019.5 793.5 1019.5 794.5 1019.5 795.5 1019.5 796.5 1019.1 797.5 1018.2 798.5 1018.1 799.5 1018.1 800.5 1017.8 801.5 1017.8 802.5 1017.8 803.5 1017.8 804.5 1017.8 805.5 1017.8 806.5 1017.8 807.5 1018.5 808.5 1019.5 809.5 1020.9 810.5 1021.7 811.5 1021.9 812.5 1021.9 813.5 1021.9 814.5 1021.9 815.5 1021.9 816.5 1021.9 817.5 1021.7 818.5 1020.9 819.5 1020.9 820.5 1020.9 821.5 1020.9 822.5 1020.9 823.5 1020.7 824.5 1017.8 825.5 1006.8 826.5 996.4 827.5 942.8 828.5 896.8 829.5 891.8 830.5 887.4 831.5 881.2 832.5 874.0 833.5 867.1 834.5 843.4 835.5 825.0 836.5 815.6 837.5 807.3 838.5 798.3 839.5 791.0 840.5 791.4 841.5 798.2 842.5 804.6 843.5 813.3 844.5 822.6 845.5 830.0 846.5 829.9 847.5 837.0 848.5 843.3 849.5 844.8 850.5 846.6 851.5 846.2 852.5 847.2 853.5 849.0 854.5 850.7 855.5 873.7 856.5 913.6 857.5 921.3 858.5 924.1 859.5 927.4 860.5 934.1 861.5 938.9 862.5 943.2 863.5 945.9 864.5 942.9 865.5 934.0 866.5 926.4 867.5 921.2 868.5 915.4 869.5 910.8 870.5 908.4 871.5 905.5 872.5 896.2 873.5 881.0 874.5 881.1 875.5 882.2 876.5 880.8 877.5 878.8 878.5 878.7 879.5 878.2 880.5 878.5 881.5 874.1 882.5 863.0 883.5 860.1 884.5 856.8 885.5 856.2 886.5 857.3 887.5 858.7 888.5 861.8 889.5 870.3 890.5 890.9 891.5 909.5 892.5 929.3 893.5 941.0 894.5 944.3 895.5 944.9 896.5 937.8 897.5 922.7 898.5 913.3 899.5 911.6 900.5 912.1 901.5 912.3 902.5 910.9 903.5 909.0 904.5 909.4 905.5 910.5 906.5 911.3 907.5 911.6 908.5 912.2 909.5 913.4 910.5 917.8 911.5 926.6 912.5 932.6 913.5 932.8 914.5 930.4 915.5 922.3 916.5 909.0 917.5 893.9 918.5 880.9 919.5 879.7 920.5 879.4 921.5 879.9 922.5 881.2 923.5 883.4 924.5 886.8 925.5 908.0 926.5 928.7 927.5 941.0 928.5 945.3 929.5 948.2 930.5 949.0 931.5 949.0 932.5 948.5 933.5 946.9 934.5 944.5 935.5 933.7 936.5 912.1 937.5 897.2 938.5 894.6 939.5 893.3 940.5 891.0 941.5 889.6 942.5 889.6 943.5 889.8 944.5 891.1 945.5 895.6 946.5 905.3 947.5 912.9 948.5 915.6 949.5 919.1 950.5 922.3 951.5 922.5 952.5 926.3 953.5 941.1 954.5 948.5 955.5 947.9 956.5 945.9 957.5 944.0 958.5 940.0 959.5 936.1 960.5 936.1 961.5 936.5 962.5 936.6 963.5 937.6 964.5 938.8 965.5 939.5 966.5 940.3 967.5 939.9 968.5 938.3 969.5 935.3 970.5 931.5 971.5 932.0 972.5 932.4 973.5 933.0 974.5 935.4 975.5 937.6 976.5 938.6 977.5 940.6 978.5 942.9 979.5 943.0 980.5 942.3 981.5 941.8 982.5 941.8 983.5 941.3 984.5 947.3 985.5 950.1 986.5 951.3 987.5 948.8 988.5 948.6 989.5 949.1 990.5 949.1 991.5 948.9 992.5 949.3 993.5 949.9 994.5 955.0 995.5 958.4 996.5 961.1 997.5 963.2 998.5 964.6 999.5 965.3 1000.5 964.6 1001.5 963.3 1002.5 964.0 1003.5 964.3 1004.5 964.7 1005.5 965.3 1006.5 965.6 1007.5 965.9 1008.5 966.4 1009.5 966.5 1010.5 966.2 1011.5 965.4 1012.5 965.3 1013.5 965.4 1014.5 965.5 1015.5 965.4 1016.5 965.2 1017.5 967.9 1018.5 970.3 1019.5 970.7 1020.5 969.1 1021.5 968.9 1022.5 969.0 1023.5 969.2 1024.5 969.8 1025.5 970.6 1026.5 971.3 1027.5 974.7 1028.5 978.0 1029.5 980.8 1030.5 979.9 1031.5 975.6 1032.5 969.9 1033.5 963.6 1034.5 961.2 1035.5 960.4 1036.5 959.8 1037.5 959.4 1038.5 959.2 1039.5 959.5 1040.5 960.1 1041.5 964.7 1042.5 969.2 1043.5 973.6 1044.5 977.5 1045.5 980.3 1046.5 983.3 1047.5 986.6 1048.5 989.0 1049.5 991.1 1050.5 993.1 1051.5 993.7 1052.5 994.5 1053.5 995.7 1054.5 996.0 1055.5 995.3 1056.5 994.8 1057.5 994.5 1058.5 993.2 1059.5 991.0 1060.5 985.3 1061.5 979.9 1062.5 979.9 1063.5 979.9 1064.5 979.9 1065.5 979.9 1066.5 979.9 1067.5 979.9 1068.5 982.7 1069.5 984.1 1070.5 984.2 1071.5 985.9 1072.5 989.6 1073.5 991.9 1074.5 993.4 1075.5 994.4 1076.5 994.4 1077.5 993.4 1078.5 992.7 1079.5 991.7 1080.5 990.0 1081.5 987.3 1082.5 979.7 1083.5 978.6 1084.5 978.2 1085.5 978.0 1086.5 977.5 1087.5 976.8 1088.5 976.8 1089.5 976.9 1090.5 973.9 1091.5 973.3 1092.5 971.9 1093.5 970.6 1094.5 970.4 1095.5 971.5 1096.5 972.9 1097.5 974.3 1098.5 974.5 1099.5 978.3 1100.5 981.4 1101.5 983.6 1102.5 985.1 1103.5 985.6 1104.5 986.4 1105.5 987.4 1106.5 987.4 1107.5 987.9 1108.5 988.8 1109.5 991.3 1110.5 993.0 1111.5 995.7 1112.5 999.1 1113.5 1001.0 1114.5 1001.0 1115.5 1001.0 1116.5 1001.0 1117.5 1001.0 1118.5 1001.0 1119.5 1001.0 1120.5 1001.0 1121.5 999.1 1122.5 995.7 1123.5 995.7 1124.5 995.7 1125.5 995.7 1126.5 995.7 1127.5 995.7 1128.5 995.7 1129.5 997.0 1130.5 1003.1 1131.5 1007.7 1132.5 1010.7 1133.5 1012.1 1134.5 1012.0 1135.5 1011.8 1136.5 1011.6 1137.5 1010.3 1138.5 1010.3 1139.5 1010.3 1140.5 1010.3 1141.5 1010.3 1142.5 1010.3 1143.5 1010.3 1144.5 1010.3 1145.5 1010.3 1146.5 1010.3 1147.5 1011.1 1148.5 1013.0 1149.5 1015.3 1150.5 1017.0 1151.5 1017.7 1152.5 1017.8 1153.5 1018.4 1154.5 1019.4 1155.5 1019.4 1156.5 1018.4 1157.5 1016.4 1158.5 1013.1 1159.5 1008.4 1160.5 1005.0 1161.5 1003.1 1162.5 1000.7 1163.5 1000.1 1164.5 1000.4 1165.5 1000.9 1166.5 1001.6 1167.5 1003.0 1168.5 1003.7 1169.5 1004.6 1170.5 1005.5 1171.5 1006.3 1172.5 1007.4 1173.5 1009.1 1174.5 1011.6 1175.5 1013.1 1176.5 1013.6 1177.5 1014.4 1178.5 1015.4 1179.5 1015.4 1180.5 1014.4 1181.5 1013.1 1182.5 1013.1 1183.5 1013.1 1184.5 1013.1 1185.5 1013.1 1186.5 1013.1 1187.5 1013.1 1188.5 1014.1 1189.5 1014.6 1190.5 1014.1 1191.5 1012.6 1192.5 1011.9 1193.5 1011.9 1194.5 1010.9 1195.5 1008.9 1196.5 1008.6 1197.5 1008.6 1198.5 1008.1 1199.5 1006.6 1200.5 1003.7 1201.5 999.1 1202.5 995.8 1203.5 995.0 1204.5 994.5 1205.5 994.0 1206.5 993.0 1207.5 993.0 1208.5 993.0 1209.5 997.1 1210.5 1000.4 1211.5 1002.6 1212.5 1004.1 1213.5 1004.6 1214.5 1004.6 1215.5 1004.8 1216.5 1006.7 1217.5 1008.0 1218.5 1008.3 1219.5 1008.2 1220.5 1008.2 1221.5 1008.2 1222.5 1007.5 1223.5 1005.8 1224.5 1005.0 1225.5 1005.0 1226.5 1004.5 1227.5 1003.0 1228.5 1002.3 1229.5 1002.3 1230.5 1002.3 1231.5 1002.3 1232.5 1002.3 1233.5 1002.3 1234.5 1002.3 1235.5 1002.3 1236.5 1002.3 1237.5 1002.3 1238.5 1003.1 1239.5 1002.3 1240.5 999.0 1241.5 999.0 1242.5 999.0 1243.5 999.0 1244.5 999.0 1245.5 999.0 1246.5 999.0 1247.5 1002.8 1248.5 1004.7 1249.5 1006.0 1250.5 1006.3 1251.5 1006.0 1252.5 1005.8 1253.5 1005.7 1254.5 1005.0 1255.5 1003.3 1256.5 1001.0 1257.5 998.7 1258.5 996.1 1259.5 992.0 1260.5 989.9 1261.5 989.6 1262.5 987.9 1263.5 986.0 1264.5 985.4 1265.5 985.5 1266.5 985.7 1267.5 986.0 1268.5 986.3 1269.5 986.4 1270.5 986.5 1271.5 985.8 1272.5 984.8 1273.5 983.9 1274.5 983.2 1275.5 982.7 1276.5 982.2 1277.5 982.0 1278.5 981.8 1279.5 981.9 1280.5 982.4 1281.5 982.4 1282.5 985.4 1283.5 988.0 1284.5 991.4 1285.5 994.1 1286.5 995.4 1287.5 994.0 1288.5 990.2 1289.5 986.8 1290.5 985.8 1291.5 984.9 1292.5 984.0 1293.5 983.0 1294.5 981.4 1295.5 979.7 1296.5 977.1 1297.5 976.3 1298.5 975.2 1299.5 973.5 1300.5 971.8 1301.5 969.5 1302.5 966.0 1303.5 961.7 1304.5 957.0 1305.5 955.6 1306.5 955.3 1307.5 955.3 1308.5 955.5 1309.5 955.9 1310.5 956.0 1311.5 955.8 1312.5 953.2 1313.5 949.4 1314.5 948.3 1315.5 948.6 1316.5 946.6 1317.5 946.3 1318.5 946.2 1319.5 947.0 1320.5 947.8 1321.5 953.1 1322.5 957.7 1323.5 961.6 1324.5 962.4 1325.5 961.0 1326.5 961.8 1327.5 961.9 1328.5 961.1 1329.5 959.8 1330.5 957.8 1331.5 952.5 1332.5 946.5 1333.5 941.3 1334.5 934.3 1335.5 932.5 1336.5 931.9 1337.5 932.5 1338.5 934.0 1339.5 939.2 1340.5 942.5 1341.5 942.6 1342.5 941.7 1343.5 945.3 1344.5 946.7 1345.5 949.2 1346.5 949.4 1347.5 948.1 1348.5 952.2 1349.5 959.9 1350.5 963.1 1351.5 965.9 1352.5 966.9 1353.5 965.9 1354.5 963.6 1355.5 963.1 1356.5 963.5 1357.5 963.4 1358.5 963.7 1359.5 964.5 1360.5 965.8 1361.5 966.6 1362.5 967.2 1363.5 968.4 1364.5 971.9 1365.5 974.2 1366.5 975.9 1367.5 975.8 1368.5 975.3 1369.5 975.1 1370.5 975.6 1371.5 976.4 1372.5 977.5 1373.5 980.2 1374.5 982.6 1375.5 984.6 1376.5 985.9 1377.5 984.1 1378.5 979.3 1379.5 973.4 1380.5 969.0 1381.5 966.1 1382.5 962.3 1383.5 958.1 1384.5 954.2 1385.5 953.4 1386.5 952.8 1387.5 952.0 1388.5 951.5 1389.5 951.7 1390.5 952.4 1391.5 953.4 1392.5 956.4 1393.5 958.3 1394.5 957.7 1395.5 954.5 1396.5 950.1 1397.5 944.1 1398.5 937.8 1399.5 935.4 1400.5 930.5 1401.5 928.1 1402.5 927.6 1403.5 927.8 1404.5 928.5 1405.5 929.5 1406.5 934.4 1407.5 939.0 1408.5 940.8 1409.5 940.6 1410.5 940.2 1411.5 934.5 1412.5 921.9 1413.5 909.6 1414.5 897.8 1415.5 892.6 1416.5 890.5 1417.5 889.4 1418.5 889.7 1419.5 890.9 1420.5 891.8 1421.5 894.1 1422.5 904.9 1423.5 915.0 1424.5 925.4 1425.5 936.7 1426.5 940.2 1427.5 936.0 1428.5 931.5 1429.5 930.9 1430.5 929.8 1431.5 929.3 1432.5 929.1 1433.5 929.0 1434.5 929.2 1435.5 930.5 1436.5 930.5 1437.5 929.8 1438.5 928.7 1439.5 927.5 1440.5 924.6 1441.5 923.3 1442.5 921.8 1443.5 920.2 1444.5 918.3 1445.5 916.8 1446.5 915.6 1447.5 914.7 1448.5 913.8 1449.5 913.6 1450.5 914.6 1451.5 915.2 1452.5 912.7 1453.5 907.7 1454.5 902.7 1455.5 898.8 1456.5 896.9 1457.5 894.6 1458.5 891.8 1459.5 890.4 1460.5 889.2 1461.5 888.8 1462.5 889.2 L1462.5 997.4 1461.5 998.2 1460.5 999.0 1459.5 999.9 1458.5 1000.8 1457.5 1001.8 1456.5 1002.8 1455.5 1003.8 1454.5 1004.9 1453.5 1006.0 1452.5 1007.2 1451.5 1008.4 1450.5 1009.0 1449.5 1009.0 1448.5 1009.0 1447.5 1009.0 1446.5 1009.0 1445.5 1009.0 1444.5 1009.0 1443.5 1008.5 1442.5 1008.3 1441.5 1008.3 1440.5 1008.3 1439.5 1008.3 1438.5 1008.3 1437.5 1008.3 1436.5 1008.3 1435.5 1008.3 1434.5 1008.3 1433.5 1008.3 1432.5 1008.3 1431.5 1008.3 1430.5 1009.0 1429.5 1010.3 1428.5 1011.6 1427.5 1013.0 1426.5 1013.3 1425.5 1013.3 1424.5 1013.3 1423.5 1013.3 1422.5 1013.3 1421.5 1006.5 1420.5 1001.2 1419.5 998.4 1418.5 995.7 1417.5 994.8 1416.5 997.0 1415.5 1001.5 1414.5 1007.1 1413.5 1013.0 1412.5 1013.7 1411.5 1014.4 1410.5 1015.2 1409.5 1015.6 1408.5 1015.6 1407.5 1015.6 1406.5 1015.6 1405.5 1015.6 1404.5 1015.6 1403.5 1015.6 1402.5 1015.5 1401.5 1015.4 1400.5 1015.4 1399.5 1015.5 1398.5 1015.6 1397.5 1015.7 1396.5 1015.9 1395.5 1016.0 1394.5 1016.1 1393.5 1016.2 1392.5 1016.4 1391.5 1016.7 1390.5 1016.9 1389.5 1017.2 1388.5 1017.4 1387.5 1017.7 1386.5 1017.9 1385.5 1018.2 1384.5 1018.5 1383.5 1019.0 1382.5 1019.5 1381.5 1020.0 1380.5 1020.5 1379.5 1021.0 1378.5 1021.5 1377.5 1022.0 1376.5 1022.4 1375.5 1022.5 1374.5 1022.6 1373.5 1022.7 1372.5 1022.7 1371.5 1022.7 1370.5 1022.7 1369.5 1022.7 1368.5 1022.7 1367.5 1022.7 1366.5 1022.4 1365.5 1022.0 1364.5 1021.6 1363.5 1021.2 1362.5 1020.9 1361.5 1020.5 1360.5 1019.8 1359.5 1018.8 1358.5 1017.8 1357.5 1016.8 1356.5 1015.8 1355.5 1014.8 1354.5 1014.5 1353.5 1015.0 1352.5 1015.5 1351.5 1016.0 1350.5 1016.5 1349.5 1017.0 1348.5 1017.4 1347.5 1017.5 1346.5 1017.5 1345.5 1017.5 1344.5 1017.5 1343.5 1017.5 1342.5 1017.5 1341.5 1017.5 1340.5 1016.5 1339.5 1015.3 1338.5 1014.1 1337.5 1012.9 1336.5 1012.9 1335.5 1014.2 1334.5 1015.5 1333.5 1016.8 1332.5 1018.1 1331.5 1019.4 1330.5 1020.7 1329.5 1020.8 1328.5 1020.8 1327.5 1020.8 1326.5 1020.8 1325.5 1020.8 1324.5 1020.8 1323.5 1020.8 1322.5 1019.8 1321.5 1018.8 1320.5 1017.8 1319.5 1016.8 1318.5 1016.8 1317.5 1017.8 1316.5 1017.8 1315.5 1017.8 1314.5 1017.8 1313.5 1017.8 1312.5 1017.8 1311.5 1017.8 1310.5 1017.8 1309.5 1016.8 1308.5 1016.5 1307.5 1016.9 1306.5 1017.2 1305.5 1017.6 1304.5 1018.0 1303.5 1018.4 1302.5 1018.7 1301.5 1019.1 1300.5 1019.3 1299.5 1019.5 1298.5 1019.5 1297.5 1019.6 1296.5 1019.8 1295.5 1019.8 1294.5 1020.0 1293.5 1020.0 1292.5 1020.1 1291.5 1020.2 1290.5 1020.4 1289.5 1020.5 1288.5 1020.6 1287.5 1020.7 1286.5 1020.9 1285.5 1021.0 1284.5 1021.1 1283.5 1021.2 1282.5 1021.4 1281.5 1021.5 1280.5 1021.6 1279.5 1021.7 1278.5 1021.8 1277.5 1021.9 1276.5 1021.9 1275.5 1021.9 1274.5 1021.9 1273.5 1021.9 1272.5 1021.9 1271.5 1021.9 1270.5 1021.9 1269.5 1021.7 1268.5 1021.6 1267.5 1021.5 1266.5 1021.4 1265.5 1021.5 1264.5 1021.9 1263.5 1022.2 1262.5 1022.6 1261.5 1023.0 1260.5 1023.4 1259.5 1023.7 1258.5 1023.7 1257.5 1023.7 1256.5 1023.7 1255.5 1023.7 1254.5 1023.7 1253.5 1023.7 1252.5 1023.6 1251.5 1023.5 1250.5 1023.4 1249.5 1023.3 1248.5 1023.3 1247.5 1023.3 1246.5 1023.3 1245.5 1023.3 1244.5 1023.3 1243.5 1023.3 1242.5 1023.3 1241.5 1023.3 1240.5 1023.3 1239.5 1023.3 1238.5 1023.3 1237.5 1023.3 1236.5 1023.3 1235.5 1023.3 1234.5 1023.3 1233.5 1023.3 1232.5 1023.3 1231.5 1023.4 1230.5 1023.6 1229.5 1023.9 1228.5 1024.1 1227.5 1024.3 1226.5 1024.5 1225.5 1024.7 1224.5 1024.7 1223.5 1024.7 1222.5 1024.7 1221.5 1024.7 1220.5 1024.7 1219.5 1024.7 1218.5 1024.6 1217.5 1024.5 1216.5 1024.3 1215.5 1024.1 1214.5 1024.0 1213.5 1023.8 1212.5 1023.7 1211.5 1023.5 1210.5 1023.4 1209.5 1023.3 1208.5 1023.5 1207.5 1023.5 1206.5 1023.6 1205.5 1023.8 1204.5 1023.8 1203.5 1024.0 1202.5 1024.0 1201.5 1024.0 1200.5 1024.0 1199.5 1024.0 1198.5 1024.0 1197.5 1024.0 1196.5 1024.0 1195.5 1023.8 1194.5 1023.8 1193.5 1023.6 1192.5 1023.5 1191.5 1023.5 1190.5 1023.3 1189.5 1023.3 1188.5 1023.5 1187.5 1023.5 1186.5 1023.6 1185.5 1023.8 1184.5 1023.8 1183.5 1024.0 1182.5 1024.0 1181.5 1024.1 1180.5 1024.2 1179.5 1024.3 1178.5 1024.3 1177.5 1024.3 1176.5 1024.3 1175.5 1024.3 1174.5 1024.3 1173.5 1024.3 1172.5 1024.3 1171.5 1024.3 1170.5 1024.3 1169.5 1024.2 1168.5 1024.0 1167.5 1023.8 1166.5 1023.6 1165.5 1023.4 1164.5 1023.2 1163.5 1023.0 1162.5 1022.8 1161.5 1022.6 1160.5 1022.4 1159.5 1022.4 1158.5 1022.7 1157.5 1022.9 1156.5 1023.2 1155.5 1023.4 1154.5 1023.7 1153.5 1023.9 1152.5 1024.2 1151.5 1024.3 1150.5 1024.3 1149.5 1024.3 1148.5 1024.3 1147.5 1024.3 1146.5 1024.3 1145.5 1024.3 1144.5 1024.3 1143.5 1024.3 1142.5 1024.3 1141.5 1024.3 1140.5 1024.3 1139.5 1024.3 1138.5 1024.3 1137.5 1024.3 1136.5 1024.3 1135.5 1024.3 1134.5 1024.3 1133.5 1024.3 1132.5 1024.3 1131.5 1024.3 1130.5 1024.3 1129.5 1024.2 1128.5 1024.1 1127.5 1024.0 1126.5 1024.0 1125.5 1023.8 1124.5 1023.8 1123.5 1023.6 1122.5 1023.5 1121.5 1023.5 1120.5 1023.3 1119.5 1023.2 1118.5 1023.1 1117.5 1023.0 1116.5 1023.0 1115.5 1022.8 1114.5 1022.8 1113.5 1022.6 1112.5 1022.5 1111.5 1022.5 1110.5 1022.3 1109.5 1022.4 1108.5 1022.5 1107.5 1022.6 1106.5 1022.7 1105.5 1022.7 1104.5 1022.7 1103.5 1022.7 1102.5 1022.7 1101.5 1022.7 1100.5 1022.7 1099.5 1022.4 1098.5 1022.0 1097.5 1021.6 1096.5 1021.2 1095.5 1020.9 1094.5 1020.5 1093.5 1020.2 1092.5 1020.1 1091.5 1020.0 1090.5 1019.9 1089.5 1019.7 1088.5 1019.6 1087.5 1019.5 1086.5 1019.4 1085.5 1019.5 1084.5 1019.9 1083.5 1020.2 1082.5 1020.6 1081.5 1021.0 1080.5 1021.0 1079.5 1021.0 1078.5 1021.0 1077.5 1021.0 1076.5 1021.0 1075.5 1021.0 1074.5 1020.5 1073.5 1020.0 1072.5 1019.5 1071.5 1019.0 1070.5 1018.5 1069.5 1018.2 1068.5 1018.0 1067.5 1017.9 1066.5 1017.7 1065.5 1017.5 1064.5 1017.4 1063.5 1017.5 1062.5 1017.9 1061.5 1018.2 1060.5 1018.6 1059.5 1019.0 1058.5 1019.4 1057.5 1019.7 1056.5 1020.1 1055.5 1020.4 1054.5 1020.7 1053.5 1020.9 1052.5 1021.2 1051.5 1021.2 1050.5 1021.2 1049.5 1021.2 1048.5 1021.2 1047.5 1021.2 1046.5 1021.2 1045.5 1021.0 1044.5 1020.5 1043.5 1020.0 1042.5 1019.5 1041.5 1019.0 1040.5 1018.5 1039.5 1018.5 1038.5 1018.9 1037.5 1019.3 1036.5 1019.7 1035.5 1020.1 1034.5 1020.1 1033.5 1020.1 1032.5 1020.1 1031.5 1020.1 1030.5 1020.1 1029.5 1020.1 1028.5 1020.1 1027.5 1019.8 1026.5 1019.5 1025.5 1018.9 1024.5 1018.0 1023.5 1017.2 1022.5 1016.4 1021.5 1015.5 1020.5 1014.7 1019.5 1014.5 1018.5 1014.8 1017.5 1015.1 1016.5 1015.5 1015.5 1015.8 1014.5 1016.1 1013.5 1016.5 1012.5 1016.9 1011.5 1017.2 1010.5 1017.6 1009.5 1017.6 1008.5 1017.6 1007.5 1017.6 1006.5 1017.6 1005.5 1017.6 1004.5 1017.6 1003.5 1017.6 1002.5 1017.0 1001.5 1016.3 1000.5 1015.6 999.5 1015.4 998.5 1015.5 997.5 1015.6 996.5 1015.6 995.5 1015.6 994.5 1015.6 993.5 1015.6 992.5 1015.6 991.5 1015.6 990.5 1014.8 989.5 1013.8 988.5 1012.8 987.5 1011.8 986.5 1010.8 985.5 1010.5 984.5 1011.0 983.5 1011.7 982.5 1012.5 981.5 1013.4 980.5 1014.0 979.5 1014.0 978.5 1014.0 977.5 1014.0 976.5 1014.0 975.5 1014.0 974.5 1014.0 973.5 1013.3 972.5 1012.6 971.5 1012.7 970.5 1013.5 969.5 1013.5 968.5 1013.5 967.5 1013.5 966.5 1013.5 965.5 1013.5 964.5 1013.5 963.5 1012.8 962.5 1012.1 961.5 1011.7 960.5 1011.3 959.5 1010.9 958.5 1010.5 957.5 1010.7 956.5 1011.2 955.5 1011.2 954.5 1011.2 953.5 1011.2 952.5 1011.2 951.5 1011.2 950.5 1011.2 949.5 1008.4 948.5 1005.7 947.5 1002.6 946.5 999.3 945.5 996.0 944.5 995.3 943.5 997.3 942.5 999.3 941.5 999.6 940.5 1003.0 939.5 1005.4 938.5 1007.6 937.5 1009.8 936.5 1012.0 935.5 1014.2 934.5 1015.7 933.5 1016.5 932.5 1016.5 931.5 1016.5 930.5 1016.5 929.5 1016.5 928.5 1016.5 927.5 1016.5 926.5 1015.5 925.5 1014.0 924.5 1012.5 923.5 1011.0 922.5 1010.1 921.5 1009.7 920.5 1009.3 919.5 1008.9 918.5 1008.5 917.5 1007.0 916.5 1004.5 915.5 1002.0 914.5 999.5 913.5 1000.6 912.5 1005.3 911.5 1010.0 910.5 1013.3 909.5 1015.3 908.5 1015.9 907.5 1015.9 906.5 1015.9 905.5 1015.9 904.5 1015.9 903.5 1015.9 902.5 1015.9 901.5 1015.1 900.5 1014.3 899.5 1013.5 898.5 1012.7 897.5 1012.1 896.5 1011.8 895.5 1011.5 894.5 1011.1 893.5 1010.8 892.5 1010.5 891.5 1010.0 890.5 1009.5 889.5 1009.0 888.5 1008.5 887.5 1002.5 886.5 999.4 885.5 997.1 884.5 998.4 883.5 1005.7 882.5 1011.7 881.5 1011.9 880.5 1012.2 879.5 1012.7 878.5 1013.5 877.5 1014.3 876.5 1015.1 875.5 1015.9 874.5 1017.0 873.5 1018.5 872.5 1020.0 871.5 1021.5 870.5 1021.5 869.5 1021.5 868.5 1021.5 867.5 1021.5 866.5 1021.5 865.5 1021.5 864.5 1021.5 863.5 1021.0 862.5 1020.5 861.5 1019.5 860.5 1018.0 859.5 1016.5 858.5 1015.0 857.5 1013.5 856.5 1012.0 855.5 1010.5 854.5 1009.0 853.5 1007.0 852.5 1004.3 851.5 1001.6 850.5 1002.3 849.5 1002.3 848.5 1002.3 847.5 1002.3 846.5 1002.3 845.5 1002.3 844.5 1002.3 843.5 1000.3 842.5 997.5 841.5 995.4 840.5 988.7 839.5 988.2 838.5 993.0 837.5 994.3 836.5 995.6 835.5 998.6 834.5 1003.3 833.5 1008.0 832.5 1011.5 831.5 1013.8 830.5 1016.1 829.5 1018.8 828.5 1021.8 827.5 1024.8 826.5 1025.6 825.5 1025.6 824.5 1025.6 823.5 1025.6 822.5 1025.6 821.5 1025.6 820.5 1025.6 819.5 1025.5 818.5 1025.4 817.5 1025.3 816.5 1025.3 815.5 1025.3 814.5 1025.3 813.5 1025.3 812.5 1025.3 811.5 1025.3 810.5 1025.3 809.5 1025.3 808.5 1025.3 807.5 1025.3 806.5 1025.3 805.5 1025.3 804.5 1025.4 803.5 1025.5 802.5 1025.6 801.5 1025.7 800.5 1025.8 799.5 1025.9 798.5 1025.9 797.5 1025.9 796.5 1025.9 795.5 1025.9 794.5 1025.9 793.5 1025.9 792.5 1025.8 791.5 1025.7 790.5 1025.5 789.5 1025.3 788.5 1025.1 787.5 1024.9 786.5 1024.8 785.5 1024.6 784.5 1024.4 783.5 1024.2 782.5 1024.1 781.5 1024.0 780.5 1024.0 779.5 1023.8 778.5 1023.8 777.5 1023.6 776.5 1023.5 775.5 1023.5 774.5 1022.7 773.5 1020.9 772.5 1019.7 771.5 1018.6 770.5 1017.9 769.5 1018.0 768.5 1018.8 767.5 1020.8 766.5 1024.6 765.5 1024.6 764.5 1024.6 763.5 1024.6 762.5 1024.6 761.5 1024.6 760.5 1024.5 759.5 1024.3 758.5 1024.1 757.5 1023.9 756.5 1023.7 755.5 1023.5 754.5 1023.3 753.5 1023.0 752.5 1022.8 751.5 1022.6 750.5 1022.4 749.5 1022.3 748.5 1022.5 747.5 1022.5 746.5 1022.6 745.5 1022.8 744.5 1022.8 743.5 1022.8 742.5 1022.8 741.5 1022.8 740.5 1022.8 739.5 1022.8 738.5 1022.8 737.5 1022.5 736.5 1022.2 735.5 1022.0 734.5 1021.6 733.5 1021.3 732.5 1021.0 731.5 1020.8 730.5 1020.5 729.5 1020.3 728.5 1020.5 727.5 1020.5 726.5 1020.6 725.5 1020.8 724.5 1020.8 723.5 1021.0 722.5 1021.0 721.5 1021.1 720.5 1021.2 719.5 1021.5 718.5 1022.0 717.5 1022.5 716.5 1023.0 715.5 1023.5 714.5 1024.0 713.5 1024.0 712.5 1024.0 711.5 1024.0 710.5 1024.0 709.5 1024.0 708.5 1024.0 707.5 1023.8 706.5 1023.5 705.5 1023.1 704.5 1022.8 703.5 1022.5 702.5 1022.1 701.5 1021.8 700.5 1021.5 699.5 1021.4 698.5 1021.5 697.5 1021.7 696.5 1021.9 695.5 1022.0 694.5 1022.2 693.5 1022.5 692.5 1022.8 691.5 1023.1 690.5 1023.4 689.5 1023.7 688.5 1023.7 687.5 1023.7 686.5 1023.7 685.5 1023.7 684.5 1023.7 683.5 1023.7 682.5 1023.6 681.5 1023.4 680.5 1023.3 679.5 1023.2 678.5 1023.1 677.5 1023.0 676.5 1022.9 675.5 1022.8 674.5 1022.7 673.5 1022.6 672.5 1022.5 671.5 1022.4 670.5 1022.3 669.5 1022.3 668.5 1022.4 667.5 1022.5 666.5 1022.7 665.5 1022.8 664.5 1022.9 663.5 1023.0 662.5 1023.2 661.5 1023.4 660.5 1023.8 659.5 1023.8 658.5 1023.8 657.5 1023.8 656.5 1023.8 655.5 1023.8 654.5 1023.8 653.5 1023.8 652.5 1023.4 651.5 1022.9 650.5 1022.5 649.5 1022.3 648.5 1022.4 647.5 1022.5 646.5 1022.6 645.5 1022.7 644.5 1022.8 643.5 1022.9 642.5 1023.0 641.5 1023.1 640.5 1023.2 639.5 1023.3 638.5 1023.5 637.5 1023.7 636.5 1023.9 635.5 1024.1 634.5 1024.3 633.5 1024.5 632.5 1024.7 631.5 1024.9 630.5 1025.1 629.5 1025.3 628.5 1025.4 627.5 1025.5 626.5 1025.6 625.5 1025.7 624.5 1025.8 623.5 1025.9 622.5 1026.0 621.5 1026.1 620.5 1026.2 619.5 1026.3 618.5 1026.3 617.5 1026.4 616.5 1026.4 615.5 1026.5 614.5 1026.6 613.5 1026.6 612.5 1026.7 611.5 1026.7 610.5 1026.8 609.5 1026.8 608.5 1026.8 607.5 1026.8 606.5 1026.8 605.5 1026.8 604.5 1026.8 603.5 1026.8 602.5 1026.8 601.5 1026.8 600.5 1026.8 599.5 1026.8 598.5 1026.8 597.5 1026.8 596.5 1026.8 595.5 1026.8 594.5 1026.8 593.5 1026.8 592.5 1026.8 591.5 1026.8 590.5 1026.8 589.5 1026.8 588.5 1026.8 587.5 1026.7 586.5 1026.6 585.5 1026.6 584.5 1026.5 583.5 1026.5 582.5 1026.4 581.5 1026.3 580.5 1026.3 579.5 1026.2 578.5 1026.2 577.5 1026.2 576.5 1026.2 575.5 1026.2 574.5 1026.2 573.5 1026.2 572.5 1026.2 571.5 1026.0 570.5 1025.4 569.5 1025.7 568.5 1026.4 567.5 1026.6 566.5 1026.8 565.5 1027.0 564.5 1027.1 563.5 1027.5 562.5 1027.9 561.5 1027.9 560.5 1027.9 559.5 1028.0 558.5 1028.0 557.5 1028.5 556.5 1028.7 555.5 1028.7 554.5 1028.7 553.5 1028.7 552.5 1029.0 551.5 1029.4 550.5 1029.4 549.5 1029.4 548.5 1029.7 547.5 1030.0 546.5 1030.3 545.5 1030.4 544.5 1030.4 543.5 1030.4 542.5 1030.4 541.5 1030.4 540.5 1030.4 539.5 1030.4 538.5 1030.4 537.5 1030.4 536.5 1030.4 535.5 1030.4 534.5 1030.4 533.5 1030.4 532.5 1030.4 531.5 1030.4 530.5 1030.4 529.5 1030.4 528.5 1030.3 527.5 1030.1 526.5 1029.6 525.5 1029.1 524.5 1027.4 523.5 1027.3 522.5 1027.2 521.5 1027.0 520.5 1026.9 519.5 1026.9 518.5 1026.9 517.5 1026.9 516.5 1027.0 515.5 1027.0 514.5 1027.1 513.5 1027.1 512.5 1027.1 511.5 1027.2 510.5 1027.4 509.5 1027.6 508.5 1027.3 507.5 1027.2 506.5 1027.2 505.5 1027.2 504.5 1027.2 503.5 1027.2 502.5 1027.2 501.5 1027.2 500.5 1027.4 499.5 1027.3 498.5 1027.3 497.5 1027.3 496.5 1027.2 495.5 1027.2 494.5 1027.0 493.5 1027.0 492.5 1026.9 491.5 1026.9 490.5 1026.9 489.5 1026.9 488.5 1026.9 487.5 1026.9 486.5 1027.0 485.5 1027.0 484.5 1027.1 483.5 1027.1 482.5 1027.6 481.5 1028.0 480.5 1028.0 479.5 1028.0 478.5 1028.0 477.5 1028.0 476.5 1027.9 475.5 1027.5 474.5 1027.2 473.5 1027.0 472.5 1026.5 471.5 1026.4 470.5 1026.3 469.5 1026.2 468.5 1026.1 467.5 1026.0 466.5 1025.9 465.5 1025.8 464.5 1025.7 463.5 1025.6 462.5 1025.5 461.5 1025.4 460.5 1025.3 459.5 1025.2 458.5 1025.1 457.5 1025.0 456.5 1024.9 455.5 1024.8 454.5 1024.7 453.5 1024.6 452.5 1024.5 451.5 1024.4 450.5 1024.3 449.5 1024.2 448.5 1024.2 447.5 1024.2 446.5 1024.0 445.5 1023.7 444.5 1023.6 443.5 1023.2 442.5 1022.9 441.5 1023.1 440.5 1023.4 439.5 1023.6 438.5 1024.0 437.5 1024.5 436.5 1024.6 435.5 1024.7 434.5 1024.8 433.5 1024.9 432.5 1025.0 431.5 1025.1 430.5 1025.2 429.5 1025.3 428.5 1025.4 427.5 1025.5 426.5 1026.1 425.5 1026.5 424.5 1026.5 423.5 1026.2 422.5 1025.8 421.5 1025.8 420.5 1025.8 419.5 1025.8 418.5 1025.8 417.5 1025.6 416.5 1025.4 415.5 1025.1 414.5 1024.9 413.5 1024.6 412.5 1023.9 411.5 1023.1 410.5 1022.3 409.5 1021.6 408.5 1021.3 407.5 1021.5 406.5 1021.7 405.5 1022.5 404.5 1023.2 403.5 1023.2 402.5 1023.2 401.5 1023.2 400.5 1023.2 399.5 1023.3 398.5 1023.5 397.5 1023.8 396.5 1024.0 395.5 1024.2 394.5 1024.4 393.5 1024.6 392.5 1024.8 391.5 1025.0 390.5 1025.2 389.5 1025.3 388.5 1025.3 387.5 1025.3 386.5 1025.3 385.5 1025.3 384.5 1025.3 383.5 1025.3 382.5 1025.3 381.5 1025.3 380.5 1025.3 379.5 1025.3 378.5 1025.3 377.5 1025.3 376.5 1025.3 375.5 1025.3 374.5 1025.3 373.5 1025.3 372.5 1025.3 371.5 1025.3 370.5 1025.3 369.5 1025.2 368.5 1025.1 367.5 1025.0 366.5 1025.0 365.5 1024.8 364.5 1024.8 363.5 1024.6 362.5 1024.5 361.5 1024.5 360.5 1024.3 359.5 1024.2 358.5 1024.0 357.5 1023.8 356.5 1023.6 355.5 1023.4 354.5 1023.2 353.5 1023.0 352.5 1022.8 351.5 1022.6 350.5 1022.4 349.5 1022.3 348.5 1022.3 347.5 1022.3 346.5 1022.3 345.5 1022.3 344.5 1022.3 343.5 1022.3 342.5 1022.3 341.5 1022.3 340.5 1022.3 339.5 1022.2 338.5 1022.1 337.5 1022.0 336.5 1021.9 335.5 1021.7 334.5 1021.6 333.5 1021.5 332.5 1021.4 331.5 1021.4 330.5 1021.7 329.5 1022.0 328.5 1022.3 327.5 1022.6 326.5 1022.6 325.5 1022.6 324.5 1022.6 323.5 1022.6 322.5 1022.6 321.5 1022.6 320.5 1022.4 319.5 1021.6 318.5 1020.3 317.5 1019.0 316.5 1012.0 315.5 999.3 314.5 986.6 313.5 979.5 312.5 977.8 311.5 976.1 310.5 974.5 309.5 972.8 308.5 971.1 307.5 971.9 306.5 975.1 305.5 976.3 304.5 976.3 303.5 974.0 302.5 966.8 301.5 966.3 300.5 976.3 299.5 976.3 298.5 973.4 297.5 970.6 296.5 967.7 295.5 968.5 294.5 972.8 293.5 977.1 292.5 981.5 291.5 985.8 290.5 990.1 289.5 995.0 288.5 1000.3 287.5 1005.6 286.5 1008.9 285.5 1010.1 284.5 1011.3 283.5 1011.3 282.5 1011.3 281.5 1011.3 280.5 1011.3 279.5 1011.3 278.5 1011.3 277.5 1010.9 276.5 1010.2 275.5 1009.4 274.5 1008.7 273.5 1008.5 272.5 1008.8 271.5 1009.1 270.5 1009.1 269.5 1009.1 268.5 1009.1 267.5 1009.1 266.5 1009.1 265.5 1009.1 264.5 1009.1 263.5 1008.8 262.5 1008.5 261.5 1008.5 260.5 1008.5 259.5 1008.5 258.5 1008.5 257.5 1008.5 256.5 1008.5 255.5 1006.3 254.5 1001.0 253.5 996.0 252.5 991.5 251.5 987.0 250.5 982.5 249.5 982.4 248.5 986.5 247.5 990.6 246.5 994.7 245.5 994.7 244.5 994.7 243.5 994.7 242.5 994.7 241.5 994.7 240.5 994.7 239.5 993.3 238.5 991.3 237.5 989.3 236.5 987.3 235.5 985.3 234.5 983.3 233.5 980.8 232.5 977.8 231.5 974.8 230.5 971.8 229.5 970.8 228.5 971.8 227.5 971.8 226.5 971.8 225.5 971.8 224.5 971.8 223.5 971.8 222.5 971.8 221.5 969.6 220.5 967.0 219.5 964.3 218.5 961.6 217.5 960.6 216.5 961.2 215.5 961.7 214.5 962.3 213.5 962.9 212.5 963.4 211.5 964.0 210.5 972.5 209.5 988.8 208.5 1005.1 207.5 990.5 206.5 985.8 205.5 989.0 204.5 991.0 203.5 994.5 202.5 996.5 201.5 998.9 200.5 1005.8 199.5 1008.7 198.5 1009.4 197.5 1010.1 196.5 1010.1 195.5 1010.1 194.5 1010.1 193.5 1010.1 192.5 1010.1 191.5 1010.1 190.5 1009.5 189.5 1008.0 188.5 1006.5 187.5 1005.0 186.5 1004.0 185.5 1003.4 184.5 1002.9 183.5 1002.3 182.5 1001.7 181.5 1001.2 180.5 1000.6 179.5 1000.6 178.5 1001.3 177.5 1002.0 176.5 1002.6 175.5 1003.2 174.5 1003.2 173.5 1003.2 172.5 1003.2 171.5 1003.2 170.5 1003.2 169.5 1003.2 168.5 1002.9 167.5 1002.7 166.5 1002.4 165.5 1002.1 164.5 1001.8 163.5 1001.5 162.5 1001.1 161.5 1000.8 160.5 1000.5 159.5 1000.0 158.5 999.4 157.5 998.9 156.5 998.3 155.5 997.7 154.5 997.2 153.5 996.6 152.5 997.0 151.5 998.3 150.5 999.6 149.5 1001.0 148.5 1002.3 147.5 1003.6 146.5 1004.3 145.5 1004.3 144.5 1004.3 143.5 1004.3 142.5 1004.3 141.5 1004.3 140.5 1004.3 139.5 1003.5 138.5 1002.0 137.5 1000.5 136.5 999.0 135.5 998.9 134.5 1000.0 133.5 1001.2 132.5 1002.4 131.5 1003.5 130.5 1004.7 129.5 1005.5 128.5 1006.0 127.5 1006.5 126.5 1007.0 125.5 1007.5 124.5 1008.0 123.5 1008.5 122.5 1008.9 121.5 1009.4 120.5 1009.8 119.5 1010.2 118.5 1010.2 117.5 1010.2 116.5 1010.2Z" fill="#1f77b4" stroke="#1f77b4" stroke-width="2" stroke-linejoin="round"/>
<path d="M116.9 935.0h0M116.5 929.8h0M116.7 1008.3h0M118.0 928.2h0M117.6 1010.3h0M119.5 919.1h0M119.3 1007.2h0M120.2 914.9h0M120.7 912.4h0M120.6 1011.0h0M122.2 910.6h0M121.9 1010.9h0M122.1 1011.9h0M123.7 910.1h0M123.5 898.3h0M124.1 902.8h0M123.8 1005.5h0M125.4 896.3h0M125.2 1009.7h0M126.3 876.0h0M126.3 1004.0h0M128.1 872.1h0M127.8 1007.2h0M129.1 855.3h0M129.3 1006.7h0M129.1 1008.5h0M128.6 1003.7h0M131.0 843.4h0M130.5 1005.2h0M131.7 841.6h0M131.9 837.5h0M132.0 1000.5h0M131.9 1006.5h0M132.4 1001.7h0M133.5 834.2h0M133.3 830.5h0M133.0 1002.5h0M134.7 833.2h0M134.4 1001.4h0M136.3 840.3h0M136.1 837.7h0M136.3 1000.6h0M136.1 1002.0h0M135.2 997.6h0M137.3 840.7h0M137.2 1002.2h0M138.4 841.3h0M138.4 1003.7h0M140.5 869.1h0M140.3 865.7h0M140.2 1006.2h0M142.1 892.4h0M141.9 1001.9h0M143.3 886.0h0M143.0 1006.1h0M144.6 877.0h0M144.1 1004.7h0M146.0 867.0h0M146.0 1006.3h0M145.9 1006.5h0M147.0 841.9h0M147.3 838.8h0M147.8 1004.1h0M148.4 846.9h0M148.8 1003.7h0M150.3 843.2h0M150.1 1000.4h0M150.1 1001.7h0M151.1 840.0h0M151.1 999.7h0M151.5 1001.1h0M152.9 840.6h0M153.0 998.2h0M152.9 1000.0h0M153.8 995.5h0M154.3 850.4h0M154.2 999.0h0M155.3 857.1h0M155.7 998.7h0M156.9 871.6h0M156.6 999.8h0M158.3 873.3h0M158.0 999.0h0M159.9 877.2h0M159.9 873.4h0M159.7 1001.8h0M160.9 885.0h0M161.4 1002.3h0M163.0 881.1h0M162.3 1002.8h0M162.7 1004.1h0M163.0 999.2h0M163.6 894.8h0M164.3 1000.5h0M165.5 891.0h0M165.5 1003.4h0M167.2 885.8h0M166.7 1000.4h0M168.1 868.7h0M168.7 1002.4h0M169.3 870.1h0M169.3 1000.2h0M170.7 869.2h0M171.2 1000.2h0M171.1 1006.2h0M172.7 871.2h0M172.5 1003.9h0M172.5 1006.9h0M174.2 876.8h0M173.9 869.6h0M173.7 1002.4h0M175.5 900.2h0M175.6 1000.2h0M176.6 906.1h0M176.7 903.1h0M176.4 999.9h0M178.0 907.0h0M178.3 998.3h0M179.3 903.0h0M179.8 1000.3h0M181.0 895.7h0M181.4 1000.2h0M182.3 894.5h0M182.5 999.0h0M184.1 892.8h0M184.1 1002.2h0M185.4 892.6h0M185.3 1005.0h0M186.8 893.1h0M186.5 889.7h0M186.3 1004.8h0M187.6 896.4h0M187.4 1006.9h0M189.5 900.9h0M189.5 1008.6h0M190.7 895.1h0M190.7 894.1h0M190.4 1008.5h0M192.0 882.7h0M192.5 1008.7h0M192.1 1012.6h0M193.5 873.0h0M193.6 1012.1h0M194.9 869.4h0M195.3 1010.8h0M196.3 851.2h0M195.9 1007.1h0M197.8 838.7h0M197.6 1009.8h0M199.2 821.2h0M199.5 1009.0h0M200.3 814.2h0M200.2 1006.4h0M201.5 812.1h0M201.8 999.9h0M203.3 804.8h0M203.3 802.9h0M203.7 995.7h0M204.8 804.1h0M204.3 992.2h0M206.3 797.3h0M206.4 986.9h0M207.6 798.3h0M207.3 988.6h0M208.9 802.2h0M209.1 1002.1h0M210.7 804.6h0M210.1 969.5h0M211.6 801.8h0M212.2 965.6h0M213.5 799.6h0M213.1 789.2h0M212.4 792.3h0M213.0 963.9h0M214.8 802.4h0M214.2 962.6h0M215.7 800.0h0M215.7 963.4h0M216.9 798.4h0M217.3 797.3h0M217.1 961.4h0M218.4 798.1h0M218.6 962.7h0M219.7 795.6h0M220.4 967.7h0M220.1 970.0h0M221.3 786.1h0M221.4 969.6h0M222.9 767.0h0M223.2 973.0h0M224.3 742.0h0M224.6 968.8h0M225.7 738.7h0M225.7 737.2h0M225.3 968.8h0M227.5 735.1h0M227.1 731.5h0M226.6 970.3h0M227.1 975.1h0M228.1 731.4h0M229.0 973.6h0M230.3 738.7h0M230.0 971.4h0M229.9 973.8h0M231.0 757.1h0M231.3 973.0h0M232.3 767.3h0M232.3 979.5h0M232.7 980.5h0M233.8 775.2h0M234.5 983.2h0M235.5 783.3h0M235.1 986.9h0M236.6 789.4h0M236.8 988.5h0M238.6 808.5h0M238.3 991.5h0M240.2 815.3h0M239.9 992.7h0M241.2 814.2h0M241.1 813.5h0M241.2 994.8h0M242.7 817.7h0M242.8 996.6h0M244.0 818.2h0M243.9 813.6h0M244.0 996.4h0M245.8 804.4h0M245.3 991.7h0M247.0 791.8h0M247.1 996.0h0M248.0 792.2h0M248.3 987.1h0M248.1 989.5h0M249.9 792.3h0M249.5 790.4h0M249.4 982.7h0M250.6 797.6h0M251.2 981.9h0M252.1 794.2h0M252.0 992.9h0M253.7 797.0h0M253.4 997.2h0M254.8 843.1h0M255.5 1005.9h0M256.2 851.1h0M256.0 1009.7h0M257.7 853.6h0M258.1 1009.8h0M259.2 851.1h0M259.4 1010.4h0M259.3 1011.0h0M260.6 848.6h0M260.7 843.9h0M260.8 1005.5h0M262.5 849.9h0M262.1 845.3h0M262.5 1005.5h0M262.1 1011.5h0M263.6 848.8h0M263.2 1009.2h0M263.5 1011.0h0M264.5 843.7h0M264.8 1010.0h0M266.3 841.9h0M266.0 1010.6h0M267.3 845.4h0M267.3 1008.7h0M269.1 841.6h0M269.1 838.3h0M269.4 1009.5h0M270.7 842.8h0M270.5 1011.1h0M270.5 1011.6h0M271.9 842.2h0M272.3 1008.8h0M271.9 1012.1h0M273.5 845.1h0M273.1 1010.1h0M275.1 849.0h0M275.1 1009.8h0M276.4 855.3h0M276.2 1007.2h0M277.5 864.1h0M277.3 1012.9h0M279.1 868.2h0M279.3 1010.5h0M278.9 1014.7h0M280.2 886.8h0M280.0 1009.9h0M280.3 1016.0h0M282.0 898.3h0M282.1 1012.5h0M281.7 1014.1h0M283.5 897.3h0M282.7 1008.3h0M284.2 892.5h0M284.5 892.3h0M284.5 1012.2h0M285.5 891.4h0M285.8 1010.4h0M287.2 884.1h0M287.8 1006.6h0M288.6 883.4h0M289.0 997.3h0M290.2 867.9h0M290.1 866.2h0M290.3 992.1h0M291.6 849.8h0M291.5 986.5h0M292.6 836.3h0M293.2 978.5h0M294.1 825.8h0M294.3 969.8h0M295.4 821.4h0M296.0 969.5h0M297.2 815.2h0M297.6 971.2h0M298.5 815.2h0M298.7 972.4h0M300.0 813.9h0M300.4 977.0h0M301.4 808.1h0M301.2 965.7h0M302.3 808.2h0M302.6 966.5h0M304.4 819.9h0M304.2 973.3h0M305.8 820.6h0M305.7 975.9h0M306.9 820.2h0M306.9 811.5h0M306.6 815.7h0M306.6 974.2h0M307.9 822.2h0M308.7 972.0h0M309.2 833.5h0M309.7 831.2h0M309.3 972.0h0M311.5 857.6h0M311.2 973.6h0M312.6 852.3h0M312.5 850.7h0M312.6 975.9h0M313.7 855.3h0M313.6 979.6h0M315.0 866.7h0M315.5 997.6h0M316.4 869.3h0M316.7 1012.0h0M316.7 1015.0h0M318.0 903.5h0M318.1 901.4h0M318.5 1019.6h0M319.8 941.1h0M319.5 938.3h0M319.0 1021.0h0M319.5 1024.6h0M318.9 1021.3h0M321.2 996.9h0M320.9 995.0h0M320.5 999.1h0M320.5 1023.0h0M322.6 1000.0h0M322.8 1023.6h0M322.3 1025.0h0M323.3 1001.2h0M324.0 1023.2h0M325.5 1004.7h0M325.1 1003.7h0M325.2 1024.4h0M326.0 1006.5h0M326.2 1022.0h0M328.0 1008.5h0M328.2 1022.8h0M327.9 1025.6h0M327.0 1022.3h0M329.6 1008.3h0M329.8 1020.1h0M330.6 1010.0h0M330.4 1021.5h0M331.6 1007.3h0M332.5 1021.3h0M333.7 1007.6h0M333.5 1021.6h0M335.0 1007.4h0M335.2 1023.4h0M336.6 1008.0h0M336.3 1006.5h0M336.7 1022.4h0M338.1 1007.5h0M337.4 1021.3h0M338.8 1007.5h0M339.3 1023.2h0M340.9 1008.0h0M340.2 1023.5h0M341.4 1009.0h0M341.8 1023.4h0M343.1 1007.6h0M342.9 1019.8h0M344.4 1008.5h0M344.9 1022.4h0M346.1 1005.7h0M346.0 1023.1h0M346.1 1025.0h0M347.4 1005.8h0M347.3 1021.7h0M348.6 1005.8h0M348.9 996.5h0M349.8 1001.2h0M348.6 1024.0h0M348.9 1025.2h0M349.8 1006.2h0M350.6 1022.4h0M352.0 1005.0h0M351.4 1024.0h0M352.9 1010.2h0M353.4 1023.9h0M354.5 1012.5h0M355.0 1023.1h0M355.7 1015.3h0M356.0 1024.4h0M356.8 1013.8h0M357.3 1023.0h0M357.3 1026.8h0M358.7 1015.6h0M358.4 1025.8h0M360.6 1019.0h0M360.5 1023.7h0M361.2 1020.3h0M361.5 1017.1h0M361.5 1026.3h0M362.6 1019.3h0M363.0 1026.5h0M364.1 1019.0h0M364.6 1025.4h0M365.8 1021.2h0M365.5 1026.1h0M366.6 1020.2h0M367.5 1026.5h0M367.1 1028.0h0M368.3 1019.6h0M368.6 1024.7h0M369.4 1019.2h0M369.8 1024.8h0M370.8 1021.2h0M371.0 1026.7h0M372.3 1020.2h0M372.9 1026.9h0M374.0 1018.6h0M374.2 1024.5h0M374.1 1028.1h0M375.7 1018.5h0M375.9 1026.5h0M377.0 1016.4h0M376.9 1015.0h0M377.1 1027.0h0M378.7 1017.2h0M378.3 1015.0h0M377.8 1026.9h0M380.1 1018.4h0M379.7 1012.9h0M379.9 1025.8h0M381.5 1015.4h0M381.1 1025.7h0M381.1 1027.9h0M382.2 1017.6h0M382.7 1025.9h0M383.4 1020.6h0M384.0 1026.2h0M385.7 1019.7h0M385.6 1027.1h0M386.7 1018.6h0M386.5 1027.0h0M386.7 1028.3h0M388.3 1019.4h0M388.6 1025.7h0M389.3 1019.5h0M389.5 1018.5h0M389.6 1026.2h0M391.0 1022.0h0M391.0 1026.7h0M392.4 1020.5h0M391.9 1026.0h0M393.7 1021.8h0M393.6 1026.4h0M394.8 1022.4h0M394.7 1026.0h0M396.3 1022.0h0M396.5 1020.4h0M396.1 1025.9h0M398.3 1022.1h0M398.2 1025.6h0M397.9 1025.8h0M399.4 1019.7h0M399.7 1024.5h0M400.4 1018.5h0M401.0 1022.9h0M400.7 1026.2h0M402.1 1011.3h0M402.4 1023.1h0M403.7 1009.5h0M403.5 1006.0h0M403.0 1025.2h0M403.5 1026.2h0M404.9 1012.1h0M405.2 1023.7h0M406.1 1009.8h0M406.3 1001.3h0M405.9 1005.8h0M406.0 1020.3h0M408.0 1007.5h0M407.5 1019.6h0M409.0 1010.2h0M409.5 1023.1h0M410.7 1008.3h0M410.5 1021.4h0M412.1 1010.3h0M412.2 1021.5h0M413.7 1011.0h0M413.3 1006.2h0M413.2 1025.3h0M413.3 1027.4h0M415.1 1011.4h0M415.1 1024.6h0M416.3 1015.7h0M415.9 1025.5h0M417.4 1019.8h0M417.1 1026.3h0M418.6 1021.7h0M418.7 1025.5h0M420.3 1023.7h0M420.2 1027.7h0M421.3 1024.9h0M421.4 1027.8h0M423.5 1025.6h0M423.1 1027.3h0M425.0 1026.4h0M424.5 1024.9h0M424.6 1027.2h0M425.5 1026.0h0M425.6 1026.3h0M426.9 1024.0h0M427.0 1027.4h0M428.8 1023.2h0M428.6 1026.5h0M430.2 1017.8h0M430.1 1016.0h0M430.6 1026.2h0M431.8 1014.4h0M431.2 1025.9h0M431.5 1028.1h0M433.0 1014.3h0M432.8 1025.7h0M434.0 1009.8h0M434.1 1023.9h0M435.7 1008.2h0M435.2 1025.9h0M437.3 1004.8h0M437.0 1025.4h0M438.3 1006.1h0M438.3 1021.3h0M438.5 1026.5h0M439.6 1003.5h0M440.3 1025.4h0M441.1 1005.7h0M441.3 997.3h0M441.7 1024.3h0M442.7 1001.2h0M442.5 1021.8h0M444.2 1002.8h0M444.0 1024.4h0M445.5 1006.3h0M445.5 999.8h0M445.7 1022.7h0M445.5 1027.2h0M447.2 1002.9h0M447.2 1021.3h0M446.9 1027.2h0M448.4 1004.7h0M448.6 1025.8h0M448.3 1027.2h0M447.8 1024.2h0M450.2 1007.4h0M449.6 1023.6h0M451.4 1008.4h0M450.9 1025.7h0M452.0 1010.8h0M452.5 1005.7h0M452.6 1024.3h0M454.3 1009.8h0M453.5 1026.6h0M455.1 1013.9h0M455.8 1024.2h0M456.6 1016.4h0M456.7 1014.5h0M456.7 1026.7h0M458.3 1017.6h0M458.0 1024.7h0M459.5 1020.1h0M459.9 1026.0h0M460.7 1017.6h0M460.6 1026.9h0M461.9 1019.1h0M462.3 1017.6h0M462.1 1024.8h0M463.4 1018.2h0M463.7 1027.5h0M465.4 1018.4h0M464.9 1027.5h0M466.6 1018.7h0M466.9 1027.4h0M467.8 1018.0h0M468.3 1027.7h0M469.1 1019.5h0M469.4 1027.8h0M470.2 1021.4h0M470.9 1027.0h0M472.6 1025.4h0M472.1 1028.0h0M473.8 1026.0h0M473.2 1027.8h0M474.9 1025.7h0M474.9 1026.9h0M475.8 1027.0h0M476.2 1028.6h0M478.1 1027.5h0M477.8 1028.4h0M479.1 1027.3h0M479.4 1029.0h0M480.7 1027.0h0M480.1 1028.7h0M480.5 1029.4h0M482.1 1027.0h0M481.8 1028.7h0M483.4 1025.8h0M483.4 1028.9h0M484.4 1023.5h0M484.5 1028.6h0M486.1 1021.5h0M485.6 1027.0h0M487.2 1020.2h0M487.4 1028.6h0M488.7 1019.8h0M488.9 1018.5h0M489.4 1027.7h0M490.8 1020.2h0M490.3 1019.5h0M490.5 1028.0h0M491.6 1020.0h0M492.0 1028.4h0M493.1 1022.9h0M493.3 1027.4h0M494.4 1025.5h0M494.6 1028.1h0M496.1 1026.1h0M495.8 1027.7h0M497.3 1026.7h0M497.0 1027.2h0M498.6 1025.4h0M498.4 1027.7h0M499.6 1026.3h0M500.4 1029.1h0M501.1 1025.1h0M501.1 1028.1h0M501.5 1029.6h0M503.1 1025.1h0M502.7 1028.5h0M502.9 1030.2h0M504.3 1025.2h0M504.5 1029.0h0M505.6 1025.5h0M505.2 1028.6h0M507.0 1025.2h0M507.4 1028.4h0M508.6 1025.6h0M508.8 1029.0h0M509.9 1026.5h0M510.2 1028.7h0M511.2 1025.2h0M511.1 1028.4h0M512.5 1026.1h0M512.7 1024.8h0M512.6 1027.7h0M514.4 1024.2h0M514.0 1027.0h0M515.7 1023.1h0M515.1 1028.7h0M515.5 1030.0h0M516.4 1023.6h0M516.6 1028.6h0M516.9 1029.6h0M518.3 1021.0h0M518.7 1028.7h0M519.4 1022.6h0M520.0 1027.7h0M521.1 1024.2h0M521.1 1017.9h0M521.5 1028.7h0M522.5 1022.3h0M522.6 1028.2h0M523.9 1024.3h0M523.8 1028.6h0M525.1 1028.6h0M524.8 1028.9h0M527.1 1029.8h0M527.0 1029.3h0M527.9 1031.7h0M527.9 1029.5h0M529.7 1031.5h0M529.2 1029.3h0M531.0 1031.7h0M531.3 1029.3h0M532.5 1031.4h0M531.8 1029.6h0M533.2 1031.3h0M533.9 1029.3h0M535.3 1031.5h0M535.4 1029.3h0M536.8 1031.3h0M536.9 1029.3h0M537.9 1031.7h0M537.5 1029.6h0M539.7 1031.4h0M539.2 1029.3h0M541.1 1031.6h0M540.5 1029.1h0M542.0 1031.3h0M542.0 1029.3h0M543.7 1031.4h0M543.3 1028.6h0M544.7 1031.6h0M544.6 1029.5h0M546.1 1031.3h0M546.3 1028.6h0M547.8 1030.6h0M548.0 1029.5h0M549.0 1029.3h0M549.2 1029.6h0M550.5 1029.6h0M550.6 1029.2h0M551.7 1030.0h0M551.9 1028.4h0M553.7 1028.4h0M553.4 1028.8h0M555.2 1028.6h0M554.4 1029.4h0M556.3 1028.2h0M556.0 1028.1h0M556.1 1030.1h0M557.2 1028.2h0M557.9 1029.3h0M559.0 1028.2h0M559.3 1029.3h0M560.4 1026.6h0M560.7 1028.0h0M561.6 1027.3h0M561.3 1029.3h0M562.9 1026.1h0M563.1 1025.7h0M563.0 1028.8h0M564.9 1021.2h0M564.8 1027.5h0M566.0 1017.4h0M565.8 1028.0h0M567.0 1014.8h0M566.9 1027.3h0M568.6 1014.2h0M568.4 1027.8h0M570.3 1008.4h0M570.4 1027.0h0M571.2 1008.3h0M571.8 1025.6h0M572.9 1008.5h0M572.4 1027.2h0M574.3 1012.2h0M574.4 1028.1h0M575.6 1010.9h0M575.5 1027.8h0M577.0 1010.6h0M577.2 1026.8h0M577.1 1029.2h0M578.7 1012.8h0M578.4 1026.6h0M580.4 1015.9h0M579.9 1011.0h0M579.7 1027.9h0M581.4 1016.6h0M581.1 1027.4h0M583.1 1015.1h0M583.0 1028.1h0M583.9 1021.0h0M584.3 1026.7h0M585.3 1020.5h0M586.0 1028.0h0M587.1 1022.5h0M586.6 1026.5h0M588.0 1022.0h0M588.7 1028.2h0M589.6 1017.8h0M589.2 1027.8h0M590.6 1018.0h0M591.2 1027.3h0M591.1 1028.9h0M592.5 1018.5h0M592.5 1015.9h0M592.5 1028.7h0M593.8 1015.7h0M594.0 1028.3h0M593.9 1029.8h0M595.2 1015.1h0M595.0 1026.4h0M596.7 1014.4h0M597.2 1028.5h0M598.4 1013.1h0M598.1 1011.4h0M597.6 1028.6h0M599.7 1013.8h0M599.5 1011.7h0M599.8 1028.7h0M599.5 1029.8h0M600.4 1026.4h0M600.6 1013.2h0M600.9 1011.2h0M601.3 1027.5h0M602.2 1013.0h0M602.3 1012.6h0M602.6 1028.0h0M602.3 1029.8h0M603.0 1024.8h0M603.5 1014.2h0M603.7 1028.6h0M605.4 1012.6h0M605.1 1010.1h0M604.4 1013.8h0M605.5 1027.3h0M605.1 1029.6h0M606.2 1012.8h0M607.0 1028.5h0M608.4 1010.7h0M607.5 1028.1h0M609.1 1011.6h0M609.3 1008.9h0M609.5 1024.3h0M610.5 1011.8h0M611.1 1027.5h0M612.5 1011.7h0M612.5 1026.0h0M613.3 1011.6h0M613.3 1023.9h0M615.1 1011.0h0M614.6 1027.4h0M616.2 1012.5h0M616.3 1027.5h0M617.5 1013.2h0M617.7 1026.5h0M619.1 1009.3h0M619.5 1024.8h0M620.8 1010.8h0M620.8 1023.8h0M622.3 1010.5h0M621.9 1007.9h0M621.4 1023.9h0M623.0 1009.7h0M623.3 1008.2h0M623.5 1027.0h0M624.4 1010.8h0M624.4 1023.3h0M625.9 1006.9h0M626.1 1023.6h0M626.1 1028.6h0M627.7 1002.9h0M627.6 1026.6h0M629.0 1000.9h0M629.4 1026.9h0M630.7 999.8h0M630.0 1023.0h0M631.8 1003.8h0M631.8 1023.8h0M633.5 1002.6h0M633.0 1022.2h0M634.3 1001.9h0M634.2 1022.8h0M635.9 1004.8h0M635.9 999.1h0M635.3 1003.0h0M636.2 1021.1h0M637.0 998.9h0M637.3 997.8h0M636.7 1001.2h0M637.6 1023.0h0M639.1 1000.0h0M639.0 1025.4h0M638.7 1026.5h0M638.9 1022.3h0M640.5 997.9h0M639.7 1023.3h0M641.6 996.0h0M641.6 1023.2h0M642.8 985.0h0M643.3 1022.0h0M644.4 982.5h0M644.6 1021.5h0M645.6 978.8h0M645.3 1024.5h0M647.0 973.9h0M647.1 970.7h0M647.5 1024.1h0M647.1 1025.5h0M646.5 1020.9h0M648.7 971.0h0M648.2 1022.8h0M650.4 971.2h0M649.7 1022.4h0M651.7 976.4h0M651.8 1019.9h0M651.3 1025.9h0M653.0 972.7h0M652.7 967.8h0M652.1 971.2h0M653.1 1024.5h0M654.4 978.3h0M654.1 1023.9h0M655.2 983.8h0M655.5 979.5h0M655.0 983.0h0M655.9 1023.9h0M656.7 985.2h0M657.0 1020.8h0M658.1 985.7h0M658.7 1022.2h0M660.1 981.4h0M659.7 1024.9h0M659.7 1027.2h0M660.7 980.6h0M660.9 1024.2h0M662.3 975.3h0M662.7 1024.4h0M664.1 977.8h0M663.6 1023.7h0M663.9 1026.0h0M665.6 976.2h0M665.3 975.0h0M665.3 1023.9h0M666.5 978.5h0M666.7 973.0h0M667.0 1024.4h0M668.0 991.6h0M667.7 1022.2h0M669.7 993.7h0M669.5 990.8h0M669.3 1023.9h0M670.9 1000.5h0M670.8 1023.1h0M670.9 1025.3h0M672.0 1001.1h0M672.7 1024.5h0M673.7 1004.5h0M673.7 999.5h0M673.7 1024.1h0M673.7 1025.6h0M675.2 1004.0h0M675.0 1022.3h0M676.4 1005.5h0M676.9 1024.3h0M678.0 1001.0h0M677.5 1022.7h0M679.4 1004.2h0M678.9 1022.7h0M679.3 1026.2h0M680.7 997.1h0M680.5 1025.1h0M682.2 991.3h0M682.1 985.7h0M681.8 1025.4h0M683.4 993.2h0M683.4 1025.5h0M684.8 989.2h0M684.9 987.7h0M685.2 1025.4h0M686.4 989.6h0M686.0 1023.1h0M687.5 991.1h0M687.2 1024.3h0M688.8 992.7h0M689.5 1023.9h0M689.1 1026.7h0M690.7 990.3h0M690.0 1023.2h0M692.3 992.5h0M692.1 1024.5h0M693.4 994.9h0M693.0 1019.8h0M693.3 1025.5h0M693.5 1020.7h0M694.3 994.0h0M694.8 1020.0h0M695.6 994.9h0M695.8 1023.7h0M697.2 994.9h0M698.0 1022.5h0M698.5 991.0h0M699.4 1023.3h0M699.8 989.7h0M700.3 988.3h0M700.4 1021.9h0M701.8 988.5h0M701.6 1018.8h0M701.7 1024.6h0M703.4 988.5h0M703.5 1020.6h0M704.9 986.0h0M704.4 1019.8h0M705.5 987.1h0M705.9 1024.9h0M705.9 1026.1h0M707.7 987.5h0M707.6 1023.7h0M708.8 988.1h0M708.9 1021.5h0M710.5 981.7h0M709.8 1024.5h0M711.4 983.6h0M711.5 980.5h0M712.0 1025.7h0M711.5 1028.1h0M713.4 984.8h0M713.0 1023.2h0M714.3 985.6h0M714.2 1024.2h0M715.8 983.9h0M715.6 1024.1h0M716.7 982.0h0M716.6 1022.8h0M718.2 981.9h0M718.2 1024.0h0M720.2 986.8h0M720.2 1022.0h0M721.2 985.7h0M721.3 978.7h0M720.7 982.9h0M721.3 1020.7h0M722.6 976.9h0M722.7 974.5h0M722.3 1021.8h0M723.9 976.5h0M723.7 1022.1h0M724.1 1023.0h0M725.0 976.2h0M725.3 1017.8h0M726.6 976.6h0M726.8 1022.6h0M726.9 1023.0h0M728.2 975.4h0M728.3 973.6h0M728.8 1021.7h0M729.2 975.0h0M729.4 1017.6h0M730.9 976.6h0M731.1 974.4h0M730.9 1021.1h0M732.5 979.3h0M732.5 976.2h0M732.2 1018.7h0M734.4 980.4h0M734.0 1020.3h0M735.0 979.7h0M735.0 1021.8h0M736.6 980.6h0M736.6 1023.2h0M738.1 982.7h0M738.1 980.9h0M738.1 1021.2h0M739.7 986.9h0M739.2 1020.5h0M741.0 982.7h0M741.3 1022.0h0M742.0 987.2h0M741.9 1024.6h0M744.0 984.5h0M744.2 1020.8h0M743.7 1026.0h0M745.1 989.3h0M745.1 985.0h0M745.1 1022.1h0M745.1 1025.8h0M746.2 989.1h0M746.4 1023.2h0M747.5 996.1h0M747.9 990.1h0M748.3 1023.7h0M749.4 994.9h0M749.8 1021.5h0M751.1 997.4h0M750.7 995.4h0M750.4 1019.8h0M752.0 999.6h0M751.8 1024.6h0M752.1 1025.3h0M754.0 1001.8h0M753.8 1023.7h0M754.7 1008.9h0M754.7 1021.2h0M756.3 1008.1h0M756.2 1025.5h0M757.8 1011.6h0M757.7 1006.6h0M757.8 1024.2h0M759.1 1010.2h0M759.5 1023.5h0M759.1 1027.3h0M760.4 1012.0h0M760.1 1023.3h0M761.8 1014.7h0M762.1 1023.9h0M763.4 1009.7h0M763.2 1026.1h0M764.9 1002.4h0M765.0 1026.0h0M766.2 993.8h0M765.9 1024.2h0M767.5 991.7h0M767.5 1018.9h0M768.9 987.6h0M768.9 981.6h0M768.4 984.7h0M768.7 1020.4h0M770.1 990.6h0M770.3 986.5h0M770.3 1018.3h0M772.2 991.2h0M771.6 1017.9h0M773.4 994.9h0M773.3 1020.2h0M773.1 1026.4h0M774.2 998.7h0M774.9 1020.9h0M775.6 999.9h0M775.9 997.4h0M775.8 1020.5h0M777.6 1007.4h0M777.6 1025.2h0M778.9 1012.0h0M778.7 1009.4h0M778.8 1024.6h0M779.7 1012.9h0M780.2 1025.1h0M781.5 1013.5h0M781.6 1025.8h0M782.6 1014.6h0M783.0 1024.5h0M784.2 1017.0h0M784.0 1025.5h0M785.9 1018.3h0M786.1 1026.4h0M787.3 1018.9h0M787.1 1016.6h0M787.2 1026.0h0M788.5 1019.5h0M788.3 1024.1h0M789.5 1018.3h0M789.9 1017.4h0M790.2 1025.1h0M791.4 1018.1h0M791.2 1027.1h0M792.8 1018.7h0M792.9 1027.7h0M794.3 1019.5h0M794.2 1027.5h0M795.3 1018.9h0M796.0 1024.6h0M796.8 1017.3h0M796.4 1026.3h0M798.3 1018.8h0M798.3 1014.9h0M798.7 1025.6h0M798.3 1029.0h0M799.8 1016.2h0M799.4 1027.9h0M801.6 1017.2h0M801.3 1027.2h0M802.9 1016.9h0M802.4 1026.8h0M804.1 1016.9h0M803.6 1025.6h0M805.2 1016.5h0M805.3 1013.0h0M805.4 1026.2h0M806.7 1015.9h0M807.0 1027.0h0M806.7 1028.3h0M807.7 1020.2h0M808.0 1024.6h0M809.1 1020.6h0M809.6 1027.3h0M809.5 1028.2h0M810.9 1020.8h0M810.5 1026.9h0M812.0 1020.1h0M812.2 1027.0h0M812.3 1028.3h0M814.0 1020.2h0M813.9 1025.8h0M814.6 1020.9h0M815.5 1025.8h0M816.7 1020.0h0M816.3 1024.8h0M817.7 1019.8h0M818.1 1027.2h0M819.0 1019.7h0M819.5 1025.0h0M819.3 1027.6h0M820.4 1019.0h0M820.5 1026.7h0M822.1 1019.0h0M822.1 1025.7h0M823.3 1018.9h0M823.5 1027.5h0M824.6 1016.4h0M824.5 1026.2h0M826.8 994.6h0M826.1 1023.5h0M826.3 1028.1h0M828.1 944.1h0M827.6 1024.4h0M828.7 890.8h0M829.1 888.9h0M829.5 1015.8h0M830.1 890.4h0M830.6 1017.9h0M832.1 882.2h0M831.9 1011.9h0M833.5 867.9h0M833.8 1006.5h0M833.3 1011.0h0M835.0 844.0h0M834.7 1004.5h0M835.7 818.6h0M836.1 807.8h0M835.2 810.9h0M835.6 996.6h0M837.1 805.3h0M837.8 995.2h0M839.3 796.3h0M838.9 794.9h0M838.6 994.4h0M838.9 996.0h0M838.5 992.3h0M840.2 794.3h0M840.3 789.0h0M839.9 989.7h0M841.9 797.2h0M842.2 997.3h0M842.7 813.3h0M843.3 1000.6h0M843.1 1003.3h0M844.8 825.6h0M844.6 1003.8h0M846.3 828.6h0M845.9 1004.2h0M847.1 837.7h0M847.7 999.4h0M848.5 842.8h0M848.5 999.4h0M850.3 846.1h0M849.8 1002.1h0M851.2 844.3h0M851.5 840.9h0M852.0 1002.3h0M851.5 1003.9h0M852.7 845.2h0M852.9 1005.3h0M854.5 849.4h0M854.3 846.2h0M854.1 1006.0h0M855.5 874.0h0M855.7 866.1h0M854.7 869.5h0M855.3 1011.1h0M855.7 1013.5h0M856.3 1009.5h0M857.4 924.3h0M857.3 1014.5h0M858.2 923.0h0M858.5 917.3h0M859.1 922.0h0M858.7 1015.9h0M859.8 926.1h0M859.9 920.2h0M860.3 923.3h0M860.1 1015.9h0M859.9 1019.5h0M860.9 1015.6h0M860.8 938.0h0M861.0 1018.7h0M861.3 1022.5h0M862.5 944.7h0M862.4 1020.0h0M864.4 941.2h0M864.0 1018.5h0M865.4 933.3h0M865.0 1022.8h0M866.6 924.7h0M866.6 1022.1h0M868.7 914.2h0M868.6 1023.5h0M869.8 908.9h0M869.9 1022.4h0M871.2 904.2h0M871.4 1022.8h0M871.1 1024.5h0M872.7 895.9h0M872.1 1019.3h0M874.1 880.7h0M874.3 1019.0h0M874.9 880.8h0M875.1 1012.9h0M877.2 881.3h0M876.7 1016.9h0M878.2 877.2h0M878.2 1014.3h0M878.1 1016.5h0M877.8 1012.8h0M879.6 881.0h0M879.7 1011.3h0M880.5 879.1h0M880.9 1012.7h0M882.5 866.0h0M882.2 1013.7h0M884.1 858.7h0M883.7 852.6h0M884.7 856.3h0M883.6 1007.7h0M883.7 1014.4h0M883.7 1011.0h0M885.1 857.0h0M885.6 998.6h0M886.8 860.1h0M886.8 1000.8h0M888.1 857.2h0M887.9 1003.8h0M889.6 870.2h0M889.2 1010.3h0M891.2 893.9h0M890.7 1010.5h0M890.7 1012.5h0M891.8 929.6h0M892.5 1010.0h0M892.1 1013.5h0M893.7 943.5h0M893.2 1012.2h0M895.1 943.6h0M894.4 1011.2h0M894.9 1013.4h0M895.9 940.2h0M896.4 1013.5h0M897.9 924.2h0M897.6 1013.7h0M899.4 910.9h0M899.5 1014.7h0M899.1 1016.5h0M900.8 913.3h0M900.5 907.3h0M900.7 1015.5h0M900.5 1017.3h0M901.7 911.8h0M902.0 1014.2h0M903.4 908.3h0M903.7 1015.4h0M904.7 907.7h0M904.5 1017.6h0M904.7 1019.4h0M905.7 910.2h0M905.8 1014.8h0M906.1 1019.1h0M907.1 912.5h0M907.3 1012.9h0M909.2 912.1h0M908.9 910.0h0M908.8 1016.7h0M908.9 1020.3h0M908.0 1016.0h0M909.9 916.5h0M910.2 1014.2h0M911.5 926.0h0M911.7 921.9h0M912.0 1007.8h0M912.9 933.3h0M913.4 1002.5h0M914.9 931.5h0M914.5 923.0h0M915.4 926.4h0M914.9 999.2h0M914.5 1002.5h0M915.9 921.1h0M915.9 918.8h0M915.7 999.1h0M917.2 892.2h0M917.3 890.6h0M917.3 1007.9h0M918.2 881.0h0M919.1 1005.5h0M919.9 880.0h0M920.1 876.6h0M920.0 1006.3h0M921.0 878.7h0M921.8 1011.5h0M922.6 879.5h0M922.9 878.7h0M922.8 1011.3h0M924.7 884.9h0M924.0 1009.5h0M925.6 910.3h0M925.9 1015.4h0M925.7 1017.0h0M926.6 1013.5h0M927.3 939.6h0M927.0 1016.5h0M928.9 945.4h0M928.8 1016.6h0M929.8 949.3h0M929.6 1015.6h0M929.9 1021.4h0M931.5 947.6h0M931.3 943.5h0M930.8 1018.4h0M931.3 1019.8h0M932.8 946.8h0M932.4 1016.4h0M934.0 947.5h0M933.6 1015.6h0M934.1 1018.2h0M935.2 936.7h0M935.9 1013.3h0M937.2 910.8h0M936.9 908.9h0M937.2 1013.1h0M937.9 893.0h0M938.3 891.1h0M937.8 1008.0h0M939.5 893.3h0M939.3 1002.4h0M939.7 1008.3h0M941.5 889.5h0M941.3 1001.4h0M942.2 890.0h0M942.6 999.2h0M943.8 889.6h0M944.1 999.0h0M945.1 894.8h0M945.4 997.1h0M946.7 903.8h0M946.6 1000.8h0M947.8 914.9h0M948.1 912.9h0M948.2 1005.7h0M949.7 917.9h0M949.5 914.2h0M949.3 1008.8h0M950.9 920.6h0M950.8 1012.7h0M952.3 928.3h0M952.3 1010.4h0M953.6 939.8h0M953.7 936.5h0M953.9 1011.7h0M953.7 1017.0h0M954.0 1012.9h0M955.3 946.7h0M955.1 937.6h0M954.5 941.6h0M955.6 1012.4h0M956.1 945.9h0M956.7 1008.2h0M956.5 1014.2h0M957.8 942.3h0M957.5 1012.6h0M959.0 935.6h0M959.3 1009.3h0M960.9 937.0h0M961.0 1009.1h0M961.8 936.5h0M962.2 1011.1h0M963.7 937.3h0M963.9 1013.4h0M964.4 939.3h0M965.3 1015.4h0M966.4 941.3h0M966.3 936.0h0M966.0 1011.8h0M967.5 938.2h0M967.6 1015.4h0M969.5 934.9h0M969.5 1014.9h0M970.1 933.1h0M970.5 1014.6h0M971.7 930.1h0M971.9 925.7h0M971.9 1013.2h0M973.4 931.5h0M973.0 1011.5h0M974.3 934.8h0M974.9 1015.5h0M976.5 939.8h0M976.1 935.7h0M975.9 1013.0h0M977.7 939.7h0M977.2 1013.7h0M979.0 941.0h0M978.4 1015.5h0M980.7 943.7h0M980.3 933.7h0M980.8 937.1h0M980.6 1015.9h0M980.3 1017.2h0M981.8 940.8h0M981.7 937.4h0M981.6 1012.5h0M981.7 1016.4h0M983.5 940.1h0M983.1 1013.3h0M984.6 945.4h0M984.1 1008.0h0M984.5 1014.0h0M986.3 951.1h0M985.9 1007.5h0M987.3 948.0h0M987.5 1013.7h0M988.7 949.7h0M988.7 943.1h0M988.8 1014.8h0M990.0 948.8h0M990.5 1016.3h0M990.1 1017.8h0M989.2 1013.0h0M991.5 948.1h0M992.0 1014.7h0M991.5 1018.8h0M993.2 947.6h0M992.9 946.1h0M993.1 1017.1h0M992.9 1019.2h0M993.5 1016.0h0M994.7 958.0h0M994.1 1014.8h0M996.2 957.3h0M995.4 1017.2h0M996.9 962.7h0M997.1 960.4h0M996.9 1016.8h0M998.8 964.7h0M998.2 1016.6h0M998.5 1018.5h0M997.9 1014.2h0M999.5 964.3h0M999.4 1015.4h0M1001.2 966.3h0M1001.5 1013.3h0M1003.0 963.3h0M1002.5 1018.6h0M1004.5 963.4h0M1004.1 958.5h0M1004.0 1018.9h0M1005.6 965.3h0M1005.3 1019.5h0M1005.5 1022.0h0M1005.9 1017.3h0M1006.5 965.4h0M1007.3 1015.5h0M1008.7 964.5h0M1007.9 1017.4h0M1009.8 967.3h0M1009.5 1018.6h0M1011.4 963.7h0M1011.4 1016.9h0M1012.5 964.7h0M1012.8 1013.9h0M1014.3 964.0h0M1013.6 1017.2h0M1015.1 963.8h0M1015.3 960.5h0M1015.1 1015.7h0M1017.1 968.2h0M1016.9 1014.3h0M1016.7 1018.5h0M1018.2 973.2h0M1018.1 968.0h0M1018.5 1015.3h0M1019.3 973.7h0M1019.5 966.0h0M1019.4 970.9h0M1019.3 1014.0h0M1021.4 967.2h0M1020.5 1014.7h0M1020.9 1016.9h0M1021.9 968.5h0M1022.7 1016.8h0M1023.7 968.6h0M1023.7 966.8h0M1023.4 1017.1h0M1024.8 972.0h0M1024.8 1018.2h0M1026.0 969.4h0M1026.6 1020.3h0M1026.5 1022.5h0M1026.3 1017.9h0M1027.7 977.3h0M1027.9 971.2h0M1028.4 1020.1h0M1029.6 979.2h0M1029.7 1017.1h0M1030.5 979.0h0M1030.6 1017.6h0M1031.6 968.0h0M1032.0 1021.4h0M1032.1 1024.3h0M1032.7 1019.5h0M1033.1 962.6h0M1033.5 954.2h0M1033.5 957.6h0M1033.9 1017.1h0M1033.5 1023.9h0M1032.9 1020.7h0M1035.1 959.7h0M1035.2 1021.0h0M1034.9 1023.5h0M1036.1 960.7h0M1036.3 956.8h0M1035.9 1020.8h0M1036.3 1022.7h0M1038.2 957.4h0M1037.7 956.2h0M1038.1 1019.4h0M1037.7 1022.1h0M1039.3 962.5h0M1039.1 953.2h0M1039.0 1020.2h0M1040.9 958.9h0M1040.5 957.6h0M1041.0 1018.2h0M1042.1 965.0h0M1042.1 1020.0h0M1041.9 1022.0h0M1041.9 1018.4h0M1043.5 972.1h0M1043.2 1021.2h0M1045.1 975.8h0M1044.7 972.1h0M1045.0 1018.6h0M1044.7 1023.3h0M1046.4 981.4h0M1045.7 1018.2h0M1047.7 985.5h0M1047.7 1022.5h0M1047.5 1023.3h0M1048.5 988.1h0M1048.6 1021.4h0M1048.9 1025.0h0M1050.5 995.0h0M1050.6 1022.0h0M1051.6 996.7h0M1051.8 1020.1h0M1053.0 994.3h0M1053.3 1020.9h0M1054.7 994.8h0M1054.5 993.7h0M1054.9 1021.1h0M1054.5 1023.1h0M1055.8 995.2h0M1056.0 1020.8h0M1055.9 1023.4h0M1057.3 993.2h0M1057.6 1021.7h0M1058.4 992.4h0M1058.7 990.4h0M1059.1 1018.0h0M1060.5 988.1h0M1059.7 1019.6h0M1061.6 979.0h0M1061.5 976.4h0M1061.4 1020.2h0M1061.5 1021.2h0M1063.1 982.9h0M1062.5 1019.6h0M1064.8 977.9h0M1064.0 1017.2h0M1066.1 980.7h0M1066.0 1017.9h0M1066.7 978.1h0M1067.1 976.9h0M1067.5 1018.5h0M1068.2 985.7h0M1068.5 979.7h0M1068.6 1018.8h0M1070.1 984.9h0M1069.9 981.1h0M1070.3 1020.1h0M1071.2 984.7h0M1071.6 1020.3h0M1072.7 987.8h0M1072.7 987.2h0M1073.2 1020.9h0M1074.5 991.4h0M1074.2 1022.5h0M1076.0 994.3h0M1075.5 991.4h0M1075.7 1021.4h0M1075.5 1024.0h0M1075.3 1021.0h0M1076.8 997.4h0M1076.9 991.4h0M1076.7 1019.9h0M1078.5 992.7h0M1078.6 1020.8h0M1078.3 1025.1h0M1078.8 1021.1h0M1079.5 989.9h0M1079.4 1021.0h0M1081.5 985.4h0M1081.2 1018.0h0M1081.1 1023.7h0M1082.1 978.4h0M1082.1 1021.0h0M1084.2 979.0h0M1083.8 1022.1h0M1085.8 976.8h0M1085.1 1019.2h0M1086.9 980.0h0M1086.3 1019.5h0M1087.8 975.2h0M1088.2 1019.4h0M1089.1 977.6h0M1089.5 973.8h0M1089.5 1018.7h0M1090.7 974.7h0M1090.4 1021.5h0M1092.7 970.3h0M1091.9 1020.8h0M1093.8 968.6h0M1093.3 1020.0h0M1094.6 970.7h0M1095.1 968.8h0M1094.6 1021.1h0M1095.1 1023.3h0M1096.9 972.8h0M1096.5 968.9h0M1096.2 1022.9h0M1096.5 1024.2h0M1098.3 974.0h0M1098.4 1023.5h0M1099.8 980.1h0M1099.6 1021.0h0M1099.3 1025.4h0M1101.0 982.8h0M1100.7 978.1h0M1101.1 1023.5h0M1100.7 1025.7h0M1102.1 984.4h0M1102.3 1024.3h0M1103.6 984.5h0M1104.0 1024.2h0M1105.3 989.4h0M1105.0 1022.1h0M1106.3 985.5h0M1105.8 1023.6h0M1108.2 987.8h0M1107.7 985.1h0M1107.4 1023.9h0M1109.1 993.5h0M1109.1 1019.4h0M1109.1 1025.4h0M1110.7 991.4h0M1110.5 990.0h0M1110.3 1021.3h0M1112.1 996.6h0M1112.3 1023.3h0M1112.9 1000.2h0M1113.6 1023.6h0M1114.6 999.9h0M1115.1 1021.1h0M1116.2 999.7h0M1115.9 1021.5h0M1117.2 1000.8h0M1117.5 996.8h0M1117.6 1024.5h0M1119.3 1000.6h0M1118.9 998.0h0M1119.0 1025.1h0M1120.8 1003.2h0M1120.3 998.6h0M1120.5 1023.2h0M1121.4 999.5h0M1121.9 1023.7h0M1123.5 998.7h0M1123.0 1023.3h0M1124.9 994.7h0M1124.3 1024.1h0M1125.7 996.1h0M1126.1 1024.1h0M1126.9 996.5h0M1127.7 1024.5h0M1128.5 994.2h0M1128.7 993.0h0M1128.9 1025.5h0M1130.1 1005.7h0M1130.5 1024.3h0M1131.9 1006.6h0M1131.8 1025.3h0M1133.0 1009.2h0M1132.4 1025.5h0M1134.4 1014.2h0M1134.3 1009.0h0M1134.1 1022.7h0M1135.8 1010.1h0M1136.2 1026.2h0M1136.9 1009.7h0M1136.7 1025.9h0M1138.2 1012.9h0M1139.0 1026.2h0M1138.5 1026.7h0M1140.0 1010.9h0M1140.4 1023.7h0M1141.6 1008.8h0M1141.4 1023.8h0M1143.1 1009.4h0M1142.7 1023.8h0M1143.9 1011.9h0M1144.1 1007.7h0M1143.6 1024.1h0M1144.1 1027.3h0M1145.1 1009.5h0M1145.5 1006.6h0M1145.1 1023.4h0M1147.4 1008.3h0M1146.9 1025.4h0M1148.3 1011.6h0M1148.2 1025.1h0M1149.2 1014.8h0M1149.7 1012.4h0M1149.3 1025.3h0M1151.1 1017.4h0M1150.6 1025.8h0M1152.9 1016.7h0M1152.7 1025.9h0M1154.0 1016.6h0M1153.9 1015.4h0M1153.8 1025.3h0M1155.2 1018.0h0M1155.0 1022.9h0M1156.9 1018.8h0M1157.2 1022.5h0M1158.3 1011.4h0M1158.1 1023.2h0M1159.7 1008.1h0M1159.0 1022.4h0M1159.5 1025.4h0M1161.3 1003.8h0M1160.7 1022.3h0M1162.3 1001.0h0M1162.3 1024.3h0M1164.2 1000.7h0M1163.2 1023.4h0M1163.7 1025.4h0M1165.6 999.5h0M1164.7 1023.7h0M1166.8 1001.7h0M1166.9 1023.6h0M1167.7 1001.2h0M1168.2 1021.1h0M1169.6 1003.3h0M1169.3 997.5h0M1169.0 1001.0h0M1169.6 1025.1h0M1170.2 1008.1h0M1171.2 1025.3h0M1172.1 1006.9h0M1172.0 1022.7h0M1173.7 1012.1h0M1173.5 1006.1h0M1173.0 1025.3h0M1175.3 1010.3h0M1175.4 1026.2h0M1176.3 1013.4h0M1176.1 1025.2h0M1177.8 1012.7h0M1177.7 1011.4h0M1177.2 1014.8h0M1177.3 1024.2h0M1178.9 1013.4h0M1179.1 1012.4h0M1179.0 1026.0h0M1180.7 1012.5h0M1180.5 1011.4h0M1180.8 1026.0h0M1182.1 1013.1h0M1181.9 1025.8h0M1182.9 1011.2h0M1183.0 1025.9h0M1184.2 1013.4h0M1184.4 1025.7h0M1186.1 1012.6h0M1186.1 1023.8h0M1187.5 1011.5h0M1187.3 1022.3h0M1188.6 1012.6h0M1189.2 1022.1h0M1188.9 1026.5h0M1190.6 1014.5h0M1189.9 1025.3h0M1191.8 1011.2h0M1191.2 1024.7h0M1193.1 1011.5h0M1193.1 1008.9h0M1193.2 1024.6h0M1194.9 1009.4h0M1194.3 1025.6h0M1196.1 1008.1h0M1195.9 1005.9h0M1195.9 1025.1h0M1197.3 1010.8h0M1197.3 1005.6h0M1198.1 1010.1h0M1197.8 1025.1h0M1198.6 1011.1h0M1198.4 1025.6h0M1199.7 1002.5h0M1200.1 1000.7h0M1199.3 1004.4h0M1200.0 1025.7h0M1201.5 997.7h0M1201.5 996.1h0M1202.4 1000.2h0M1201.5 1025.4h0M1202.5 993.9h0M1202.9 990.1h0M1202.8 1021.6h0M1204.3 992.8h0M1204.7 1025.2h0M1206.1 992.6h0M1205.6 1024.6h0M1207.2 991.1h0M1207.1 1023.1h0M1208.0 993.2h0M1208.5 989.4h0M1208.2 1023.0h0M1210.4 995.8h0M1210.2 1021.5h0M1211.0 1005.6h0M1211.3 999.6h0M1211.1 1024.8h0M1211.3 1026.5h0M1210.6 1022.3h0M1212.2 1002.3h0M1212.9 1024.9h0M1212.7 1026.4h0M1213.8 1007.4h0M1214.1 1024.8h0M1215.0 1003.5h0M1215.5 1001.8h0M1216.1 1005.0h0M1215.7 1023.3h0M1216.7 1006.7h0M1216.5 1026.3h0M1218.3 1007.9h0M1218.1 1025.5h0M1219.6 1006.5h0M1219.3 1023.4h0M1220.6 1007.7h0M1221.4 1025.6h0M1222.2 1007.8h0M1222.1 1025.6h0M1222.5 1026.8h0M1223.8 1004.0h0M1224.0 1024.8h0M1225.7 1006.6h0M1225.3 1002.0h0M1225.6 1026.5h0M1227.0 1004.7h0M1227.1 1023.8h0M1227.9 1003.0h0M1227.8 1025.0h0M1228.1 1027.1h0M1229.8 1000.8h0M1229.5 1000.1h0M1229.9 1023.6h0M1229.5 1026.9h0M1229.5 1022.5h0M1230.5 1004.2h0M1230.9 999.1h0M1230.2 1003.4h0M1230.6 1024.5h0M1230.9 1026.6h0M1231.9 1001.6h0M1231.8 1022.4h0M1234.1 1003.2h0M1233.7 1024.0h0M1234.9 1000.6h0M1235.5 1023.2h0M1236.5 1000.9h0M1236.6 1025.2h0M1237.5 1004.8h0M1237.9 998.2h0M1238.2 1024.1h0M1237.9 1026.3h0M1239.6 1005.3h0M1239.2 1023.1h0M1239.3 1026.0h0M1240.5 997.9h0M1240.7 1023.6h0M1242.2 997.0h0M1242.1 988.0h0M1242.3 992.0h0M1242.3 1025.0h0M1243.7 997.9h0M1243.4 1025.1h0M1244.7 1002.0h0M1245.2 1024.2h0M1246.1 1002.0h0M1245.9 1020.3h0M1248.0 1002.4h0M1248.0 1025.2h0M1248.7 1006.3h0M1248.9 1024.9h0M1250.3 1005.7h0M1250.8 1024.3h0M1251.5 1004.7h0M1251.9 1023.3h0M1253.3 1007.0h0M1253.3 1002.7h0M1254.1 1005.9h0M1253.5 1024.8h0M1254.6 1007.9h0M1254.7 1002.0h0M1254.8 1005.0h0M1255.0 1024.6h0M1256.6 1001.3h0M1256.1 1021.6h0M1258.0 999.1h0M1257.2 1021.8h0M1259.1 995.3h0M1258.5 1024.2h0M1260.8 990.2h0M1260.1 1022.8h0M1261.4 987.8h0M1261.7 986.6h0M1262.6 990.7h0M1262.1 1020.0h0M1262.9 985.9h0M1263.0 1020.0h0M1264.5 985.2h0M1264.4 1022.2h0M1266.3 983.9h0M1265.8 1021.1h0M1265.9 1024.5h0M1266.2 1019.8h0M1267.0 985.8h0M1267.3 978.2h0M1266.6 982.8h0M1267.1 1022.0h0M1269.1 988.5h0M1268.5 1021.3h0M1270.5 985.3h0M1270.1 982.5h0M1270.3 1022.9h0M1270.1 1024.2h0M1271.7 985.0h0M1271.5 981.3h0M1271.7 1022.9h0M1273.3 983.1h0M1272.6 1021.2h0M1274.5 985.7h0M1274.7 1022.0h0M1275.6 983.0h0M1275.7 1022.3h0M1275.7 1025.1h0M1276.8 984.6h0M1276.8 1021.2h0M1278.6 981.2h0M1279.0 1023.4h0M1280.4 984.8h0M1279.9 1023.0h0M1281.5 985.4h0M1281.7 1018.5h0M1282.6 984.3h0M1282.2 1020.7h0M1282.7 1024.4h0M1283.0 1020.1h0M1283.8 994.4h0M1283.9 1022.0h0M1285.4 994.2h0M1285.5 991.1h0M1285.3 1020.9h0M1286.4 994.7h0M1286.7 1017.9h0M1286.9 1023.9h0M1287.5 1020.4h0M1288.0 988.2h0M1288.1 1017.6h0M1288.3 1023.4h0M1289.3 989.8h0M1289.7 981.7h0M1289.5 985.0h0M1290.2 1020.2h0M1289.7 1023.5h0M1290.2 1019.0h0M1291.0 983.0h0M1290.9 1018.2h0M1291.1 1023.2h0M1290.6 1018.8h0M1292.7 985.7h0M1292.5 981.2h0M1292.4 1021.7h0M1293.4 981.8h0M1293.7 1019.9h0M1295.7 978.7h0M1295.0 1019.1h0M1296.7 977.9h0M1296.8 1017.1h0M1297.8 975.8h0M1298.1 1020.2h0M1299.8 973.6h0M1299.3 1018.2h0M1300.7 969.8h0M1300.7 1021.2h0M1300.9 1022.3h0M1302.3 966.4h0M1302.5 1015.7h0M1304.0 964.2h0M1303.8 1019.4h0M1305.0 954.6h0M1305.1 952.5h0M1305.5 1017.3h0M1305.1 1020.6h0M1304.4 1016.2h0M1306.6 955.1h0M1306.5 952.9h0M1306.1 1016.2h0M1307.8 953.7h0M1307.9 952.7h0M1307.7 1016.4h0M1309.3 958.6h0M1309.4 1018.4h0M1310.3 954.0h0M1310.7 951.3h0M1311.2 1019.7h0M1310.7 1020.8h0M1312.5 952.2h0M1312.1 949.0h0M1311.9 1019.7h0M1313.8 952.4h0M1313.8 1014.8h0M1315.4 946.6h0M1314.9 941.5h0M1313.9 944.9h0M1314.4 1018.8h0M1316.1 945.4h0M1316.6 1015.3h0M1317.9 945.9h0M1317.3 1018.0h0M1318.8 945.3h0M1319.2 1018.4h0M1320.3 950.8h0M1320.5 937.5h0M1321.3 941.2h0M1320.4 1018.5h0M1321.7 952.0h0M1321.9 1017.5h0M1321.9 1021.8h0M1322.9 962.8h0M1323.0 1017.8h0M1324.7 961.1h0M1324.7 954.9h0M1324.4 959.4h0M1325.0 1020.8h0M1326.0 960.5h0M1326.2 1019.8h0M1327.0 961.0h0M1327.8 1017.8h0M1329.4 962.2h0M1328.5 1017.8h0M1330.2 957.2h0M1329.9 1022.6h0M1330.3 1023.7h0M1331.2 1020.5h0M1331.3 952.6h0M1331.9 1016.4h0M1333.3 942.7h0M1332.8 1018.5h0M1334.6 932.4h0M1334.6 1012.5h0M1335.5 930.6h0M1335.9 921.5h0M1336.7 926.3h0M1335.5 1014.4h0M1337.2 930.7h0M1336.8 1013.9h0M1338.8 932.7h0M1339.0 1015.2h0M1340.5 942.4h0M1340.2 1017.1h0M1341.5 942.2h0M1341.9 1019.0h0M1341.5 1020.3h0M1342.9 942.5h0M1342.9 1019.1h0M1344.5 945.3h0M1344.6 1017.0h0M1345.8 949.7h0M1345.5 1015.3h0M1346.9 949.2h0M1347.1 1015.8h0M1348.7 951.9h0M1348.6 1014.4h0M1350.0 958.4h0M1349.9 957.4h0M1350.0 1014.0h0M1351.6 967.8h0M1351.2 1016.8h0M1351.3 1018.3h0M1353.1 965.4h0M1352.7 1017.4h0M1354.2 962.3h0M1354.5 1016.5h0M1355.4 961.2h0M1355.6 1012.5h0M1355.5 1016.8h0M1357.2 962.7h0M1357.1 1015.0h0M1358.5 961.9h0M1358.2 1015.0h0M1359.6 963.9h0M1360.0 1020.6h0M1360.9 966.6h0M1361.6 1020.0h0M1361.1 1023.5h0M1362.4 967.5h0M1362.5 963.8h0M1362.6 1019.0h0M1363.8 971.2h0M1363.4 1023.0h0M1363.9 1024.2h0M1364.7 1021.1h0M1365.0 972.4h0M1365.0 1022.5h0M1365.3 1024.7h0M1366.9 975.7h0M1366.7 965.1h0M1366.7 969.3h0M1366.5 1023.8h0M1366.7 1024.4h0M1367.7 974.7h0M1368.2 1019.7h0M1369.5 975.0h0M1369.5 972.7h0M1369.7 1020.2h0M1370.9 975.2h0M1370.9 1024.5h0M1370.9 1026.1h0M1372.6 977.6h0M1372.8 1023.2h0M1373.6 979.1h0M1373.6 1024.7h0M1375.5 985.2h0M1375.1 1022.5h0M1376.1 985.0h0M1376.3 1023.8h0M1378.0 982.7h0M1377.6 1022.7h0M1379.4 975.2h0M1379.2 1021.8h0M1380.9 969.7h0M1380.2 1020.4h0M1382.1 963.3h0M1381.8 1019.0h0M1383.6 957.3h0M1383.9 1018.8h0M1384.8 952.9h0M1384.9 950.7h0M1384.8 1019.2h0M1386.1 952.2h0M1386.2 1016.1h0M1387.9 952.6h0M1387.7 949.1h0M1387.9 1019.3h0M1389.2 951.0h0M1388.8 1019.0h0M1389.1 1020.2h0M1390.4 951.2h0M1390.7 1017.5h0M1392.1 953.1h0M1391.9 950.3h0M1391.5 1017.9h0M1393.5 958.2h0M1393.3 955.5h0M1392.8 1016.4h0M1394.3 956.3h0M1394.7 951.1h0M1394.2 955.5h0M1394.3 1014.5h0M1396.2 952.6h0M1396.0 1017.0h0M1397.1 947.1h0M1397.5 939.4h0M1397.4 1014.6h0M1399.0 936.3h0M1398.6 1012.6h0M1398.9 1018.6h0M1399.0 1015.0h0M1400.4 930.0h0M1400.8 1012.4h0M1400.3 1017.8h0M1401.8 929.1h0M1401.7 924.0h0M1401.3 1015.2h0M1402.7 927.2h0M1402.7 1013.5h0M1404.9 926.5h0M1404.1 1016.2h0M1406.0 929.7h0M1405.9 1017.0h0M1407.0 938.5h0M1407.3 935.9h0M1406.9 1014.4h0M1408.3 940.7h0M1409.1 1017.1h0M1408.7 1018.4h0M1410.2 939.6h0M1410.0 1017.1h0M1411.4 937.5h0M1411.5 931.3h0M1411.0 1016.4h0M1413.4 922.3h0M1413.4 1015.4h0M1414.8 899.6h0M1414.1 1004.1h0M1415.2 890.7h0M1415.3 1002.3h0M1417.5 887.4h0M1417.0 993.2h0M1417.1 997.3h0M1418.8 889.9h0M1418.5 878.7h0M1418.1 883.2h0M1418.8 997.5h0M1420.4 893.9h0M1419.9 888.2h0M1420.2 999.0h0M1420.8 892.6h0M1421.6 1003.5h0M1422.5 904.2h0M1422.8 1013.6h0M1424.0 926.3h0M1424.1 920.8h0M1424.2 1013.2h0M1425.6 936.4h0M1426.0 1014.9h0M1426.7 938.4h0M1427.3 1015.0h0M1428.0 933.2h0M1428.3 926.7h0M1427.8 1010.4h0M1429.4 932.6h0M1429.5 1007.3h0M1430.6 932.3h0M1430.8 1009.7h0M1432.8 932.1h0M1432.7 1008.1h0M1432.5 1010.8h0M1433.7 929.9h0M1434.0 1009.9h0M1433.9 1011.3h0M1435.6 930.1h0M1435.2 1007.2h0M1436.6 929.5h0M1436.2 1005.3h0M1438.4 931.7h0M1438.1 925.2h0M1438.1 1009.8h0M1439.4 929.0h0M1439.4 1009.8h0M1441.2 926.2h0M1440.8 1009.7h0M1440.9 1011.3h0M1440.2 1007.2h0M1441.8 920.6h0M1442.5 1007.7h0M1443.3 920.5h0M1443.8 1008.9h0M1444.9 915.6h0M1444.8 1010.6h0M1445.1 1012.5h0M1445.7 1009.5h0M1446.3 914.2h0M1446.5 1010.2h0M1447.5 914.4h0M1447.9 1008.9h0M1449.0 912.0h0M1449.1 1009.7h0M1450.9 914.3h0M1450.7 910.4h0M1450.5 1006.0h0M1450.7 1011.5h0M1452.5 911.7h0M1451.7 1005.8h0M1453.9 907.5h0M1453.5 905.3h0M1453.3 1008.0h0M1455.4 901.7h0M1454.9 900.3h0M1455.2 1006.9h0M1456.3 895.8h0M1456.3 891.8h0M1456.8 1002.3h0M1458.1 892.8h0M1457.3 1002.8h0M1458.7 893.4h0M1459.3 999.5h0M1459.1 1002.8h0M1460.4 889.5h0M1460.4 999.8h0M1462.0 887.8h0M1461.9 884.6h0M1462.0 999.7h0M117.0 918.7h0M116.2 925.9h0M119.0 902.7h0M119.5 907.2h0M120.3 910.9h0M120.2 916.1h0M121.0 890.7h0M120.6 895.3h0M120.3 898.0h0M121.5 902.5h0M121.4 907.1h0M121.0 909.7h0M124.0 882.7h0M124.2 888.9h0M126.0 827.7h0M125.2 830.4h0M126.5 835.9h0M125.0 842.8h0M126.6 848.6h0M126.0 856.5h0M125.7 859.2h0M126.9 864.9h0M125.5 868.4h0M128.4 842.7h0M127.1 849.6h0M128.4 857.3h0M128.0 865.6h0M130.0 798.7h0M130.9 802.9h0M130.3 806.4h0M128.9 812.9h0M130.6 821.0h0M130.9 825.1h0M130.6 828.4h0M129.7 836.1h0M132.4 796.7h0M133.5 800.5h0M132.2 808.9h0M131.7 817.2h0M132.4 824.8h0M132.7 832.1h0M135.0 796.7h0M134.4 803.8h0M135.0 808.2h0M134.4 811.6h0M134.9 818.7h0M135.3 827.1h0M137.4 766.7h0M136.6 771.7h0M136.3 775.2h0M138.4 782.4h0M138.2 786.8h0M136.8 790.3h0M136.5 795.2h0M136.9 799.4h0M136.9 802.3h0M136.4 807.3h0M136.5 812.5h0M136.1 818.4h0M136.4 821.2h0M138.2 828.0h0M138.6 830.8h0M136.3 833.7h0M140.0 822.7h0M140.3 828.4h0M140.4 834.2h0M141.0 840.2h0M139.6 844.8h0M141.2 853.0h0M139.6 857.8h0M138.9 860.7h0M141.6 878.7h0M140.6 881.9h0M140.4 886.4h0M144.0 862.7h0M143.8 868.4h0M145.3 872.6h0M146.4 822.7h0M146.8 830.1h0M145.5 834.2h0M146.0 839.4h0M146.8 844.8h0M146.8 849.2h0M148.4 749.7h0M148.5 755.9h0M148.7 763.6h0M149.0 767.9h0M147.9 772.6h0M147.1 777.5h0M147.8 782.0h0M147.8 789.9h0M147.4 796.2h0M149.3 800.0h0M147.2 803.8h0M148.7 812.0h0M149.6 819.5h0M148.9 826.1h0M147.5 832.8h0M149.3 838.2h0M151.4 743.7h0M151.3 747.9h0M152.6 753.9h0M151.2 757.9h0M151.8 760.7h0M151.5 763.8h0M150.4 771.5h0M151.6 777.6h0M152.1 782.7h0M151.3 788.8h0M152.0 797.0h0M150.4 801.9h0M151.6 804.7h0M151.8 812.3h0M152.3 819.3h0M152.2 823.9h0M151.4 828.3h0M151.9 834.7h0M153.6 802.7h0M154.5 809.3h0M154.9 815.3h0M153.0 818.1h0M154.5 825.9h0M152.9 830.8h0M154.9 834.0h0M152.9 838.4h0M156.0 826.7h0M157.3 832.4h0M156.2 840.8h0M156.5 846.8h0M155.9 851.3h0M157.2 856.3h0M154.8 861.5h0M158.6 842.7h0M159.9 846.4h0M158.7 854.1h0M158.3 861.8h0M158.2 865.4h0M162.4 841.7h0M163.7 847.6h0M161.6 855.5h0M163.1 862.7h0M162.3 869.1h0M163.2 872.7h0M165.0 872.7h0M164.2 879.4h0M164.9 883.9h0M168.0 842.7h0M168.0 845.3h0M167.2 850.4h0M168.9 854.9h0M168.4 860.0h0M169.2 864.3h0M170.6 761.3h0M171.2 767.7h0M170.2 775.7h0M169.6 780.4h0M170.9 783.1h0M171.3 790.6h0M171.7 798.5h0M170.2 803.0h0M171.4 808.3h0M169.3 814.1h0M171.1 821.3h0M171.5 827.6h0M170.4 830.3h0M171.1 835.0h0M171.7 841.7h0M169.9 848.3h0M171.0 851.5h0M171.2 856.8h0M170.8 859.6h0M173.0 768.3h0M174.0 775.7h0M173.4 782.1h0M171.8 785.0h0M173.2 790.5h0M172.4 798.6h0M173.6 804.1h0M173.1 809.7h0M174.2 818.1h0M174.3 821.1h0M173.0 826.8h0M173.6 831.0h0M172.7 838.9h0M172.5 842.0h0M173.7 847.3h0M173.5 853.5h0M172.3 861.5h0M178.0 894.7h0M177.1 902.1h0M180.0 878.7h0M180.7 881.4h0M178.8 888.0h0M182.4 840.7h0M182.0 844.9h0M183.3 852.7h0M181.3 856.6h0M181.8 860.8h0M181.4 865.9h0M181.9 870.4h0M183.6 873.9h0M183.4 880.5h0M181.8 886.1h0M181.6 890.6h0M185.0 878.7h0M184.3 886.3h0M188.0 879.7h0M188.8 885.3h0M189.0 888.1h0M191.0 878.7h0M192.1 884.3h0M193.0 842.7h0M192.7 848.8h0M193.5 855.8h0M192.5 858.4h0M192.5 863.0h0M194.1 869.4h0M195.0 838.7h0M194.3 843.6h0M194.5 846.5h0M195.1 852.4h0M195.3 860.2h0M193.7 865.3h0M197.4 791.7h0M198.3 795.8h0M197.0 802.8h0M196.2 808.8h0M198.4 815.8h0M198.5 823.7h0M198.3 827.3h0M196.2 833.3h0M200.0 782.7h0M199.7 789.7h0M199.6 793.8h0M200.7 798.8h0M201.0 803.9h0M202.4 763.7h0M203.7 769.0h0M203.1 773.2h0M202.0 778.4h0M202.0 781.4h0M201.5 789.8h0M202.5 794.7h0M201.3 799.6h0M205.0 778.7h0M205.5 784.4h0M203.8 790.7h0M204.3 796.9h0M208.0 764.7h0M206.9 770.5h0M207.8 775.9h0M208.1 780.4h0M208.3 788.2h0M210.6 753.7h0M210.8 757.8h0M209.9 764.7h0M211.4 772.5h0M209.9 777.1h0M210.9 780.2h0M210.9 787.9h0M209.7 791.4h0M210.7 796.7h0M214.0 760.7h0M213.9 764.3h0M213.1 771.5h0M214.6 774.9h0M213.8 777.9h0M213.3 784.5h0M215.2 791.5h0M217.6 741.7h0M218.0 745.1h0M218.3 751.1h0M218.2 757.6h0M217.7 764.2h0M216.4 771.2h0M218.9 778.4h0M218.2 784.1h0M217.6 789.4h0M216.9 793.5h0M220.0 768.7h0M220.0 776.6h0M219.2 783.5h0M220.9 786.8h0M219.1 791.0h0M222.4 722.7h0M223.4 729.6h0M222.3 732.6h0M223.4 737.9h0M223.4 741.2h0M221.5 748.9h0M221.8 757.2h0M223.2 763.1h0M223.4 662.7h0M224.2 668.9h0M224.5 672.0h0M223.7 677.3h0M223.7 683.4h0M224.5 689.8h0M222.9 698.2h0M224.5 701.6h0M223.8 707.3h0M222.4 711.4h0M222.4 715.4h0M224.1 723.5h0M223.4 731.3h0M223.8 738.2h0M222.4 744.5h0M225.6 661.7h0M224.5 666.6h0M226.1 670.7h0M226.1 673.8h0M225.8 680.6h0M226.3 683.2h0M225.5 686.5h0M224.4 693.4h0M225.0 700.5h0M224.5 703.3h0M225.7 711.6h0M226.2 716.3h0M225.6 723.5h0M226.5 731.1h0M228.0 661.7h0M227.1 667.8h0M228.5 670.9h0M228.9 677.6h0M227.5 685.6h0M227.5 688.9h0M228.5 692.6h0M229.2 700.3h0M227.6 702.9h0M227.3 709.8h0M226.9 713.3h0M227.8 717.7h0M227.7 720.2h0M226.7 727.7h0M230.6 661.7h0M230.6 664.6h0M231.3 670.3h0M229.3 678.1h0M231.3 681.2h0M230.4 687.3h0M230.1 693.8h0M230.5 700.8h0M229.9 707.3h0M230.6 714.3h0M231.3 718.2h0M229.5 725.6h0M230.1 734.0h0M230.5 737.3h0M231.5 742.0h0M231.5 744.8h0M232.4 701.7h0M232.3 706.4h0M231.3 711.8h0M233.6 715.2h0M232.4 720.9h0M232.2 724.6h0M233.7 728.1h0M231.8 736.4h0M232.1 740.2h0M232.0 748.5h0M232.9 753.3h0M231.2 759.7h0M235.0 720.7h0M234.5 726.3h0M233.8 731.3h0M233.9 733.8h0M235.1 737.1h0M233.8 740.9h0M235.3 748.8h0M235.8 751.5h0M234.2 756.3h0M236.0 761.0h0M235.7 769.3h0M237.0 736.7h0M238.3 740.6h0M236.3 745.9h0M236.2 749.5h0M237.9 754.9h0M235.9 760.2h0M238.0 765.1h0M235.7 769.0h0M237.7 775.2h0M236.5 780.2h0M235.9 784.5h0M239.0 786.7h0M238.7 793.0h0M239.8 799.6h0M238.6 804.2h0M242.0 782.7h0M243.0 786.9h0M241.0 792.2h0M242.4 798.9h0M242.6 805.3h0M246.0 770.7h0M244.9 774.4h0M246.7 781.1h0M245.9 784.3h0M248.4 688.7h0M248.2 693.7h0M248.7 699.3h0M248.5 705.5h0M247.5 711.6h0M249.6 719.1h0M247.5 723.7h0M247.3 727.1h0M247.4 733.6h0M247.2 741.4h0M248.7 749.3h0M247.9 756.8h0M248.5 764.4h0M249.6 772.5h0M248.4 777.4h0M249.5 785.8h0M250.6 671.7h0M249.8 675.5h0M250.6 681.6h0M251.6 684.7h0M250.2 687.5h0M250.2 693.9h0M250.1 696.7h0M249.8 703.0h0M250.3 708.6h0M251.1 716.6h0M249.5 720.7h0M251.1 726.6h0M250.0 730.6h0M250.5 735.7h0M251.7 740.4h0M250.0 745.0h0M251.8 747.9h0M251.1 756.2h0M251.3 762.9h0M251.2 771.3h0M249.4 775.0h0M251.4 782.6h0M250.8 788.3h0M252.4 690.7h0M252.9 696.5h0M253.7 702.1h0M251.9 708.3h0M253.0 713.5h0M252.1 716.6h0M252.6 724.5h0M252.5 727.8h0M251.4 733.6h0M253.5 738.0h0M251.6 746.1h0M252.3 748.7h0M252.5 752.1h0M253.3 756.5h0M251.7 763.4h0M251.7 768.1h0M253.4 771.2h0M251.4 774.4h0M252.6 780.7h0M252.0 784.1h0M253.5 789.9h0M253.6 758.7h0M253.6 761.5h0M254.1 769.7h0M253.6 776.8h0M253.2 784.9h0M252.4 788.5h0M256.0 814.7h0M256.9 822.9h0M257.3 831.0h0M256.0 835.9h0M254.9 839.6h0M255.6 844.0h0M259.0 830.7h0M258.8 834.4h0M258.1 837.2h0M258.4 839.8h0M258.9 844.1h0M258.1 850.9h0M261.6 782.7h0M261.0 790.7h0M262.2 798.4h0M262.1 802.7h0M260.5 811.1h0M262.3 815.2h0M262.0 823.3h0M260.4 829.1h0M262.1 834.2h0M261.1 841.3h0M262.4 844.1h0M265.0 814.7h0M264.5 822.5h0M265.4 830.4h0M265.5 837.8h0M268.6 795.7h0M268.3 800.8h0M267.9 805.6h0M268.4 813.4h0M268.2 817.8h0M267.9 824.3h0M269.6 829.8h0M269.4 835.5h0M273.0 804.7h0M273.0 807.5h0M271.8 812.2h0M273.6 815.6h0M272.7 819.7h0M272.0 823.7h0M271.9 828.6h0M273.9 833.6h0M273.1 839.9h0M277.6 814.7h0M277.8 819.3h0M277.8 826.5h0M278.7 830.5h0M278.4 838.1h0M278.1 841.9h0M277.9 846.3h0M277.8 852.6h0M280.0 842.7h0M279.2 847.7h0M280.5 855.7h0M281.1 862.2h0M280.0 869.8h0M279.7 873.2h0M280.6 878.3h0M281.6 868.7h0M281.6 875.5h0M281.7 883.0h0M280.4 889.4h0M286.0 860.7h0M285.3 863.5h0M287.0 871.0h0M286.2 874.6h0M285.4 880.8h0M290.0 858.7h0M291.2 863.3h0M292.0 788.7h0M292.6 796.3h0M290.9 799.7h0M291.4 803.1h0M292.3 810.7h0M291.4 818.5h0M290.8 821.1h0M291.5 824.5h0M291.2 832.2h0M293.6 788.7h0M293.2 791.7h0M293.5 795.9h0M293.5 800.0h0M292.5 805.5h0M293.9 809.3h0M293.2 816.8h0M293.8 822.2h0M296.0 772.7h0M296.5 778.6h0M295.3 784.5h0M297.0 788.3h0M296.2 795.2h0M296.9 798.8h0M295.9 802.6h0M295.5 809.9h0M298.6 761.7h0M297.4 764.3h0M298.2 767.5h0M298.7 772.5h0M299.5 777.8h0M298.7 780.4h0M298.6 785.1h0M299.3 792.6h0M299.9 801.1h0M299.7 806.0h0M297.4 811.0h0M302.0 772.7h0M303.1 777.7h0M302.7 782.3h0M301.8 788.7h0M301.0 792.0h0M302.3 799.9h0M301.4 803.9h0M304.0 752.7h0M304.1 755.3h0M303.0 760.8h0M303.4 765.4h0M303.9 772.2h0M303.2 779.5h0M305.2 784.0h0M303.6 792.4h0M305.1 796.5h0M303.5 804.2h0M306.6 752.7h0M305.8 761.2h0M307.5 765.1h0M307.3 770.8h0M306.5 777.6h0M305.4 785.3h0M307.8 788.8h0M306.0 791.9h0M306.5 794.8h0M307.4 798.7h0M307.1 801.6h0M306.1 809.9h0M307.9 814.8h0M309.0 782.7h0M310.1 790.0h0M309.0 796.1h0M308.6 798.9h0M309.9 803.7h0M310.3 809.3h0M310.2 815.8h0M311.0 830.7h0M311.7 837.7h0M311.3 843.5h0M312.2 846.7h0M313.6 806.7h0M313.4 809.6h0M314.7 816.7h0M313.7 820.7h0M313.4 825.8h0M312.8 829.3h0M313.3 834.9h0M314.0 841.1h0M313.3 846.5h0M316.6 772.7h0M316.0 778.2h0M315.6 781.8h0M317.2 788.3h0M316.5 793.6h0M317.8 798.1h0M316.5 801.6h0M316.9 807.6h0M316.7 815.6h0M315.8 822.7h0M315.4 830.4h0M317.2 834.4h0M317.1 838.2h0M317.5 845.5h0M316.0 852.2h0M315.3 860.6h0M318.6 814.7h0M317.7 820.3h0M318.7 826.1h0M319.1 832.3h0M319.3 835.6h0M318.1 842.4h0M319.0 846.3h0M318.3 852.4h0M317.5 858.5h0M319.6 863.6h0M319.6 866.9h0M318.4 870.2h0M317.4 877.8h0M317.5 884.0h0M319.3 891.3h0M318.7 898.5h0M319.4 882.7h0M318.5 888.1h0M320.1 891.9h0M319.0 895.6h0M320.7 901.5h0M319.1 906.4h0M319.4 911.0h0M318.8 916.5h0M318.3 920.2h0M320.2 928.2h0M318.2 933.4h0M328.0 1006.7h0M334.0 1004.7h0M340.0 1004.7h0M345.0 1005.7h0M348.6 995.7h0M347.4 1000.3h0M352.0 1005.7h0M358.0 1013.7h0M364.0 1016.7h0M370.0 1017.7h0M375.0 1015.7h0M378.6 1000.7h0M378.1 1003.5h0M379.1 1010.4h0M382.0 1016.7h0M387.0 1015.7h0M392.0 1018.7h0M403.0 1004.7h0M406.0 1000.7h0M408.4 993.7h0M407.7 999.5h0M408.4 1003.3h0M411.0 1001.7h0M413.4 997.1h0M413.8 1003.0h0M422.0 1022.6h0M428.0 1022.6h0M431.0 1014.6h0M435.0 1006.7h0M439.0 993.7h0M443.0 991.7h0M447.0 994.7h0M448.2 997.4h0M453.0 1004.7h0M460.0 1015.6h0M464.0 1016.6h0M467.6 1012.6h0M479.0 1024.6h0M483.0 1025.6h0M485.9 1016.6h0M488.9 1011.2h0M489.0 1015.8h0M491.9 1016.6h0M497.9 1022.6h0M504.9 1018.6h0M511.9 1023.6h0M517.9 1016.6h0M520.5 1014.6h0M519.7 1017.5h0M523.5 1018.6h0M535.9 1028.6h0M549.9 1028.6h0M553.9 1025.6h0M559.9 1024.6h0M565.3 1000.7h0M566.5 1008.6h0M565.2 1012.1h0M567.5 998.7h0M566.4 1002.6h0M568.0 1006.8h0M569.9 1004.7h0M573.9 1006.7h0M577.9 1008.6h0M589.9 1016.6h0M593.9 1014.6h0M597.9 1010.6h0M600.9 1008.6h0M607.9 1004.7h0M610.3 1000.7h0M615.9 1008.6h0M619.3 1004.7h0M626.9 1005.7h0M629.5 990.7h0M631.5 988.3h0M630.9 995.4h0M633.9 998.7h0M638.3 997.7h0M640.9 996.7h0M642.9 979.7h0M645.9 976.7h0M647.9 960.7h0M647.6 966.5h0M649.5 943.7h0M649.9 949.3h0M650.3 955.5h0M648.3 963.6h0M650.1 967.1h0M651.4 964.7h0M652.1 968.0h0M653.8 967.7h0M660.8 970.7h0M663.4 960.3h0M664.1 965.0h0M665.8 964.7h0M665.1 970.0h0M675.8 999.7h0M679.8 998.7h0M681.8 988.7h0M683.4 982.3h0M688.4 983.1h0M694.0 988.7h0M697.0 986.7h0M704.0 980.7h0M711.0 972.7h0M714.0 977.7h0M717.6 972.7h0M721.0 983.7h0M723.6 959.7h0M722.9 962.9h0M724.1 966.5h0M723.4 969.3h0M722.8 971.8h0M725.6 956.1h0M726.7 960.4h0M724.4 966.7h0M725.0 970.7h0M728.0 967.7h0M732.0 973.7h0M736.0 977.7h0M740.0 981.7h0M743.0 973.3h0M742.9 977.5h0M743.2 980.4h0M746.0 987.7h0M758.0 1007.7h0M763.0 1009.7h0M767.0 985.7h0M769.0 965.7h0M768.9 972.0h0M768.2 980.0h0M768.4 983.2h0M771.6 959.1h0M770.3 965.8h0M770.8 970.2h0M772.4 975.1h0M770.5 982.3h0M771.4 985.5h0M774.0 967.7h0M774.5 972.1h0M775.2 980.4h0M774.4 987.2h0M774.1 993.2h0M776.0 999.7h0M782.0 1008.7h0M786.0 1015.7h0M792.0 1013.7h0M798.0 1015.7h0M804.0 1009.7h0M808.0 1016.7h0M814.0 1017.7h0M820.0 1016.7h0M828.4 787.7h0M827.5 791.9h0M829.2 795.1h0M827.8 803.1h0M828.0 809.8h0M827.4 812.9h0M829.3 819.1h0M827.7 825.2h0M828.7 828.4h0M829.5 831.1h0M827.7 838.4h0M828.3 844.4h0M827.7 851.5h0M829.0 855.9h0M828.7 860.9h0M828.6 866.9h0M829.7 870.4h0M828.5 877.2h0M827.8 881.2h0M827.5 884.4h0M827.5 891.7h0M829.6 736.1h0M828.6 742.9h0M830.8 748.2h0M829.1 754.5h0M830.4 758.2h0M830.1 766.1h0M828.5 773.1h0M828.5 777.9h0M830.1 781.1h0M830.3 784.8h0M829.9 789.4h0M830.4 794.1h0M830.3 799.4h0M829.2 806.7h0M829.7 809.7h0M828.7 812.8h0M830.4 820.4h0M828.6 827.5h0M828.6 834.5h0M829.5 842.6h0M829.0 845.9h0M830.5 851.3h0M828.9 858.5h0M830.4 864.6h0M828.9 868.5h0M830.8 873.2h0M829.7 877.6h0M830.1 880.4h0M829.5 883.4h0M830.8 787.7h0M831.4 794.0h0M830.9 801.2h0M831.3 807.8h0M831.2 816.3h0M831.9 822.6h0M829.7 829.7h0M831.9 834.8h0M829.8 842.0h0M831.1 846.4h0M829.7 850.2h0M831.6 855.6h0M831.1 859.5h0M831.0 865.4h0M829.8 868.5h0M830.8 871.9h0M831.7 877.0h0M832.4 837.7h0M831.4 844.8h0M831.2 847.6h0M833.0 851.9h0M831.2 857.1h0M831.5 865.1h0M834.0 827.7h0M832.8 833.9h0M833.5 838.2h0M835.2 747.7h0M834.0 753.5h0M834.0 761.3h0M834.5 765.8h0M836.0 770.7h0M835.4 776.8h0M835.9 784.6h0M834.0 788.7h0M835.2 793.5h0M835.2 797.9h0M836.5 806.3h0M835.0 811.3h0M835.2 816.3h0M836.4 723.7h0M837.5 727.0h0M836.3 730.4h0M835.3 735.5h0M837.0 740.7h0M835.4 744.5h0M837.2 751.3h0M837.1 755.6h0M835.7 760.6h0M837.6 763.5h0M835.9 768.6h0M836.6 774.8h0M837.0 777.6h0M836.3 783.5h0M835.7 788.1h0M837.6 792.0h0M836.7 795.6h0M836.4 798.2h0M835.9 801.1h0M836.8 807.0h0M837.3 810.0h0M837.6 723.7h0M836.7 729.8h0M837.0 733.1h0M838.4 737.0h0M837.2 741.6h0M836.3 746.1h0M836.5 752.3h0M838.9 757.0h0M838.3 762.6h0M837.6 767.9h0M838.6 774.1h0M837.1 778.6h0M838.1 781.8h0M837.7 788.0h0M837.8 791.0h0M837.6 795.8h0M836.8 799.3h0M839.0 731.7h0M838.7 739.0h0M839.1 742.7h0M838.4 751.1h0M839.1 758.1h0M839.2 763.1h0M839.6 766.2h0M837.8 772.4h0M838.7 777.0h0M839.3 784.1h0M840.3 788.9h0M839.3 792.8h0M843.0 731.7h0M842.9 739.6h0M844.0 742.3h0M842.5 749.7h0M841.7 755.2h0M842.6 760.3h0M843.3 763.4h0M843.5 766.0h0M844.3 771.9h0M843.6 779.6h0M842.4 784.1h0M842.1 788.6h0M842.1 794.8h0M843.4 799.4h0M846.4 747.7h0M846.1 754.7h0M847.4 760.1h0M847.2 767.0h0M847.1 771.5h0M847.1 779.2h0M847.5 782.9h0M846.3 788.5h0M846.7 795.8h0M846.8 800.4h0M846.7 804.1h0M846.0 811.3h0M847.0 815.4h0M845.5 823.7h0M848.0 813.7h0M847.0 821.2h0M848.5 825.6h0M847.6 831.2h0M847.8 838.2h0M850.0 787.7h0M851.1 796.1h0M849.8 804.2h0M849.5 810.1h0M849.8 815.1h0M849.6 821.7h0M848.8 829.0h0M849.2 836.2h0M851.1 839.4h0M851.2 757.7h0M851.2 765.7h0M852.3 770.0h0M850.8 773.5h0M851.2 778.6h0M850.6 785.3h0M850.6 791.3h0M850.3 797.5h0M850.3 802.5h0M850.8 807.7h0M851.9 810.4h0M852.0 815.2h0M850.1 818.6h0M852.0 823.9h0M851.8 830.2h0M852.1 835.1h0M852.4 745.7h0M852.5 751.6h0M852.0 759.8h0M852.2 765.1h0M853.6 767.7h0M851.4 774.4h0M852.3 780.7h0M851.8 787.2h0M853.1 794.2h0M851.8 799.9h0M851.4 806.5h0M851.5 814.0h0M852.1 821.7h0M852.5 828.3h0M853.0 835.0h0M854.0 757.7h0M853.1 762.4h0M855.3 767.8h0M853.8 774.7h0M852.8 780.3h0M855.1 782.9h0M853.3 788.2h0M852.9 794.7h0M853.9 797.3h0M853.9 805.0h0M852.8 811.7h0M855.0 817.1h0M855.0 821.0h0M855.2 825.5h0M853.9 831.4h0M855.1 838.9h0M855.2 807.7h0M856.2 812.4h0M855.3 820.2h0M854.7 827.2h0M854.1 829.8h0M854.5 834.1h0M855.2 838.4h0M854.4 844.3h0M854.9 851.8h0M855.6 857.8h0M856.3 862.0h0M855.8 867.1h0M856.0 897.7h0M856.9 906.2h0M859.0 901.7h0M858.3 904.6h0M858.2 909.1h0M858.1 912.4h0M859.6 918.6h0M861.6 919.7h0M860.9 926.2h0M864.0 935.7h0M866.0 911.7h0M865.7 919.5h0M869.0 884.7h0M868.1 889.5h0M868.3 896.2h0M868.2 902.1h0M869.9 905.6h0M872.0 881.7h0M872.0 886.7h0M874.0 829.7h0M875.0 832.7h0M873.8 836.5h0M875.0 840.0h0M874.7 845.4h0M873.7 849.8h0M873.6 857.4h0M873.2 864.8h0M874.2 872.4h0M877.0 827.7h0M877.7 830.9h0M878.1 838.1h0M876.3 842.2h0M876.9 845.1h0M876.3 847.9h0M876.6 855.0h0M877.4 859.2h0M876.3 866.5h0M876.3 871.9h0M879.0 837.7h0M877.7 842.2h0M879.1 849.2h0M878.9 852.3h0M879.7 856.5h0M879.5 862.3h0M880.2 867.5h0M881.0 847.7h0M880.4 855.1h0M879.8 858.8h0M880.8 865.9h0M880.5 869.8h0M883.0 817.7h0M883.1 825.7h0M883.5 833.2h0M883.7 838.0h0M883.4 845.2h0M884.0 849.5h0M884.1 857.4h0M885.0 807.7h0M885.0 814.5h0M885.4 822.1h0M886.2 825.6h0M886.0 830.3h0M885.2 836.3h0M884.1 841.3h0M884.9 849.7h0M886.4 801.7h0M887.4 806.6h0M887.3 812.7h0M887.3 817.6h0M886.2 821.0h0M885.6 823.9h0M886.5 831.9h0M886.5 838.5h0M886.7 845.5h0M885.7 848.5h0M887.4 793.7h0M887.5 799.5h0M886.7 802.8h0M887.2 808.6h0M887.0 815.9h0M887.7 823.8h0M886.7 826.7h0M887.0 832.5h0M887.8 837.3h0M887.3 843.3h0M887.3 851.2h0M888.6 803.7h0M888.6 808.5h0M887.8 815.7h0M887.9 823.5h0M889.7 828.0h0M887.8 832.3h0M888.8 837.8h0M888.6 844.5h0M888.0 847.8h0M889.5 851.7h0M888.8 855.8h0M890.0 847.7h0M890.6 851.7h0M888.9 859.1h0M891.0 862.5h0M891.2 865.8h0M889.1 872.5h0M890.7 878.2h0M890.4 881.6h0M891.6 887.7h0M890.8 890.7h0M892.2 894.4h0M892.2 897.9h0M892.4 902.0h0M898.0 887.7h0M897.3 890.5h0M899.2 893.9h0M898.9 901.2h0M897.8 906.8h0M900.4 882.1h0M901.7 885.3h0M900.6 892.6h0M900.3 900.0h0M900.0 904.8h0M904.0 885.7h0M904.5 893.8h0M904.1 900.6h0M907.6 882.1h0M908.3 890.3h0M907.6 898.2h0M906.3 902.5h0M910.0 891.7h0M909.0 899.4h0M911.2 903.1h0M910.8 908.2h0M910.2 911.5h0M912.0 921.7h0M915.0 919.7h0M916.3 923.7h0M917.6 867.7h0M917.9 872.1h0M918.3 880.3h0M916.3 884.7h0M920.0 797.7h0M919.9 800.6h0M919.2 803.3h0M921.0 810.7h0M920.5 814.0h0M921.3 821.5h0M920.1 824.2h0M919.0 828.2h0M918.9 834.5h0M918.9 842.3h0M919.0 850.5h0M919.4 856.3h0M920.3 862.4h0M921.0 864.9h0M920.1 871.3h0M921.6 777.7h0M922.8 785.4h0M921.2 792.6h0M922.5 798.5h0M920.5 804.4h0M922.9 807.5h0M922.0 812.9h0M920.7 816.4h0M922.3 821.8h0M920.9 824.5h0M921.3 830.0h0M920.3 832.9h0M922.6 838.9h0M921.7 842.3h0M922.3 847.6h0M922.6 855.2h0M921.6 858.4h0M921.6 865.6h0M921.9 868.7h0M923.0 797.7h0M923.0 804.3h0M922.1 808.9h0M921.8 816.3h0M923.2 821.6h0M922.8 828.8h0M922.2 834.4h0M922.9 838.6h0M921.8 842.1h0M922.1 845.1h0M922.5 851.9h0M922.0 854.9h0M923.1 860.5h0M923.9 868.6h0M922.9 873.3h0M925.0 867.7h0M926.2 872.6h0M924.2 879.9h0M930.0 937.7h0M930.5 943.7h0M932.4 927.7h0M932.7 932.7h0M931.8 937.1h0M933.1 942.8h0M935.0 935.7h0M937.0 871.7h0M935.9 877.3h0M936.9 882.2h0M935.8 887.7h0M935.8 893.9h0M936.3 900.1h0M936.4 907.1h0M939.6 849.7h0M939.4 855.3h0M940.8 863.6h0M939.4 869.0h0M939.4 871.7h0M939.8 879.5h0M939.8 883.5h0M939.6 887.8h0M941.6 848.7h0M942.5 854.2h0M941.5 857.6h0M941.5 861.7h0M940.5 865.0h0M942.2 872.1h0M941.1 878.1h0M944.0 867.7h0M945.2 872.9h0M943.6 876.6h0M943.2 882.8h0M947.0 873.7h0M946.8 878.9h0M946.7 884.8h0M946.9 889.0h0M947.2 895.5h0M949.4 867.7h0M949.0 874.2h0M948.4 880.8h0M948.4 885.3h0M948.1 888.9h0M950.2 895.6h0M948.2 903.6h0M949.0 909.7h0M951.6 877.7h0M952.2 882.1h0M951.4 884.8h0M952.0 893.2h0M951.3 901.5h0M951.8 906.2h0M951.7 909.1h0M950.7 912.4h0M954.0 935.7h0M955.2 943.6h0M960.4 910.7h0M961.6 918.9h0M959.4 927.3h0M960.4 930.8h0M963.0 921.7h0M962.8 928.2h0M966.0 927.7h0M969.0 921.7h0M969.3 927.3h0M969.1 932.3h0M971.6 903.7h0M971.4 912.1h0M970.8 919.0h0M971.0 921.6h0M970.5 924.8h0M973.6 888.7h0M973.9 895.3h0M972.7 899.5h0M973.6 904.9h0M974.1 912.8h0M973.6 919.5h0M972.5 924.1h0M973.6 927.3h0M976.0 907.7h0M975.7 912.3h0M975.4 920.1h0M976.6 924.9h0M975.6 927.5h0M975.3 932.5h0M979.0 913.7h0M979.0 917.9h0M979.8 922.4h0M979.8 927.7h0M977.9 931.4h0M977.9 936.9h0M981.6 889.3h0M981.2 894.6h0M981.1 900.6h0M982.4 903.9h0M982.8 909.4h0M982.5 914.9h0M982.3 922.1h0M982.8 928.5h0M981.8 934.5h0M984.0 931.7h0M982.9 939.7h0M987.0 943.7h0M990.0 919.7h0M989.6 923.8h0M989.6 931.9h0M989.5 938.3h0M990.8 941.7h0M992.0 918.7h0M990.8 924.8h0M991.9 932.4h0M992.1 938.5h0M993.3 944.4h0M994.4 947.7h0M997.0 955.7h0M1002.4 951.7h0M1001.4 957.2h0M1004.4 920.7h0M1005.1 927.3h0M1004.1 933.8h0M1004.8 939.6h0M1003.5 945.2h0M1005.0 950.2h0M1004.5 956.8h0M1004.1 959.5h0M1006.4 957.7h0M1010.0 955.7h0M1013.0 956.7h0M1016.0 954.7h0M1019.0 967.7h0M1022.0 959.7h0M1024.4 935.7h0M1023.9 943.9h0M1023.3 951.8h0M1025.0 959.7h0M1027.0 967.7h0M1033.0 957.7h0M1033.4 961.2h0M1035.6 931.7h0M1035.0 939.6h0M1035.5 944.3h0M1034.4 950.3h0M1034.7 955.5h0M1038.0 927.3h0M1036.8 930.4h0M1038.2 933.9h0M1037.6 940.9h0M1037.0 947.6h0M1037.3 953.9h0M1040.0 947.7h0M1039.8 954.9h0M1043.0 965.7h0M1046.0 977.7h0M1052.0 991.7h0M1062.0 967.7h0M1061.9 971.7h0M1065.0 964.7h0M1065.7 972.5h0M1068.0 979.7h0M1071.0 981.7h0M1074.0 990.7h0M1084.0 947.7h0M1084.4 955.5h0M1083.4 960.5h0M1083.6 965.4h0M1085.0 970.5h0M1085.4 920.1h0M1084.3 927.1h0M1084.9 930.3h0M1086.4 934.8h0M1084.5 941.9h0M1084.5 946.5h0M1084.1 949.2h0M1085.4 957.1h0M1084.3 963.8h0M1085.5 968.9h0M1087.0 947.7h0M1086.6 951.2h0M1087.2 957.8h0M1087.4 962.0h0M1086.0 964.8h0M1086.8 972.5h0M1091.0 963.7h0M1090.5 967.8h0M1094.0 959.7h0M1094.9 964.2h0M1098.0 961.7h0M1097.6 967.4h0M1100.0 977.7h0M1104.0 983.7h0M1108.0 983.7h0M1117.6 989.7h0M1123.0 991.7h0M1125.6 983.7h0M1125.3 989.2h0M1129.0 991.7h0M1132.0 1007.7h0M1138.6 1005.7h0M1142.0 1007.7h0M1144.4 1000.7h0M1148.0 1009.7h0M1157.0 1015.7h0M1163.0 995.7h0M1167.6 990.7h0M1167.0 994.1h0M1170.0 999.7h0M1181.0 1011.7h0M1185.0 1001.7h0M1186.1 1008.1h0M1188.0 1011.7h0M1196.0 1005.7h0M1203.0 987.7h0M1205.6 973.7h0M1205.5 978.7h0M1204.8 982.1h0M1208.0 987.7h0M1215.0 1001.7h0M1220.0 1005.7h0M1229.0 997.7h0M1232.4 999.7h0M1235.6 992.7h0M1242.4 987.7h0M1242.4 993.8h0M1244.6 977.7h0M1245.4 981.0h0M1243.3 986.8h0M1245.7 994.2h0M1257.0 997.7h0M1263.0 984.7h0M1265.6 977.7h0M1267.6 970.7h0M1268.7 977.2h0M1266.7 979.8h0M1270.0 983.7h0M1273.0 977.7h0M1274.0 975.7h0M1277.0 973.7h0M1278.3 976.5h0M1281.0 972.7h0M1284.0 987.7h0M1290.0 979.7h0M1296.6 971.7h0M1300.0 967.7h0M1303.0 955.7h0M1302.7 959.8h0M1306.0 935.7h0M1305.9 938.3h0M1305.4 940.8h0M1306.0 948.8h0M1308.0 931.7h0M1307.4 934.4h0M1307.7 941.3h0M1306.8 945.5h0M1306.8 948.1h0M1311.0 947.7h0M1314.0 927.7h0M1314.6 931.0h0M1313.4 937.4h0M1314.3 942.2h0M1316.0 919.7h0M1315.5 927.7h0M1316.0 931.0h0M1316.0 936.8h0M1316.9 940.6h0M1318.6 903.7h0M1318.0 909.0h0M1318.5 915.8h0M1317.8 919.0h0M1319.6 922.8h0M1317.4 928.3h0M1318.5 932.2h0M1317.4 936.9h0M1321.0 931.7h0M1321.4 940.1h0M1324.0 955.7h0M1327.4 934.7h0M1328.4 941.8h0M1328.6 946.5h0M1326.7 950.3h0M1326.5 956.8h0M1330.0 951.7h0M1332.6 927.7h0M1333.1 934.9h0M1333.7 940.6h0M1335.0 905.7h0M1335.5 914.1h0M1336.2 918.4h0M1334.7 921.2h0M1335.6 928.6h0M1338.0 906.7h0M1339.3 910.1h0M1337.5 913.2h0M1338.0 919.4h0M1337.7 925.0h0M1341.0 907.7h0M1342.0 916.0h0M1342.1 918.7h0M1339.9 926.1h0M1342.0 933.8h0M1343.4 927.7h0M1343.4 933.6h0M1345.0 905.7h0M1345.7 913.2h0M1345.7 915.8h0M1345.9 921.1h0M1345.5 925.2h0M1344.2 930.8h0M1345.3 938.2h0M1344.1 940.7h0M1347.0 900.1h0M1347.1 903.9h0M1345.7 906.9h0M1347.9 914.2h0M1346.0 918.8h0M1346.5 924.7h0M1347.8 932.9h0M1347.5 938.9h0M1346.2 943.2h0M1349.0 947.7h0M1352.0 959.7h0M1355.0 954.7h0M1359.0 950.7h0M1359.8 954.9h0M1362.6 948.7h0M1362.9 952.7h0M1361.6 955.4h0M1362.8 959.2h0M1365.0 963.7h0M1368.0 965.7h0M1371.4 960.7h0M1371.0 963.8h0M1370.9 968.3h0M1374.0 971.7h0M1372.9 977.4h0M1377.0 981.7h0M1380.0 955.7h0M1379.2 960.6h0M1383.0 947.7h0M1382.5 951.9h0M1383.1 957.2h0M1385.4 934.7h0M1385.7 942.7h0M1388.0 932.7h0M1387.7 935.3h0M1387.0 938.2h0M1387.8 946.0h0M1391.0 937.7h0M1391.8 940.7h0M1390.8 947.4h0M1394.0 947.7h0M1394.9 952.6h0M1397.0 931.7h0M1396.3 935.4h0M1395.9 941.0h0M1397.6 944.0h0M1399.0 901.7h0M1399.9 906.3h0M1398.8 913.9h0M1399.1 919.3h0M1399.0 924.1h0M1398.4 928.9h0M1399.0 932.2h0M1400.6 890.7h0M1399.8 893.8h0M1401.7 900.8h0M1401.6 905.8h0M1401.2 913.9h0M1400.6 920.7h0M1403.0 899.7h0M1404.0 904.3h0M1402.8 911.4h0M1402.4 917.7h0M1402.1 920.9h0M1405.6 898.7h0M1406.8 904.4h0M1406.1 912.7h0M1406.3 918.7h0M1404.7 921.8h0M1408.0 923.7h0M1407.0 929.1h0M1411.0 925.7h0M1412.2 932.7h0M1413.0 887.7h0M1412.5 893.8h0M1411.8 900.2h0M1413.6 904.3h0M1412.8 909.3h0M1413.8 916.9h0M1415.0 857.7h0M1416.1 860.6h0M1416.0 867.3h0M1414.0 874.8h0M1416.0 879.5h0M1415.2 885.6h0M1415.9 892.1h0M1416.6 842.7h0M1415.5 849.8h0M1415.6 856.0h0M1415.8 862.5h0M1417.5 866.8h0M1416.0 874.1h0M1415.8 877.8h0M1416.3 882.7h0M1419.6 830.7h0M1420.2 833.4h0M1419.7 840.9h0M1420.4 847.9h0M1418.4 853.1h0M1420.9 860.0h0M1420.2 864.7h0M1418.8 868.9h0M1419.4 874.3h0M1419.0 879.0h0M1420.4 884.9h0M1421.4 859.7h0M1420.9 864.9h0M1421.3 868.2h0M1421.7 876.6h0M1422.2 884.6h0M1424.0 891.7h0M1423.2 899.0h0M1424.6 904.8h0M1423.7 912.1h0M1424.8 916.6h0M1426.0 927.7h0M1428.0 911.7h0M1428.0 914.4h0M1426.8 922.3h0M1430.6 872.7h0M1430.7 875.5h0M1430.9 883.4h0M1431.1 889.7h0M1429.6 898.0h0M1431.0 900.5h0M1431.3 904.3h0M1431.8 910.0h0M1430.9 913.5h0M1430.0 916.1h0M1430.1 922.9h0M1433.0 903.7h0M1432.2 910.8h0M1432.3 916.3h0M1433.6 922.1h0M1437.0 911.7h0M1436.5 916.4h0M1436.2 922.9h0M1440.6 901.7h0M1441.7 905.6h0M1440.6 910.3h0M1441.9 913.2h0M1441.8 916.9h0M1444.0 897.7h0M1443.7 906.0h0M1445.2 909.9h0M1448.0 889.7h0M1449.0 898.1h0M1447.5 903.5h0M1447.0 907.0h0M1452.0 895.7h0M1452.0 900.2h0M1451.0 906.3h0M1455.0 867.7h0M1455.4 875.2h0M1454.1 882.0h0M1454.5 885.1h0M1454.4 890.5h0M1454.5 895.8h0M1456.6 851.7h0M1455.5 855.2h0M1457.0 860.4h0M1456.3 867.8h0M1457.2 871.2h0M1456.8 875.2h0M1455.8 882.8h0M1455.6 891.2h0M1459.0 859.7h0M1459.7 865.9h0M1460.3 873.7h0M1458.6 877.8h0M1459.4 883.0h0M1461.0 854.7h0M1461.3 861.5h0M1461.2 866.1h0M1461.8 874.0h0M1460.9 877.4h0M1460.3 882.0h0M1462.6 855.7h0M1462.9 858.7h0M1462.7 863.9h0M1461.6 868.5h0M1462.8 874.3h0M1461.4 877.2h0M117.0 1013.3h0M130.0 1007.3h0M174.0 1006.3h0M193.0 1015.3h0M200.0 1010.3h0M208.0 1015.3h0M224.0 978.3h0M244.4 1005.3h0M257.0 1016.3h0M268.0 1012.3h0M282.0 1016.3h0M290.0 994.3h0M303.0 988.3h0M302.1 980.0h0M302.7 975.2h0M317.0 1020.3h0M325.0 1025.3h0M406.0 1025.2h0M412.0 1026.2h0M420.0 1028.2h0M440.0 1026.2h0M569.9 1028.2h0M656.8 1027.2h0M687.8 1026.2h0M712.0 1027.3h0M740.0 1025.3h0M764.0 1027.3h0M774.0 1025.3h0M795.0 1028.3h0M827.0 1028.3h0M830.0 1019.3h0M836.0 998.3h0M843.0 1000.3h0M845.0 1008.3h0M848.0 1014.3h0M866.0 1024.3h0M871.0 1024.3h0M884.0 1013.3h0M883.4 1005.1h0M907.0 1022.3h0M927.0 1018.3h0M930.0 1021.3h0M940.0 1006.3h0M952.0 1017.3h0M967.0 1018.3h0M978.0 1018.3h0M992.0 1018.3h0M1006.0 1021.3h0M1032.4 1023.3h0M1048.0 1024.3h0M1078.0 1024.3h0M1102.0 1025.3h0M1223.0 1027.3h0M1258.0 1026.3h0M1314.0 1023.3h0M1324.0 1023.3h0M1330.0 1023.3h0M1342.0 1020.3h0M1361.0 1022.3h0M1369.0 1025.3h0M1409.0 1018.3h0M1414.4 1014.3h0M1419.0 1014.3h0M1420.2 1006.8h0M1425.0 1018.3h0M1449.0 1013.3h0M128.5 860.5h0M130.8 830.9h0M130.5 828.0h0M130.1 821.5h0M130.4 815.3h0M130.5 812.6h0M130.2 806.6h0M134.1 826.0h0M134.2 823.4h0M133.9 817.6h0M133.6 809.5h0M134.1 802.7h0M136.7 832.5h0M136.3 826.9h0M137.0 822.8h0M137.7 820.1h0M136.8 816.1h0M136.7 808.0h0M136.2 805.0h0M138.8 840.5h0M140.2 836.3h0M139.1 833.0h0M143.2 883.7h0M148.3 837.2h0M148.6 833.3h0M148.6 825.0h0M148.8 819.5h0M148.5 811.1h0M148.2 805.9h0M147.9 803.2h0M151.6 832.8h0M150.8 824.2h0M150.7 820.0h0M155.0 845.7h0M155.1 840.3h0M155.2 833.4h0M156.5 865.2h0M156.5 857.9h0M157.6 848.9h0M156.8 845.1h0M157.8 839.2h0M160.6 875.2h0M160.5 870.5h0M163.1 871.8h0M166.4 887.4h0M166.4 880.4h0M170.9 860.7h0M171.7 851.4h0M171.9 846.0h0M170.8 840.8h0M171.7 832.5h0M171.5 827.3h0M171.6 822.9h0M172.3 818.0h0M170.9 811.9h0M170.7 802.5h0M175.4 875.5h0M178.0 903.6h0M181.0 890.8h0M179.7 883.7h0M183.9 884.7h0M182.9 881.0h0M182.4 875.4h0M183.3 869.7h0M183.9 860.5h0M186.0 887.7h0M188.2 892.5h0M188.5 889.7h0M188.4 883.9h0M191.5 886.0h0M193.9 862.7h0M195.8 858.3h0M196.8 830.9h0M197.7 822.7h0M197.3 817.8h0M198.2 813.7h0M197.0 807.4h0M198.1 804.4h0M197.2 800.5h0M197.9 794.1h0M201.4 803.3h0M202.6 1003.2h0M206.2 793.0h0M206.3 789.1h0M206.6 993.3h0M207.0 1000.5h0M205.9 1005.1h0M208.6 793.3h0M214.1 794.0h0M218.3 788.5h0M218.0 783.3h0M217.5 780.1h0M218.9 773.9h0M218.7 764.6h0M218.4 759.6h0M221.0 787.4h0M219.9 782.2h0M221.0 779.1h0M220.8 774.4h0M221.0 771.3h0M223.2 740.8h0M223.0 733.7h0M223.0 729.9h0M224.0 723.1h0M223.0 714.4h0M223.9 708.4h0M223.2 702.3h0M223.9 693.3h0M224.0 688.2h0M229.1 734.3h0M228.7 729.5h0M229.0 721.8h0M228.7 712.8h0M230.3 707.1h0M230.4 702.3h0M229.4 695.6h0M230.3 688.9h0M234.5 775.2h0M235.9 766.2h0M235.9 761.5h0M235.3 752.4h0M238.3 803.3h0M241.4 805.2h0M241.8 796.8h0M241.9 789.7h0M244.0 802.0h0M244.4 795.3h0M243.9 791.4h0M246.6 787.9h0M246.4 781.3h0M246.6 776.7h0M246.6 772.0h0M246.4 769.1h0M246.3 765.1h0M247.5 762.6h0M246.5 757.7h0M246.9 752.2h0M247.6 748.0h0M246.5 744.3h0M246.4 735.4h0M247.7 731.6h0M248.0 726.9h0M249.7 785.6h0M248.9 780.6h0M249.8 777.2h0M249.2 772.3h0M248.9 765.1h0M249.6 761.9h0M249.9 758.6h0M250.4 752.3h0M250.8 747.8h0M250.6 743.7h0M250.8 739.2h0M249.1 730.5h0M249.8 724.2h0M249.2 718.9h0M249.0 712.4h0M250.4 705.7h0M249.6 701.0h0M253.1 785.1h0M251.8 777.9h0M252.7 771.7h0M252.7 762.4h0M255.7 833.8h0M257.9 847.7h0M258.9 845.1h0M262.2 843.2h0M261.7 835.7h0M261.0 830.0h0M261.2 826.1h0M265.0 833.6h0M264.5 830.9h0M265.2 825.6h0M264.1 822.0h0M268.1 839.0h0M267.4 834.4h0M267.7 831.4h0M267.3 822.7h0M267.7 816.4h0M269.8 834.8h0M270.8 828.0h0M273.6 839.3h0M272.6 830.9h0M272.5 826.5h0M272.3 823.7h0M273.6 821.0h0M276.6 846.3h0M275.0 838.3h0M275.5 829.9h0M276.5 824.5h0M279.6 861.7h0M278.5 858.9h0M285.2 883.0h0M287.2 877.2h0M288.3 873.1h0M286.7 869.9h0M286.9 867.3h0M287.1 864.4h0M290.8 864.2h0M290.2 861.4h0M292.7 829.3h0M295.4 808.9h0M297.1 805.9h0M296.2 799.4h0M297.1 791.3h0M295.9 788.1h0M295.7 779.8h0M295.9 776.6h0M298.8 809.7h0M299.0 804.6h0M298.5 798.1h0M298.5 788.7h0M298.2 780.5h0M302.3 800.3h0M301.2 794.4h0M304.2 809.3h0M305.9 800.6h0M304.5 797.8h0M305.3 788.8h0M305.8 780.6h0M304.1 771.2h0M304.6 766.8h0M305.8 981.1h0M308.4 812.7h0M307.3 808.9h0M311.6 847.1h0M311.2 843.2h0M309.8 835.6h0M312.7 844.5h0M314.0 841.1h0M314.2 835.9h0M316.3 864.1h0M315.8 858.1h0M316.5 853.9h0M315.8 844.8h0M317.1 835.4h0M317.5 829.2h0M316.9 823.0h0M317.2 816.9h0M315.9 813.8h0M317.1 806.1h0M316.2 800.7h0M316.9 795.8h0M315.7 791.8h0M317.4 784.6h0M317.2 779.8h0M348.7 997.0h0M378.2 1008.7h0M412.4 1004.9h0M565.3 1010.2h0M610.0 1005.2h0M629.1 995.4h0M650.9 967.7h0M649.7 961.3h0M768.1 981.5h0M769.3 1023.6h0M774.4 992.4h0M774.4 989.5h0M774.6 986.5h0M775.3 977.8h0M833.0 864.1h0M836.2 819.9h0M835.8 813.2h0M835.5 809.8h0M835.5 801.4h0M836.4 796.9h0M836.7 791.8h0M835.6 786.8h0M840.7 787.5h0M841.3 779.0h0M842.1 774.7h0M845.3 811.6h0M845.3 807.5h0M843.5 800.6h0M843.6 797.4h0M844.4 794.9h0M844.7 788.2h0M843.8 779.3h0M851.1 841.5h0M852.2 842.6h0M852.5 839.8h0M852.5 834.4h0M852.4 829.5h0M852.8 824.3h0M852.2 817.2h0M853.2 811.3h0M853.7 806.8h0M852.3 798.1h0M853.2 793.1h0M853.3 784.5h0M853.0 782.0h0M852.6 778.5h0M856.6 868.5h0M859.2 916.3h0M859.9 909.9h0M862.3 928.5h0M861.3 925.8h0M866.7 916.3h0M867.4 910.8h0M871.3 898.8h0M869.9 892.6h0M870.6 887.5h0M873.7 872.7h0M879.7 870.6h0M882.5 852.9h0M881.6 845.6h0M882.1 841.1h0M881.1 833.2h0M884.3 852.2h0M890.2 882.1h0M890.6 874.0h0M899.8 901.1h0M900.2 892.7h0M902.3 900.6h0M905.4 902.7h0M908.7 902.3h0M907.6 896.2h0M908.0 892.9h0M911.3 918.4h0M915.9 903.1h0M919.7 874.0h0M919.5 865.3h0M919.0 860.8h0M919.4 852.9h0M920.4 846.1h0M919.2 840.9h0M920.2 836.9h0M920.1 833.9h0M920.3 829.0h0M922.7 871.1h0M923.6 864.0h0M923.4 860.1h0M922.7 854.9h0M925.1 900.2h0M925.6 894.7h0M926.1 886.1h0M931.0 944.4h0M937.4 888.0h0M940.0 886.0h0M939.5 881.5h0M939.5 876.3h0M939.7 868.9h0M943.4 884.7h0M943.0 881.4h0M946.5 886.1h0M949.1 907.6h0M948.5 900.4h0M949.6 894.0h0M949.4 890.4h0M948.9 884.6h0M949.2 880.6h0M952.1 917.0h0M950.8 910.3h0M951.8 903.1h0M960.4 926.8h0M963.1 932.2h0M963.5 926.1h0M972.5 923.0h0M975.6 928.9h0M977.2 934.3h0M980.5 936.7h0M984.1 932.8h0M984.1 925.5h0M989.9 944.2h0M989.2 939.1h0M992.5 938.5h0M1025.2 960.1h0M1024.5 955.1h0M1032.9 963.2h0M1035.8 951.1h0M1035.2 942.8h0M1039.1 951.2h0M1039.4 943.4h0M1064.1 972.2h0M1087.1 971.0h0M1088.2 966.7h0M1087.9 962.9h0M1126.3 990.4h0M1206.4 988.0h0M1206.3 983.7h0M1245.4 988.3h0M1308.2 950.9h0M1308.7 945.1h0M1311.7 949.3h0M1316.6 935.3h0M1322.8 951.7h0M1328.6 955.6h0M1332.1 946.2h0M1335.3 928.3h0M1336.8 927.8h0M1339.9 935.2h0M1340.4 932.4h0M1339.4 925.9h0M1340.8 920.3h0M1343.8 938.2h0M1345.7 942.0h0M1345.7 938.7h0M1361.1 958.4h0M1365.5 969.1h0M1370.0 967.7h0M1378.2 973.7h0M1380.3 957.9h0M1392.2 951.8h0M1394.7 945.8h0M1399.1 928.6h0M1398.3 921.9h0M1401.7 916.9h0M1403.5 923.1h0M1404.5 917.0h0M1403.9 912.9h0M1407.5 929.1h0M1407.7 922.1h0M1410.2 929.7h0M1412.3 913.3h0M1413.6 909.1h0M1413.3 905.1h0M1415.6 883.6h0M1419.2 878.9h0M1418.9 872.3h0M1418.6 866.7h0M1419.6 859.0h0M1418.4 856.5h0M1418.3 853.3h0M1418.8 845.9h0M1418.6 839.1h0M1427.1 930.9h0M1430.7 924.6h0M1430.8 921.5h0M1429.7 915.6h0M1429.8 909.9h0M1429.2 902.8h0M1430.5 895.5h0M1433.1 922.5h0M1436.6 920.7h0M1436.4 917.1h0M1444.1 912.4h0M1444.6 909.6h0M1448.3 907.6h0M1448.2 899.0h0M1449.9 905.5h0M1454.0 902.7h0M1453.3 899.7h0M1457.0 891.7h0M1455.7 885.5h0M1456.7 879.3h0M1459.6 885.7h0M132.6 723.0h0M132.6 734.0h0M132.6 744.6h0M132.6 755.6h0M132.6 765.0h0M132.6 773.0h0M132.6 780.0h0M137.4 765.0h0M137.4 772.0h0M225.6 640.4h0M225.6 645.0h0M225.6 654.0h0M293.6 694.4h0M293.6 703.6h0M293.6 738.0h0M293.6 743.6h0M306.6 611.0h0M306.6 618.4h0M306.6 643.6h0M306.6 649.4h0M306.6 670.4h0M306.6 677.0h0M306.6 693.6h0M305.6 709.6h0M305.6 717.6h0M305.6 726.0h0M307.0 736.0h0M305.6 743.0h0M307.0 749.6h0M306.0 759.0h0M836.4 597.6h0M835.6 624.0h0M835.6 625.6h0M836.4 637.4h0M835.6 644.0h0M835.6 647.4h0M836.4 671.4h0M840.4 676.0h0M836.0 679.0h0M840.6 682.0h0M840.0 688.0h0M838.6 694.0h0M840.6 699.0h0M836.6 701.0h0M839.6 707.0h0M835.6 710.6h0M840.0 717.4h0" stroke="#1f77b4" stroke-width="5.4" stroke-linecap="round" fill="none"/>
<path d="M117.0 956.0 119.0 981.0 121.0 957.0 123.0 953.0 125.0 954.0 127.0 927.0 129.0 955.0 131.0 874.0 133.6 927.0 135.6 879.0 137.0 877.0 140.0 962.0 143.0 909.0 145.6 949.0 148.0 887.0 149.6 929.0 151.0 877.0 153.0 933.0 155.0 901.0 157.0 933.0 159.6 939.0 161.0 961.0 162.4 938.0 164.4 965.0 167.0 921.0 168.4 941.0 170.0 881.0 171.6 845.0 174.0 971.0 176.0 959.0 178.0 961.0 180.0 943.0 183.0 892.0 185.6 965.0 187.6 921.0 189.0 945.0 190.6 920.0 192.0 965.0 194.0 914.0 196.0 945.0 198.0 883.0 201.0 917.0 202.4 845.0 203.6 782.0 204.8 835.0 206.0 873.0 208.4 863.0 209.6 875.0 211.0 839.0 213.0 904.0 215.6 853.0 218.0 855.0 220.0 885.0 221.6 851.0 223.0 899.0 224.4 825.0 225.6 788.0 226.6 799.0 228.0 781.0 229.0 825.0 230.0 879.0 231.6 827.0 234.0 913.0 236.4 837.0 239.0 901.0 241.0 869.0 242.4 840.0 245.0 891.0 247.6 903.0 248.8 825.0 249.6 791.0 250.8 817.0 252.4 869.0 254.4 914.0 256.4 898.0 259.6 958.0 262.0 836.0 264.4 945.0 266.4 897.0 268.0 893.0 269.6 909.0 271.6 896.0 273.0 917.0 274.4 909.0 276.4 935.0 278.4 923.0 281.6 983.0 284.0 941.0 286.0 929.0 288.0 937.0 290.0 925.0 292.0 927.0 293.6 886.0 295.2 925.0 297.6 860.0 299.6 865.0 303.0 920.0 305.6 813.0 308.0 957.0 310.0 945.0 312.4 874.0 314.4 917.0 315.6 880.0 317.0 965.0 318.0 1030.0 319.4 1010.0 321.0 1016.6 325.0 1017.0 329.0 1016.6 331.6 1014.0 334.0 1016.0 338.0 1015.4 343.0 1014.0 348.0 1014.6 352.0 1017.4 358.0 1020.6 364.0 1023.0 370.0 1023.0 375.0 1023.4 378.6 1019.0 381.0 1023.0 387.0 1022.0 392.0 1024.6 398.0 1026.0 400.0 1025.9 402.0 1017.9 404.0 1012.9 406.0 1014.9 409.0 1016.9 411.0 1015.5 413.0 1012.3 414.4 1020.9 417.0 1023.9 420.0 1025.5 424.0 1025.9 428.0 1025.5 431.0 1022.9 434.0 1017.9 437.0 1015.9 439.0 1013.5 441.0 1016.9 442.6 1012.9 444.0 1015.9 446.0 1012.3 448.0 1017.9 450.0 1017.5 452.4 1020.9 455.0 1021.9 458.0 1023.9 460.0 1022.9 462.0 1024.3 464.4 1022.9 466.4 1019.5 469.0 1022.9 472.0 1025.9 476.0 1026.9 480.0 1027.5 483.9 1026.9 486.9 1023.9 488.9 1020.9 490.9 1024.3 493.9 1026.9 497.9 1025.5 500.9 1026.9 504.9 1024.9 507.9 1027.5 511.9 1025.9 514.9 1026.9 517.9 1024.9 519.9 1020.9 521.9 1026.9 524.9 1029.3 535.9 1029.5 547.9 1029.5 553.9 1028.5 559.9 1027.9 564.3 1027.9 565.9 1019.9 567.5 1013.5 569.5 1019.9 571.5 1017.9 573.5 1014.9 575.5 1019.9 577.5 1015.9 579.5 1019.9 581.9 1022.9 584.9 1025.5 587.9 1025.9 590.3 1020.3 592.9 1020.9 594.9 1024.3 597.9 1019.9 600.9 1017.9 602.9 1020.9 605.5 1023.9 607.9 1018.9 609.9 1015.9 611.9 1017.9 614.3 1017.5 616.3 1020.9 618.3 1014.9 619.9 1021.9 621.9 1015.9 623.9 1020.9 625.9 1015.9 627.9 1017.9 629.9 1009.9 631.5 1008.9 633.5 1014.9 635.5 1015.9 637.5 1012.9 639.5 1011.9 641.5 1017.9 642.9 1005.9 644.3 1000.0 645.9 1007.9 647.5 990.0 648.9 985.0 650.2 996.0 652.2 996.0 653.8 1007.9 655.4 1012.9 657.4 1010.9 659.4 1007.9 661.0 994.0 662.4 985.6 663.8 998.0 665.4 1004.0 666.8 1000.0 668.2 1006.9 669.8 1009.9 671.4 1014.3 673.0 1007.9 674.8 1012.9 676.4 1011.9 678.2 1017.9 679.8 1007.9 681.8 1009.9 683.8 1007.9 685.8 1010.9 687.2 1005.0 688.8 1011.9 690.8 1013.9 692.4 1005.9 694.0 1005.0 696.0 1009.0 698.0 1005.0 700.0 1007.0 702.0 1003.0 704.0 1005.0 706.0 1000.0 708.0 1009.0 710.0 1011.0 712.0 1009.0 714.0 1012.0 716.0 1002.0 718.0 1009.0 719.6 1015.0 721.6 1007.0 723.6 1009.0 725.6 997.0 727.0 991.4 729.0 1003.0 730.0 1009.0 731.6 999.0 733.0 1002.0 734.4 993.4 736.4 1003.0 738.4 1005.0 740.4 1007.0 742.4 1000.0 744.4 1015.0 746.4 1017.0 748.0 1010.0 750.0 1011.0 752.0 1015.0 754.0 1020.0 756.0 1013.0 758.0 1021.0 760.4 1019.0 763.0 1021.0 765.6 1013.0 767.6 1009.0 769.0 1008.0 770.4 997.0 771.6 992.6 772.8 1005.0 774.0 1017.0 776.4 1021.0 779.0 1020.0 782.0 1020.0 785.0 1021.0 788.0 1020.6 791.0 1022.0 793.0 1019.0 795.0 1022.6 798.0 1022.0 800.0 1020.0 802.0 1018.0 804.0 1021.0 807.0 1023.0 810.0 1022.0 813.0 1024.0 815.0 1021.0 818.0 1023.0 821.0 1022.0 824.0 1025.0 825.6 1017.0 827.0 1032.0 828.0 985.0 829.0 933.0 830.0 913.0 831.0 945.0 832.4 965.0 834.0 986.0 835.0 925.0 836.4 863.0 837.6 885.0 839.0 834.0 840.4 865.0 842.0 903.0 843.6 889.0 845.0 917.0 846.4 942.0 848.0 925.0 849.6 935.0 850.6 885.0 851.6 817.0 852.6 865.0 854.0 977.0 855.6 930.0 857.0 961.0 859.0 971.0 861.0 997.0 863.0 981.0 865.0 989.0 867.0 957.0 868.4 947.0 870.0 945.0 872.0 983.0 873.6 949.0 875.0 929.0 876.4 917.0 878.0 933.0 879.6 979.0 881.0 927.0 882.6 949.0 884.4 905.0 886.4 869.0 888.0 899.0 890.0 945.0 892.0 985.0 893.6 1000.0 895.6 971.0 897.6 969.0 899.6 936.0 901.0 963.0 903.0 961.0 905.0 989.0 906.4 945.0 907.6 912.0 909.0 965.0 910.0 985.0 911.6 967.0 913.0 971.0 915.0 953.0 917.0 955.0 918.4 943.0 920.0 925.0 921.6 897.4 923.0 925.0 925.0 957.0 927.0 983.0 929.0 994.0 932.0 973.0 934.0 981.0 935.6 992.0 937.6 957.0 939.6 925.0 941.0 883.0 942.4 925.0 943.6 960.0 945.0 939.0 946.4 961.0 948.0 941.0 949.0 937.0 950.4 985.0 951.6 997.0 953.0 972.0 954.4 989.0 956.0 979.0 958.0 971.0 960.0 953.0 961.6 947.4 963.0 963.0 965.0 989.0 966.4 975.0 968.0 990.0 969.6 963.0 971.6 965.0 973.6 971.0 975.0 985.0 976.4 995.0 978.0 985.0 979.6 977.0 981.0 963.0 982.4 992.0 984.2 975.0 984.4 981.0 986.0 994.0 987.6 975.0 989.0 979.0 991.0 956.0 992.4 975.0 993.6 995.0 995.0 985.0 996.4 983.0 998.0 993.0 999.6 985.0 1001.0 989.0 1002.4 985.0 1004.0 978.0 1005.4 993.0 1006.6 1005.0 1008.0 992.0 1009.4 1000.0 1011.0 990.0 1012.4 994.0 1014.0 988.0 1015.6 989.0 1017.2 997.0 1018.6 1002.0 1020.0 985.0 1021.4 992.0 1022.6 997.0 1024.4 978.0 1026.0 995.0 1027.4 1006.0 1029.0 1003.0 1030.4 1006.0 1032.0 1005.0 1033.6 997.0 1035.0 989.0 1036.6 979.0 1038.0 971.0 1039.6 991.0 1041.0 995.0 1042.4 993.0 1044.0 999.0 1045.6 998.0 1047.0 1009.0 1048.4 1015.0 1051.0 1014.0 1053.0 1016.0 1055.0 1013.0 1057.0 1010.0 1059.0 1011.0 1061.0 1001.0 1062.4 991.0 1064.0 989.0 1065.6 994.0 1067.0 1000.0 1068.6 999.0 1070.0 1005.0 1071.6 1009.0 1073.0 1007.0 1074.6 1011.0 1077.0 1016.0 1079.0 1014.0 1081.0 1011.0 1082.4 1014.0 1083.6 995.0 1085.0 981.0 1086.4 993.0 1088.0 1002.0 1089.6 1009.0 1091.0 997.0 1092.4 989.0 1094.0 1005.0 1095.4 997.0 1097.0 983.0 1098.4 1005.0 1099.6 1013.0 1101.0 1003.0 1102.6 1002.0 1104.0 1006.0 1105.6 1004.0 1107.4 1003.0 1109.0 1011.0 1111.0 1019.0 1113.0 1020.0 1115.0 1015.0 1117.0 1013.0 1118.6 1020.0 1120.0 1013.0 1121.4 1020.0 1123.0 1015.0 1124.4 1005.0 1125.6 1003.0 1127.0 1011.0 1129.0 1017.0 1131.0 1021.0 1133.0 1021.0 1135.0 1017.0 1137.0 1018.6 1139.0 1017.0 1141.0 1021.0 1143.0 1017.0 1144.4 1014.6 1146.4 1019.0 1149.0 1021.0 1152.0 1022.6 1155.0 1021.4 1158.0 1021.0 1160.0 1017.0 1162.4 1013.0 1165.0 1011.4 1168.0 1014.0 1171.0 1018.0 1174.0 1020.0 1177.0 1019.4 1180.0 1021.0 1182.4 1020.0 1184.0 1015.0 1185.4 1014.0 1187.0 1020.0 1190.0 1021.0 1193.0 1020.0 1196.0 1018.0 1198.0 1017.0 1200.0 1018.6 1202.0 1015.0 1203.6 1014.0 1205.0 1007.0 1206.0 1002.0 1207.4 1011.0 1209.0 1016.0 1211.0 1018.0 1214.0 1016.0 1217.0 1015.0 1219.0 1019.0 1221.0 1018.0 1223.0 1021.0 1225.0 1019.0 1227.0 1017.0 1229.0 1013.0 1231.0 1017.0 1233.0 1010.0 1235.0 1013.0 1237.0 1012.0 1239.0 1015.0 1241.0 1016.0 1243.0 1012.0 1245.0 1005.0 1246.6 1011.0 1248.4 1013.0 1251.0 1016.0 1253.0 1015.0 1255.0 1018.0 1257.0 1016.0 1259.0 1009.0 1261.0 1005.0 1263.0 1003.0 1264.4 1011.0 1266.0 1005.0 1267.4 1002.0 1269.0 1009.0 1270.4 1008.0 1272.0 1011.0 1274.0 1013.0 1275.4 1003.0 1277.0 1017.0 1278.6 1005.0 1280.0 996.0 1281.4 1007.0 1283.0 1011.0 1285.0 1013.0 1287.0 1012.0 1289.0 1011.0 1291.0 1009.0 1293.0 1006.0 1295.0 997.0 1296.6 993.0 1298.0 1001.0 1299.4 1009.0 1301.0 997.0 1302.6 989.0 1304.6 989.0 1306.0 981.0 1307.6 976.0 1309.0 985.0 1310.6 989.0 1312.0 991.0 1313.4 997.0 1315.0 980.0 1316.6 991.0 1318.0 983.0 1319.4 993.0 1321.0 985.0 1322.4 993.0 1324.0 1005.0 1325.4 989.0 1327.0 978.0 1328.4 997.0 1330.0 1009.0 1331.4 997.0 1333.0 979.0 1334.4 963.0 1336.0 975.0 1337.4 985.0 1339.0 963.0 1340.6 985.0 1342.0 1003.0 1343.4 1004.0 1345.0 985.0 1346.6 965.0 1348.0 993.0 1349.4 1008.0 1351.0 993.0 1352.6 989.0 1354.0 994.0 1355.4 986.0 1357.0 991.0 1358.6 986.0 1360.0 1011.0 1361.4 985.0 1363.0 1005.0 1364.4 1012.0 1366.0 1002.0 1368.0 1005.0 1370.0 1011.0 1372.0 993.0 1373.4 1005.0 1375.0 1020.0 1377.0 1021.0 1378.6 1015.0 1380.0 997.0 1381.4 989.0 1383.0 1003.0 1384.6 993.0 1386.0 981.0 1387.4 976.0 1389.0 985.0 1390.6 978.0 1392.0 985.0 1393.4 997.0 1395.0 1002.0 1396.6 991.0 1398.0 992.0 1399.4 965.0 1400.4 959.0 1401.6 985.0 1403.0 1003.0 1404.4 979.0 1405.6 967.0 1407.0 991.0 1408.4 977.0 1410.0 985.0 1411.4 979.0 1413.0 965.0 1414.0 953.0 1415.4 973.0 1416.4 945.0 1417.6 917.0 1418.6 911.0 1419.8 937.0 1421.0 936.0 1422.4 965.0 1423.6 985.0 1425.0 989.0 1426.6 989.0 1428.0 979.0 1429.4 965.0 1430.4 959.0 1431.6 973.0 1433.0 983.0 1434.4 965.0 1435.8 983.0 1437.0 975.0 1438.6 967.0 1440.6 961.0 1442.0 975.0 1443.4 977.0 1445.0 959.0 1446.4 951.0 1447.6 957.0 1449.0 937.0 1450.4 953.0 1451.6 959.0 1453.0 955.0 1454.6 977.0 1456.0 957.0 1457.4 937.0 1458.6 955.0 1460.0 945.0 1461.4 937.0 1462.6 938.0" fill="none" stroke="#ff7f0e" stroke-width="2.1" stroke-linejoin="round"/>
</g>
<path d="M116.50 1054.5v4.9M284.50 1054.5v4.9M452.50 1054.5v4.9M620.50 1054.5v4.9M789.50 1054.5v4.9M957.50 1054.5v4.9M1125.50 1054.5v4.9M1294.50 1054.5v4.9M116.5 585.50h-4.9M116.5 674.50h-4.9M116.5 763.50h-4.9M116.5 852.50h-4.9M116.5 942.50h-4.9M116.5 1031.50h-4.9" stroke="#000" stroke-width="1.1" fill="none"/>
<rect x="116.5" y="575.5" width="1346.0" height="479.0" fill="none" stroke="#000" stroke-width="1.1"/>
<text x="105.5" y="593.8" font-size="22.1" text-anchor="end">0.25</text>
<text x="105.5" y="682.8" font-size="22.1" text-anchor="end">0.20</text>
<text x="105.5" y="771.8" font-size="22.1" text-anchor="end">0.15</text>
<text x="105.5" y="860.8" font-size="22.1" text-anchor="end">0.10</text>
<text x="105.5" y="950.8" font-size="22.1" text-anchor="end">0.05</text>
<text x="105.5" y="1039.8" font-size="22.1" text-anchor="end">0.00</text>
<text transform="translate(40.0 815.7) rotate(-90)" font-size="22.1" text-anchor="middle">Peak Voltage [V]</text>
<text x="115.5" y="567.0" font-size="26.5">(b)</text>
<rect x="1047.5" y="584.30" width="406.0" height="80.70" rx="3.5" fill="#fff" fill-opacity="0.8" stroke="#ccc" stroke-opacity="0.8" stroke-width="1.4"/>
<circle cx="1073.5" cy="599.50" r="2.8" fill="#1f77b4"/>
<path d="M1053.5 639.10H1092" stroke="#ff7f0e" stroke-width="2.1"/>
<text x="1106.5" y="606.30" font-size="18.5">Raw Data</text>
<text x="1106.5" y="633.30" font-size="18.5">Butterworth Filtered Data</text>
<text x="1106.5" y="653.80" font-size="18.5">(N=6, Tc=3.3333 min, Type: low)</text>
<text x="784.3" y="29.5" font-size="26.7" text-anchor="middle">10.0 MHz N0000052</text>
<text transform="translate(112.00 1078.7) rotate(-30)" font-size="22.1" text-anchor="end">10-15 00</text>
<text transform="translate(280.00 1078.7) rotate(-30)" font-size="22.1" text-anchor="end">10-15 03</text>
<text transform="translate(448.00 1078.7) rotate(-30)" font-size="22.1" text-anchor="end">10-15 06</text>
<text transform="translate(616.00 1078.7) rotate(-30)" font-size="22.1" text-anchor="end">10-15 09</text>
<text transform="translate(785.00 1078.7) rotate(-30)" font-size="22.1" text-anchor="end">10-15 12</text>
<text transform="translate(953.00 1078.7) rotate(-30)" font-size="22.1" text-anchor="end">10-15 15</text>
<text transform="translate(1121.00 1078.7) rotate(-30)" font-size="22.1" text-anchor="end">10-15 18</text>
<text transform="translate(1290.00 1078.7) rotate(-30)" font-size="22.1" text-anchor="end">10-15 21</text>
<text x="788.8" y="1158.7" font-size="22.1" text-anchor="middle">UTC</text>
</svg></body></html>
